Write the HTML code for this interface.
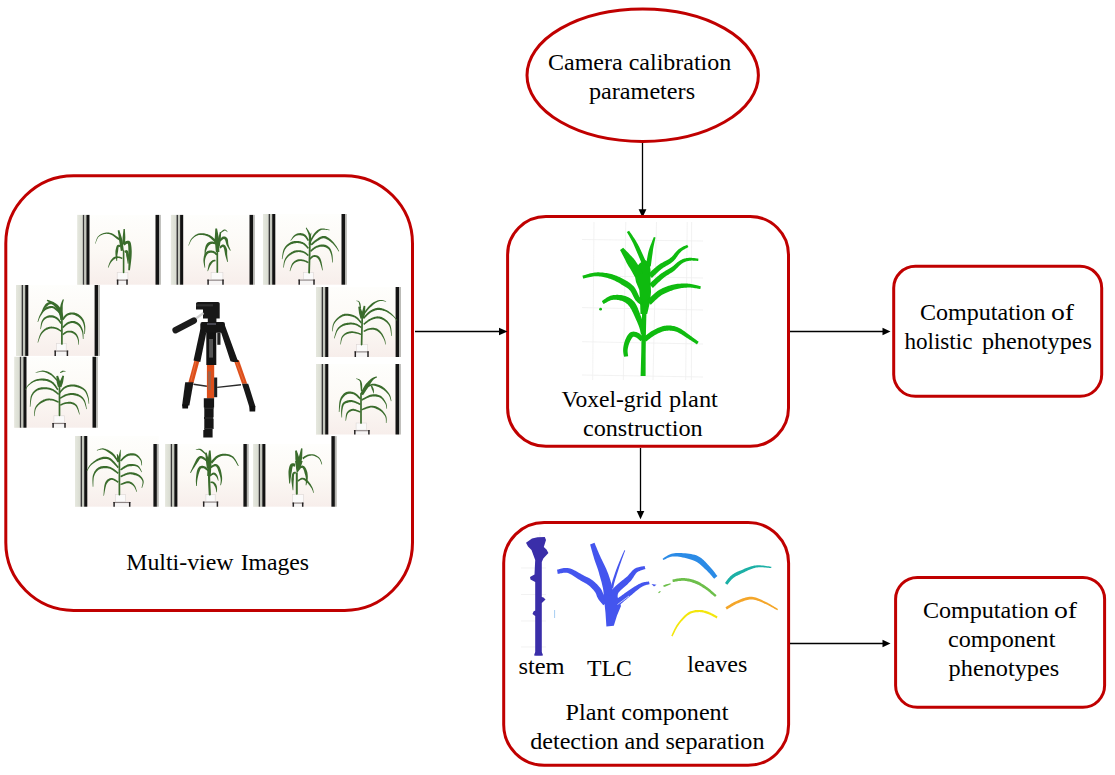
<!DOCTYPE html>
<html><head><meta charset="utf-8">
<style>
html,body{margin:0;padding:0;background:#fff;width:1115px;height:775px;overflow:hidden}
svg{position:absolute;left:0;top:0}
text{font-family:"Liberation Serif",serif;font-size:24px;fill:#000}
</style></head><body>
<svg width="1115" height="775" viewBox="0 0 1115 775">
<defs>
<linearGradient id="pbg" x1="0" y1="0" x2="0" y2="1">
<stop offset="0" stop-color="#fefefc"/><stop offset="0.5" stop-color="#fcf9f5"/><stop offset="1" stop-color="#f7eeeb"/></linearGradient>
<linearGradient id="pstrip" x1="0" y1="0" x2="1" y2="0">
<stop offset="0" stop-color="#e6e8df"/><stop offset="1" stop-color="#d8dbd0"/></linearGradient>
</defs>
<g id="photos">
<g transform="translate(77.20,214.90)">
<rect x="0" y="0.0" width="83.60" height="69.80" fill="url(#pbg)"/>
<rect x="0" y="0.0" width="5.6" height="69.8" fill="url(#pstrip)"/>
<rect x="5.6" y="0.0" width="1.6" height="69.8" fill="#3a3a3a"/>
<rect x="7.2" y="0.0" width="2.0" height="69.8" fill="#c3c6bc"/>
<rect x="9.2" y="0.0" width="3.1" height="69.8" fill="#121212"/>
<rect x="78.30" y="0.0" width="3.5" height="69.8" fill="#141414"/>
<rect x="81.80" y="0.0" width="1.8" height="69.8" fill="#b4b4b0"/>
<rect x="40.00" y="57.40" width="10.70" height="7.30" fill="#fbfafa" stroke="#dcd6d4" stroke-width="0.6"/>
<rect x="39.50" y="64.70" width="11.20" height="5.10" fill="#f6f4f4"/>
<path d="M39.50,65.30H50.70" stroke="#8d8585" stroke-width="1.1" fill="none"/>
<path d="M40.40,64.70V69.80 M49.80,64.70V69.80" stroke="#262222" stroke-width="1.5" fill="none"/>
<path d="M43.74,23.97 L43.59,23.88 L43.41,23.79 L43.21,23.68 L42.99,23.56 L42.75,23.43 L42.48,23.29 L42.20,23.14 L41.90,22.97 L41.58,22.79 L41.25,22.60 L40.90,22.40 L40.54,22.18 L40.17,21.95 L39.76,21.67 L39.32,21.35 L38.85,21.00 L38.35,20.64 L37.84,20.26 L37.30,19.89 L36.76,19.53 L36.20,19.18 L35.63,18.87 L35.05,18.59 L34.48,18.37 L33.92,18.19 L33.36,18.04 L32.79,17.91 L32.22,17.81 L31.64,17.72 L31.06,17.67 L30.48,17.64 L29.90,17.64 L29.31,17.66 L28.73,17.71 L28.16,17.80 L27.58,17.91 L27.01,18.05 L26.43,18.22 L25.83,18.42 L25.23,18.64 L24.63,18.89 L24.04,19.17 L23.45,19.47 L22.89,19.81 L22.35,20.17 L21.83,20.56 L21.35,20.98 L20.91,21.44 L20.51,21.96 L20.14,22.56 L19.80,23.21 L19.49,23.91 L19.20,24.63 L18.94,25.35 L18.71,26.06 L18.49,26.74 L18.30,27.37 L18.13,27.92 L17.98,28.38 L17.84,28.74 L18.16,28.86 L18.31,28.51 L18.49,28.05 L18.70,27.50 L18.92,26.89 L19.17,26.23 L19.45,25.55 L19.74,24.85 L20.06,24.17 L20.39,23.52 L20.74,22.92 L21.11,22.40 L21.49,21.96 L21.90,21.59 L22.35,21.23 L22.84,20.90 L23.36,20.60 L23.90,20.32 L24.45,20.07 L25.02,19.84 L25.59,19.64 L26.16,19.46 L26.73,19.31 L27.28,19.19 L27.82,19.09 L28.33,19.01 L28.85,18.97 L29.37,18.95 L29.89,18.96 L30.41,18.99 L30.92,19.04 L31.44,19.12 L31.95,19.22 L32.46,19.35 L32.96,19.49 L33.45,19.65 L33.92,19.83 L34.38,20.04 L34.84,20.30 L35.32,20.60 L35.81,20.93 L36.29,21.29 L36.77,21.67 L37.25,22.06 L37.72,22.45 L38.18,22.83 L38.62,23.19 L39.05,23.52 L39.46,23.82 L39.84,24.07 L40.20,24.31 L40.53,24.53 L40.86,24.73 L41.16,24.92 L41.44,25.10 L41.71,25.26 L41.95,25.40 L42.16,25.53 L42.35,25.65 L42.52,25.75 L42.66,25.83Z" fill="#3a6c2c"/>
<path d="M46.57,35.69 L46.51,35.16 L46.43,34.50 L46.34,33.71 L46.24,32.82 L46.13,31.86 L46.01,30.84 L45.89,29.78 L45.76,28.71 L45.62,27.65 L45.48,26.61 L45.27,25.63 L45.05,24.71 L44.81,23.83 L44.55,22.91 L44.28,21.97 L43.99,21.03 L43.71,20.10 L43.43,19.20 L43.15,18.34 L42.89,17.53 L42.65,16.79 L42.44,16.13 L42.26,15.56 L42.12,15.11 L40.48,15.49 L40.55,15.97 L40.65,16.56 L40.76,17.24 L40.89,18.01 L41.03,18.85 L41.17,19.74 L41.32,20.66 L41.47,21.60 L41.61,22.56 L41.74,23.50 L41.85,24.41 L41.95,25.29 L42.04,26.18 L42.16,27.14 L42.34,28.15 L42.52,29.19 L42.69,30.24 L42.86,31.28 L43.02,32.28 L43.17,33.24 L43.31,34.12 L43.44,34.90 L43.54,35.58 L43.63,36.11Z" fill="#3a6c2c"/>
<path d="M47.75,29.57 L47.77,29.22 L47.79,28.77 L47.82,28.24 L47.86,27.65 L47.90,27.01 L47.94,26.33 L47.98,25.61 L48.01,24.89 L48.05,24.15 L48.09,23.43 L48.12,22.73 L48.11,22.05 L48.08,21.37 L48.04,20.64 L48.01,19.88 L47.97,19.10 L47.92,18.32 L47.88,17.55 L47.84,16.81 L47.80,16.11 L47.76,15.47 L47.72,14.89 L47.70,14.40 L47.67,14.02 L46.33,13.98 L46.29,14.37 L46.24,14.86 L46.18,15.43 L46.12,16.08 L46.05,16.77 L45.97,17.51 L45.89,18.27 L45.81,19.05 L45.73,19.82 L45.65,20.57 L45.57,21.28 L45.49,21.95 L45.42,22.61 L45.39,23.30 L45.36,24.02 L45.32,24.74 L45.28,25.47 L45.24,26.17 L45.20,26.85 L45.16,27.50 L45.13,28.09 L45.10,28.61 L45.07,29.06 L45.05,29.43Z" fill="#3a6c2c"/>
<path d="M47.16,30.61 L47.35,30.49 L47.58,30.33 L47.83,30.14 L48.09,29.95 L48.37,29.75 L48.65,29.55 L48.93,29.36 L49.20,29.19 L49.45,29.06 L49.64,28.96 L49.77,28.92 L49.88,28.91 L50.14,28.87 L50.44,28.80 L50.67,28.75 L50.83,28.72 L50.90,28.71 L50.86,28.71 L50.74,28.68 L50.61,28.61 L50.54,28.56 L50.56,28.60 L50.64,28.80 L50.73,29.16 L50.83,29.70 L50.92,30.40 L50.99,31.22 L51.06,32.14 L51.11,33.15 L51.15,34.23 L51.17,35.35 L51.18,36.50 L51.24,37.66 L51.31,38.83 L51.37,39.97 L51.41,41.08 L51.44,42.21 L51.44,43.45 L51.43,44.77 L51.40,46.13 L51.36,47.51 L51.32,48.88 L51.26,50.20 L51.21,51.46 L51.16,52.62 L51.12,53.65 L51.08,54.54 L51.06,55.23 L52.74,55.37 L52.83,54.68 L52.94,53.81 L53.08,52.79 L53.23,51.64 L53.40,50.39 L53.57,49.06 L53.74,47.69 L53.91,46.31 L54.06,44.93 L54.20,43.59 L54.31,42.31 L54.39,41.12 L54.45,39.98 L54.50,38.80 L54.53,37.61 L54.54,36.41 L54.48,35.22 L54.40,34.06 L54.32,32.95 L54.22,31.88 L54.10,30.89 L53.98,29.99 L53.83,29.17 L53.67,28.44 L53.47,27.79 L53.20,27.21 L52.85,26.69 L52.38,26.25 L51.82,25.94 L51.25,25.80 L50.74,25.79 L50.33,25.85 L50.00,25.92 L49.74,26.00 L49.55,26.05 L49.32,26.09 L48.92,26.19 L48.49,26.37 L48.09,26.57 L47.72,26.80 L47.36,27.04 L47.02,27.29 L46.71,27.54 L46.41,27.77 L46.15,27.98 L45.93,28.16 L45.77,28.29 L45.64,28.39Z" fill="#3a6c2c"/>
<path d="M48.17,38.13 L48.35,38.04 L48.55,37.91 L48.72,37.79 L48.89,37.68 L49.04,37.58 L49.18,37.51 L49.27,37.47 L49.30,37.47 L49.20,37.50 L48.97,37.47 L48.71,37.34 L48.59,37.24 L48.60,37.31 L48.65,37.51 L48.71,37.81 L48.77,38.18 L48.82,38.60 L48.87,39.06 L48.91,39.55 L48.94,40.06 L48.97,40.59 L49.03,41.12 L49.16,41.63 L49.29,42.13 L49.41,42.64 L49.54,43.21 L49.66,43.82 L49.78,44.46 L49.90,45.11 L50.02,45.76 L50.12,46.40 L50.22,47.00 L50.32,47.56 L50.40,48.06 L50.47,48.48 L50.53,48.81 L51.27,48.79 L51.31,48.45 L51.35,48.03 L51.41,47.53 L51.47,46.97 L51.54,46.36 L51.61,45.71 L51.68,45.05 L51.74,44.37 L51.80,43.70 L51.85,43.05 L51.89,42.44 L51.91,41.87 L51.93,41.33 L51.94,40.78 L51.87,40.23 L51.76,39.69 L51.65,39.15 L51.53,38.62 L51.41,38.11 L51.28,37.63 L51.15,37.18 L51.00,36.76 L50.83,36.36 L50.61,35.96 L50.22,35.54 L49.66,35.24 L49.08,35.19 L48.63,35.29 L48.28,35.44 L48.00,35.62 L47.76,35.80 L47.56,35.96 L47.40,36.11 L47.28,36.22 L47.24,36.26 L47.23,36.27Z" fill="#3a6c2c"/>
<path d="M43.38,30.47 L43.34,30.46 L43.28,30.43 L43.11,30.34 L42.88,30.22 L42.60,30.08 L42.28,29.95 L41.90,29.84 L41.46,29.79 L40.95,29.84 L40.43,30.05 L39.97,30.42 L39.63,30.89 L39.40,31.39 L39.20,31.93 L39.01,32.53 L38.84,33.18 L38.67,33.88 L38.51,34.61 L38.37,35.37 L38.23,36.13 L38.21,36.90 L38.21,37.65 L38.22,38.36 L38.23,39.03 L38.27,39.71 L38.33,40.40 L38.40,41.10 L38.50,41.81 L38.60,42.50 L38.72,43.18 L38.83,43.82 L38.94,44.42 L39.04,44.98 L39.13,45.47 L39.21,45.88 L39.26,46.22 L39.94,46.18 L39.95,45.83 L39.96,45.40 L39.97,44.90 L39.99,44.34 L40.00,43.73 L40.02,43.09 L40.05,42.42 L40.09,41.74 L40.13,41.06 L40.20,40.40 L40.27,39.77 L40.37,39.17 L40.48,38.55 L40.61,37.88 L40.76,37.17 L40.90,36.45 L40.96,35.72 L41.02,35.00 L41.10,34.31 L41.19,33.66 L41.28,33.07 L41.38,32.56 L41.49,32.16 L41.57,31.91 L41.59,31.84 L41.55,31.86 L41.48,31.87 L41.48,31.87 L41.55,31.86 L41.69,31.89 L41.87,31.94 L42.08,32.01 L42.29,32.10 L42.53,32.20 L42.80,32.29 L43.02,32.33Z" fill="#3a6c2c"/>
<path d="M45.38,42.95 L45.25,42.89 L45.09,42.80 L44.88,42.69 L44.65,42.56 L44.38,42.42 L44.10,42.27 L43.78,42.12 L43.45,41.98 L43.11,41.85 L42.74,41.73 L42.36,41.64 L41.98,41.58 L41.62,41.54 L41.25,41.51 L40.87,41.49 L40.46,41.47 L40.05,41.47 L39.61,41.49 L39.18,41.52 L38.73,41.58 L38.28,41.67 L37.83,41.78 L37.38,41.94 L36.94,42.13 L36.52,42.36 L36.12,42.61 L35.74,42.92 L35.38,43.26 L35.03,43.62 L34.69,44.00 L34.37,44.39 L34.05,44.80 L33.75,45.22 L33.46,45.64 L33.19,46.08 L32.92,46.52 L32.66,47.00 L32.41,47.54 L32.18,48.10 L31.95,48.69 L31.74,49.28 L31.54,49.87 L31.35,50.45 L31.18,50.99 L31.03,51.49 L30.89,51.94 L30.77,52.31 L30.67,52.60 L31.13,52.80 L31.28,52.52 L31.45,52.16 L31.65,51.73 L31.87,51.26 L32.11,50.75 L32.37,50.21 L32.65,49.67 L32.93,49.13 L33.22,48.60 L33.51,48.11 L33.80,47.67 L34.08,47.28 L34.37,46.92 L34.68,46.56 L34.99,46.21 L35.31,45.88 L35.64,45.55 L35.97,45.25 L36.30,44.97 L36.64,44.71 L36.97,44.48 L37.28,44.26 L37.58,44.05 L37.86,43.87 L38.14,43.72 L38.43,43.59 L38.75,43.49 L39.08,43.40 L39.42,43.33 L39.77,43.28 L40.13,43.24 L40.48,43.22 L40.84,43.21 L41.18,43.20 L41.52,43.21 L41.82,43.22 L42.09,43.24 L42.35,43.29 L42.63,43.36 L42.91,43.44 L43.19,43.54 L43.47,43.65 L43.73,43.77 L43.99,43.88 L44.23,43.99 L44.45,44.10 L44.65,44.19 L44.82,44.25Z" fill="#3a6c2c"/>
<path d="M46.40,57.60 L46.40,55.80 L46.40,54.00 L46.40,52.20 L46.40,50.40 L46.40,48.60 L46.40,46.80 L46.40,45.00 L46.40,43.20 L46.40,41.40 L46.40,39.60 L46.40,37.80 L46.40,36.00" fill="none" stroke="#3a6c2c" stroke-width="1.6" stroke-linecap="round" stroke-linejoin="round"/>
</g>
<g transform="translate(170.90,214.90)">
<rect x="0" y="0.0" width="83.90" height="69.80" fill="url(#pbg)"/>
<rect x="0" y="0.0" width="5.6" height="69.8" fill="url(#pstrip)"/>
<rect x="5.6" y="0.0" width="1.6" height="69.8" fill="#3a3a3a"/>
<rect x="7.2" y="0.0" width="2.0" height="69.8" fill="#c3c6bc"/>
<rect x="9.2" y="0.0" width="3.1" height="69.8" fill="#121212"/>
<rect x="78.60" y="0.0" width="3.5" height="69.8" fill="#141414"/>
<rect x="82.10" y="0.0" width="1.8" height="69.8" fill="#b4b4b0"/>
<rect x="40.20" y="57.40" width="11.80" height="7.30" fill="#fbfafa" stroke="#dcd6d4" stroke-width="0.6"/>
<rect x="36.30" y="64.70" width="16.70" height="5.10" fill="#f6f4f4"/>
<path d="M36.30,65.30H53.00" stroke="#8d8585" stroke-width="1.1" fill="none"/>
<path d="M37.20,64.70V69.80 M52.10,64.70V69.80" stroke="#262222" stroke-width="1.5" fill="none"/>
<path d="M45.39,25.48 L45.07,25.21 L44.67,24.86 L44.19,24.42 L43.64,23.92 L43.03,23.37 L42.38,22.80 L41.69,22.22 L40.97,21.64 L40.22,21.09 L39.46,20.59 L38.69,20.14 L37.92,19.77 L37.16,19.48 L36.38,19.22 L35.57,18.98 L34.74,18.78 L33.90,18.61 L33.05,18.47 L32.20,18.37 L31.35,18.31 L30.52,18.29 L29.71,18.32 L28.92,18.40 L28.16,18.53 L27.43,18.72 L26.72,18.96 L26.02,19.26 L25.34,19.59 L24.69,19.97 L24.06,20.38 L23.45,20.82 L22.87,21.28 L22.32,21.76 L21.79,22.26 L21.30,22.76 L20.83,23.27 L20.39,23.83 L19.98,24.46 L19.60,25.14 L19.26,25.84 L18.94,26.56 L18.64,27.28 L18.38,27.98 L18.13,28.65 L17.91,29.26 L17.72,29.80 L17.55,30.25 L17.40,30.61 L17.80,30.79 L17.98,30.44 L18.18,29.99 L18.41,29.46 L18.67,28.86 L18.96,28.22 L19.27,27.55 L19.60,26.87 L19.96,26.20 L20.33,25.55 L20.73,24.95 L21.14,24.40 L21.57,23.93 L22.02,23.49 L22.52,23.05 L23.04,22.62 L23.59,22.21 L24.16,21.82 L24.74,21.45 L25.34,21.12 L25.95,20.82 L26.57,20.56 L27.19,20.35 L27.82,20.18 L28.44,20.07 L29.08,20.00 L29.77,19.98 L30.48,20.01 L31.23,20.06 L31.99,20.15 L32.75,20.28 L33.52,20.44 L34.28,20.63 L35.03,20.84 L35.75,21.09 L36.44,21.35 L37.08,21.63 L37.69,21.95 L38.31,22.35 L38.96,22.82 L39.60,23.34 L40.25,23.90 L40.87,24.48 L41.47,25.05 L42.04,25.61 L42.56,26.13 L43.03,26.60 L43.46,27.01 L43.81,27.32Z" fill="#3a6c2c"/>
<path d="M48.45,37.00 L48.44,36.41 L48.42,35.67 L48.39,34.81 L48.37,33.83 L48.34,32.77 L48.31,31.65 L48.28,30.49 L48.25,29.31 L48.22,28.14 L48.19,27.00 L48.16,25.90 L48.13,24.87 L48.07,23.86 L47.88,22.81 L47.68,21.72 L47.47,20.62 L47.27,19.52 L47.07,18.45 L46.88,17.42 L46.70,16.45 L46.54,15.56 L46.39,14.77 L46.26,14.09 L46.16,13.55 L44.44,13.65 L44.40,14.21 L44.36,14.89 L44.31,15.70 L44.26,16.61 L44.20,17.59 L44.14,18.63 L44.07,19.72 L44.01,20.83 L43.94,21.95 L43.87,23.05 L43.81,24.12 L43.87,25.13 L43.96,26.15 L44.06,27.24 L44.16,28.38 L44.27,29.54 L44.37,30.72 L44.47,31.87 L44.57,32.99 L44.67,34.04 L44.75,35.01 L44.83,35.88 L44.90,36.61 L44.95,37.20Z" fill="#3a6c2c"/>
<path d="M48.84,31.60 L48.89,31.24 L48.96,30.79 L49.04,30.26 L49.12,29.66 L49.22,29.01 L49.32,28.32 L49.43,27.61 L49.54,26.89 L49.64,26.18 L49.75,25.48 L49.81,24.81 L49.85,24.18 L49.89,23.57 L49.93,22.92 L49.97,22.26 L50.01,21.59 L50.05,20.92 L50.09,20.27 L50.13,19.65 L50.16,19.06 L50.19,18.52 L50.22,18.04 L50.25,17.63 L50.27,17.30 L48.93,17.10 L48.86,17.42 L48.76,17.83 L48.65,18.29 L48.53,18.82 L48.39,19.39 L48.25,20.00 L48.10,20.64 L47.95,21.29 L47.79,21.94 L47.64,22.58 L47.49,23.21 L47.35,23.82 L47.21,24.43 L47.07,25.09 L46.97,25.78 L46.86,26.50 L46.76,27.22 L46.65,27.93 L46.55,28.61 L46.45,29.26 L46.36,29.86 L46.29,30.39 L46.22,30.84 L46.16,31.20Z" fill="#3a6c2c"/>
<path d="M49.88,18.28 L50.10,18.13 L50.39,17.93 L50.72,17.69 L51.08,17.42 L51.48,17.13 L51.88,16.84 L52.30,16.57 L52.70,16.32 L53.08,16.10 L53.40,15.88 L53.66,15.73 L53.85,15.65 L54.02,15.63 L54.22,15.65 L54.46,15.73 L54.72,15.86 L55.00,16.03 L55.27,16.23 L55.54,16.44 L55.79,16.66 L56.03,16.87 L56.25,17.06 L56.43,17.22 L56.59,17.33 L56.81,17.07 L56.69,16.95 L56.55,16.77 L56.39,16.54 L56.20,16.29 L55.99,16.01 L55.75,15.72 L55.50,15.44 L55.22,15.17 L54.91,14.93 L54.56,14.73 L54.18,14.59 L53.75,14.55 L53.30,14.61 L52.86,14.75 L52.40,14.94 L51.98,15.23 L51.56,15.55 L51.15,15.89 L50.76,16.24 L50.39,16.57 L50.05,16.88 L49.76,17.15 L49.51,17.36 L49.32,17.52Z" fill="#3a6c2c"/>
<path d="M48.86,27.14 L49.09,26.95 L49.38,26.70 L49.71,26.40 L50.08,26.07 L50.47,25.73 L50.87,25.38 L51.28,25.04 L51.68,24.73 L52.06,24.46 L52.38,24.25 L52.63,24.12 L52.79,24.08 L52.91,24.06 L53.04,24.06 L53.15,24.08 L53.25,24.10 L53.34,24.14 L53.44,24.20 L53.54,24.27 L53.64,24.36 L53.75,24.48 L53.87,24.63 L53.99,24.81 L54.09,24.99 L54.17,25.18 L54.27,25.43 L54.40,25.76 L54.54,26.15 L54.67,26.60 L54.80,27.08 L54.93,27.60 L55.08,28.14 L55.23,28.69 L55.40,29.24 L55.60,29.79 L55.82,30.32 L56.08,30.83 L56.36,31.35 L56.66,31.89 L56.98,32.43 L57.31,32.96 L57.65,33.49 L57.97,33.99 L58.28,34.46 L58.56,34.89 L58.81,35.28 L59.02,35.60 L59.18,35.86 L59.82,35.54 L59.70,35.25 L59.55,34.88 L59.37,34.46 L59.17,33.98 L58.95,33.47 L58.73,32.93 L58.50,32.36 L58.28,31.79 L58.07,31.23 L57.88,30.68 L57.71,30.16 L57.58,29.68 L57.48,29.23 L57.40,28.76 L57.34,28.26 L57.29,27.74 L57.25,27.21 L57.21,26.68 L57.17,26.14 L57.12,25.61 L57.04,25.09 L56.94,24.57 L56.76,24.06 L56.51,23.61 L56.24,23.22 L55.97,22.89 L55.67,22.58 L55.34,22.30 L54.99,22.06 L54.61,21.85 L54.21,21.69 L53.79,21.59 L53.36,21.53 L52.92,21.54 L52.48,21.60 L52.01,21.72 L51.53,21.94 L51.07,22.23 L50.63,22.57 L50.20,22.94 L49.78,23.34 L49.36,23.75 L48.97,24.16 L48.60,24.55 L48.26,24.91 L47.96,25.23 L47.72,25.48 L47.54,25.66Z" fill="#3a6c2c"/>
<path d="M49.46,33.62 L49.67,33.49 L49.93,33.30 L50.21,33.09 L50.52,32.86 L50.83,32.63 L51.16,32.40 L51.48,32.19 L51.77,32.02 L52.03,31.90 L52.20,31.85 L52.25,31.85 L52.16,31.85 L52.10,31.85 L52.13,31.88 L52.21,31.98 L52.32,32.13 L52.45,32.33 L52.58,32.58 L52.72,32.87 L52.85,33.19 L52.97,33.53 L53.09,33.89 L53.20,34.25 L53.29,34.59 L53.37,34.92 L53.42,35.26 L53.47,35.63 L53.55,36.03 L53.64,36.46 L53.72,36.92 L53.80,37.40 L53.88,37.90 L53.96,38.43 L54.06,38.96 L54.18,39.51 L54.31,40.06 L54.46,40.63 L54.63,41.25 L54.81,41.90 L55.01,42.58 L55.21,43.26 L55.41,43.94 L55.61,44.59 L55.79,45.21 L55.97,45.79 L56.12,46.30 L56.25,46.73 L56.35,47.07 L57.05,46.93 L57.01,46.58 L56.96,46.13 L56.90,45.60 L56.83,45.00 L56.76,44.36 L56.68,43.68 L56.60,42.98 L56.53,42.28 L56.46,41.58 L56.39,40.92 L56.34,40.30 L56.29,39.74 L56.27,39.23 L56.26,38.73 L56.26,38.22 L56.26,37.72 L56.27,37.23 L56.28,36.73 L56.29,36.23 L56.28,35.74 L56.26,35.24 L56.17,34.75 L56.05,34.27 L55.91,33.81 L55.75,33.38 L55.58,32.96 L55.40,32.55 L55.20,32.13 L54.99,31.73 L54.77,31.34 L54.52,30.97 L54.25,30.61 L53.94,30.28 L53.59,29.98 L53.17,29.73 L52.64,29.55 L52.04,29.53 L51.50,29.65 L51.04,29.86 L50.63,30.10 L50.24,30.37 L49.87,30.66 L49.52,30.95 L49.20,31.24 L48.91,31.50 L48.66,31.72 L48.48,31.88 L48.34,31.98Z" fill="#3a6c2c"/>
<path d="M45.49,27.63 L45.28,27.57 L45.00,27.49 L44.65,27.38 L44.24,27.26 L43.79,27.12 L43.32,26.99 L42.82,26.86 L42.30,26.74 L41.78,26.64 L41.26,26.58 L40.73,26.55 L40.22,26.58 L39.77,26.65 L39.34,26.75 L38.92,26.88 L38.51,27.03 L38.11,27.21 L37.72,27.41 L37.35,27.64 L36.99,27.89 L36.64,28.16 L36.30,28.45 L35.99,28.77 L35.72,29.15 L35.47,29.56 L35.23,29.99 L35.03,30.44 L34.84,30.91 L34.68,31.38 L34.53,31.86 L34.39,32.34 L34.27,32.82 L34.16,33.30 L34.06,33.77 L33.96,34.23 L33.88,34.68 L33.80,35.15 L33.75,35.64 L33.71,36.14 L33.68,36.65 L33.66,37.15 L33.65,37.64 L33.65,38.11 L33.65,38.55 L33.65,38.96 L33.65,39.32 L33.65,39.62 L33.65,39.86 L34.35,39.94 L34.41,39.70 L34.47,39.39 L34.53,39.04 L34.61,38.65 L34.69,38.22 L34.79,37.77 L34.89,37.30 L35.00,36.84 L35.11,36.38 L35.24,35.93 L35.38,35.51 L35.52,35.12 L35.68,34.73 L35.85,34.32 L36.03,33.91 L36.21,33.50 L36.41,33.09 L36.61,32.69 L36.82,32.31 L37.03,31.95 L37.24,31.62 L37.46,31.33 L37.67,31.07 L37.88,30.85 L38.10,30.65 L38.29,30.43 L38.49,30.22 L38.69,30.02 L38.91,29.84 L39.13,29.68 L39.35,29.53 L39.59,29.39 L39.83,29.28 L40.08,29.17 L40.33,29.09 L40.58,29.02 L40.83,28.98 L41.14,28.96 L41.52,28.97 L41.94,29.01 L42.38,29.07 L42.83,29.14 L43.29,29.22 L43.72,29.31 L44.13,29.39 L44.51,29.47 L44.84,29.53 L45.11,29.57Z" fill="#3a6c2c"/>
<path d="M46.59,39.23 L46.45,39.09 L46.28,38.91 L46.06,38.68 L45.81,38.41 L45.53,38.11 L45.22,37.80 L44.88,37.47 L44.52,37.16 L44.14,36.85 L43.73,36.56 L43.30,36.31 L42.84,36.11 L42.39,35.97 L41.93,35.86 L41.45,35.77 L40.96,35.70 L40.46,35.65 L39.96,35.63 L39.45,35.62 L38.96,35.64 L38.47,35.68 L37.99,35.75 L37.53,35.84 L37.10,35.96 L36.69,36.12 L36.31,36.29 L35.94,36.50 L35.60,36.73 L35.27,36.98 L34.97,37.26 L34.68,37.56 L34.43,37.89 L34.21,38.24 L34.01,38.61 L33.82,38.99 L33.64,39.38 L33.48,39.80 L33.32,40.25 L33.18,40.72 L33.04,41.21 L32.92,41.72 L32.82,42.24 L32.72,42.77 L32.65,43.32 L32.59,43.87 L32.54,44.43 L32.52,44.99 L32.51,45.56 L32.54,46.17 L32.59,46.82 L32.68,47.49 L32.78,48.19 L32.90,48.88 L33.04,49.57 L33.17,50.24 L33.30,50.87 L33.42,51.45 L33.53,51.96 L33.62,52.40 L33.68,52.74 L34.32,52.66 L34.30,52.31 L34.27,51.86 L34.23,51.33 L34.18,50.74 L34.13,50.11 L34.09,49.44 L34.05,48.75 L34.02,48.07 L34.01,47.39 L34.01,46.75 L34.04,46.16 L34.09,45.64 L34.16,45.14 L34.25,44.64 L34.35,44.15 L34.47,43.66 L34.60,43.19 L34.75,42.72 L34.90,42.28 L35.06,41.86 L35.23,41.45 L35.40,41.08 L35.58,40.73 L35.76,40.42 L35.93,40.13 L36.11,39.86 L36.29,39.62 L36.47,39.41 L36.63,39.21 L36.78,39.03 L36.94,38.86 L37.11,38.71 L37.28,38.57 L37.47,38.45 L37.68,38.34 L37.90,38.24 L38.15,38.15 L38.45,38.06 L38.79,37.99 L39.16,37.94 L39.55,37.90 L39.96,37.87 L40.36,37.87 L40.77,37.88 L41.16,37.91 L41.53,37.95 L41.87,38.02 L42.16,38.09 L42.41,38.17 L42.69,38.31 L42.98,38.49 L43.29,38.70 L43.60,38.95 L43.91,39.20 L44.20,39.47 L44.49,39.73 L44.75,39.98 L44.99,40.21 L45.22,40.42 L45.41,40.57Z" fill="#3a6c2c"/>
<path d="M44.46,44.86 L44.36,44.87 L44.22,44.88 L44.04,44.88 L43.81,44.89 L43.55,44.90 L43.27,44.92 L42.96,44.96 L42.64,45.01 L42.30,45.10 L41.96,45.21 L41.61,45.37 L41.28,45.56 L40.99,45.77 L40.70,45.98 L40.42,46.21 L40.13,46.46 L39.84,46.74 L39.54,47.04 L39.25,47.35 L38.97,47.69 L38.69,48.06 L38.44,48.46 L38.23,48.90 L38.03,49.37 L37.85,49.89 L37.68,50.47 L37.52,51.08 L37.37,51.73 L37.23,52.39 L37.10,53.05 L36.98,53.69 L36.87,54.31 L36.77,54.87 L36.68,55.37 L36.61,55.79 L36.54,56.12 L37.06,56.28 L37.19,55.97 L37.35,55.57 L37.54,55.09 L37.76,54.56 L37.99,53.99 L38.23,53.39 L38.49,52.78 L38.75,52.18 L39.02,51.61 L39.28,51.08 L39.53,50.62 L39.77,50.23 L40.00,49.89 L40.24,49.57 L40.46,49.25 L40.66,48.93 L40.86,48.63 L41.07,48.35 L41.28,48.09 L41.50,47.84 L41.71,47.61 L41.92,47.40 L42.13,47.20 L42.32,47.04 L42.48,46.91 L42.65,46.81 L42.84,46.73 L43.05,46.65 L43.27,46.59 L43.50,46.54 L43.72,46.50 L43.95,46.47 L44.16,46.44 L44.37,46.41 L44.57,46.38 L44.74,46.34Z" fill="#3a6c2c"/>
<path d="M46.40,57.00 L46.40,55.33 L46.40,53.67 L46.40,52.00 L46.40,50.33 L46.40,48.67 L46.40,47.00 L46.40,45.33 L46.40,43.67 L46.40,42.00 L46.40,40.33 L46.40,38.67 L46.40,37.00" fill="none" stroke="#3a6c2c" stroke-width="1.7" stroke-linecap="round" stroke-linejoin="round"/>
</g>
<g transform="translate(263.00,214.00)">
<rect x="0" y="0.0" width="83.80" height="70.70" fill="url(#pbg)"/>
<rect x="0" y="0.0" width="5.6" height="70.7" fill="url(#pstrip)"/>
<rect x="5.6" y="0.0" width="1.6" height="70.7" fill="#3a3a3a"/>
<rect x="7.2" y="0.0" width="2.0" height="70.7" fill="#c3c6bc"/>
<rect x="9.2" y="0.0" width="3.1" height="70.7" fill="#121212"/>
<rect x="78.50" y="0.0" width="3.5" height="70.7" fill="#141414"/>
<rect x="82.00" y="0.0" width="1.8" height="70.7" fill="#b4b4b0"/>
<rect x="40.30" y="58.40" width="10.10" height="7.10" fill="#fbfafa" stroke="#dcd6d4" stroke-width="0.6"/>
<rect x="35.30" y="65.50" width="16.60" height="5.20" fill="#f6f4f4"/>
<path d="M35.30,66.10H51.90" stroke="#8d8585" stroke-width="1.1" fill="none"/>
<path d="M36.20,65.50V70.70 M51.00,65.50V70.70" stroke="#262222" stroke-width="1.5" fill="none"/>
<path d="M48.01,30.93 L48.02,30.49 L48.05,29.94 L48.08,29.27 L48.13,28.51 L48.17,27.67 L48.20,26.79 L48.23,25.87 L48.23,24.93 L48.21,24.00 L48.16,23.08 L48.03,22.21 L47.84,21.38 L47.58,20.59 L47.26,19.80 L46.90,19.02 L46.49,18.25 L46.07,17.50 L45.64,16.78 L45.21,16.10 L44.80,15.47 L44.43,14.89 L44.09,14.38 L43.82,13.95 L43.61,13.60 L42.79,14.00 L42.95,14.40 L43.17,14.88 L43.44,15.44 L43.73,16.06 L44.04,16.74 L44.36,17.45 L44.67,18.19 L44.97,18.95 L45.24,19.71 L45.47,20.45 L45.65,21.16 L45.76,21.82 L45.82,22.50 L45.86,23.26 L45.90,24.08 L45.90,24.93 L45.88,25.81 L45.85,26.69 L45.80,27.54 L45.74,28.36 L45.69,29.12 L45.64,29.80 L45.60,30.40 L45.59,30.87Z" fill="#3a6c2c"/>
<path d="M47.26,24.12 L47.41,23.70 L47.56,23.28 L47.71,22.85 L47.87,22.43 L48.02,22.00 L48.11,21.56 L48.15,21.11 L48.19,20.66 L48.24,20.20 L48.28,19.75 L48.32,19.30 L48.36,18.84 L48.04,18.76 L47.85,19.17 L47.66,19.58 L47.46,20.00 L47.27,20.41 L47.08,20.82 L46.89,21.24 L46.75,21.66 L46.67,22.10 L46.59,22.55 L46.50,22.99 L46.42,23.43 L46.34,23.88Z" fill="#3a6c2c"/>
<path d="M48.11,27.65 L48.33,27.30 L48.59,26.85 L48.89,26.32 L49.22,25.74 L49.58,25.11 L49.96,24.45 L50.37,23.78 L50.79,23.11 L51.22,22.46 L51.65,21.85 L52.08,21.30 L52.51,20.81 L52.95,20.33 L53.42,19.85 L53.89,19.37 L54.37,18.91 L54.84,18.45 L55.30,17.99 L55.77,17.56 L56.25,17.16 L56.74,16.80 L57.25,16.49 L57.76,16.22 L58.29,16.01 L58.86,15.85 L59.53,15.75 L60.27,15.71 L61.07,15.71 L61.89,15.74 L62.72,15.81 L63.54,15.89 L64.32,15.99 L65.04,16.08 L65.68,16.16 L66.24,16.22 L66.67,16.25 L66.73,15.75 L66.32,15.67 L65.79,15.56 L65.16,15.41 L64.45,15.23 L63.68,15.05 L62.86,14.88 L62.02,14.72 L61.16,14.58 L60.31,14.49 L59.47,14.45 L58.67,14.48 L57.91,14.59 L57.21,14.79 L56.54,15.05 L55.89,15.36 L55.26,15.71 L54.65,16.11 L54.07,16.54 L53.50,16.99 L52.96,17.48 L52.47,18.00 L52.00,18.53 L51.54,19.06 L51.09,19.59 L50.64,20.18 L50.19,20.83 L49.75,21.51 L49.33,22.22 L48.93,22.95 L48.55,23.66 L48.19,24.36 L47.86,25.02 L47.56,25.62 L47.30,26.16 L47.07,26.60 L46.89,26.95Z" fill="#3a6c2c"/>
<path d="M48.77,31.53 L49.01,31.32 L49.31,31.05 L49.65,30.74 L50.03,30.40 L50.44,30.03 L50.87,29.64 L51.33,29.24 L51.81,28.85 L52.29,28.46 L52.78,28.09 L53.26,27.75 L53.75,27.43 L54.28,27.11 L54.83,26.75 L55.41,26.39 L56.00,26.04 L56.60,25.69 L57.19,25.36 L57.79,25.05 L58.37,24.79 L58.92,24.57 L59.45,24.41 L59.93,24.31 L60.37,24.27 L60.79,24.29 L61.22,24.35 L61.66,24.46 L62.12,24.59 L62.59,24.75 L63.08,24.95 L63.58,25.18 L64.09,25.45 L64.60,25.74 L65.11,26.04 L65.62,26.37 L66.13,26.69 L66.62,27.02 L67.11,27.38 L67.61,27.78 L68.11,28.20 L68.61,28.65 L69.10,29.11 L69.59,29.59 L70.06,30.08 L70.53,30.56 L70.98,31.05 L71.41,31.52 L71.82,31.98 L72.21,32.44 L72.60,32.93 L72.99,33.45 L73.36,33.97 L73.73,34.51 L74.08,35.03 L74.40,35.53 L74.71,36.01 L74.99,36.45 L75.24,36.85 L75.46,37.19 L75.64,37.46 L76.16,37.14 L76.01,36.86 L75.82,36.51 L75.61,36.10 L75.37,35.63 L75.11,35.12 L74.82,34.58 L74.52,34.02 L74.20,33.45 L73.86,32.87 L73.51,32.30 L73.15,31.75 L72.78,31.22 L72.40,30.71 L72.00,30.19 L71.59,29.65 L71.16,29.11 L70.71,28.56 L70.25,28.02 L69.78,27.49 L69.29,26.97 L68.80,26.46 L68.29,25.98 L67.78,25.53 L67.27,25.11 L66.77,24.72 L66.27,24.34 L65.75,23.96 L65.22,23.59 L64.67,23.24 L64.11,22.90 L63.52,22.60 L62.91,22.33 L62.28,22.12 L61.61,21.99 L60.93,21.92 L60.23,21.93 L59.52,22.02 L58.82,22.21 L58.13,22.45 L57.45,22.75 L56.78,23.09 L56.13,23.46 L55.49,23.85 L54.87,24.25 L54.28,24.65 L53.71,25.04 L53.17,25.42 L52.65,25.77 L52.12,26.14 L51.60,26.55 L51.08,26.98 L50.58,27.42 L50.10,27.86 L49.64,28.30 L49.21,28.72 L48.81,29.11 L48.44,29.47 L48.12,29.79 L47.86,30.06 L47.63,30.27Z" fill="#3a6c2c"/>
<path d="M48.00,37.93 L48.29,37.71 L48.64,37.42 L49.04,37.08 L49.48,36.71 L49.96,36.32 L50.46,35.91 L50.99,35.50 L51.53,35.10 L52.07,34.72 L52.60,34.39 L53.11,34.10 L53.60,33.87 L54.11,33.67 L54.65,33.47 L55.22,33.29 L55.79,33.13 L56.38,32.99 L56.96,32.87 L57.54,32.77 L58.12,32.70 L58.67,32.66 L59.21,32.64 L59.71,32.66 L60.18,32.71 L60.64,32.78 L61.11,32.89 L61.57,33.02 L62.03,33.15 L62.49,33.30 L62.95,33.48 L63.39,33.68 L63.81,33.91 L64.22,34.16 L64.61,34.43 L64.97,34.73 L65.31,35.03 L65.62,35.37 L65.92,35.74 L66.20,36.15 L66.48,36.60 L66.74,37.08 L66.98,37.58 L67.21,38.11 L67.43,38.66 L67.64,39.22 L67.83,39.80 L68.01,40.37 L68.19,40.94 L68.34,41.54 L68.48,42.19 L68.60,42.90 L68.71,43.63 L68.80,44.38 L68.89,45.13 L68.96,45.85 L69.02,46.54 L69.07,47.18 L69.12,47.75 L69.17,48.24 L69.21,48.62 L69.79,48.58 L69.78,48.20 L69.77,47.72 L69.77,47.15 L69.77,46.51 L69.77,45.81 L69.76,45.07 L69.75,44.31 L69.72,43.54 L69.67,42.77 L69.61,42.03 L69.52,41.31 L69.41,40.66 L69.28,40.04 L69.15,39.43 L68.99,38.81 L68.83,38.20 L68.65,37.59 L68.44,36.99 L68.22,36.40 L67.97,35.83 L67.70,35.28 L67.40,34.75 L67.06,34.24 L66.69,33.77 L66.29,33.33 L65.86,32.92 L65.40,32.53 L64.92,32.18 L64.42,31.85 L63.89,31.54 L63.35,31.27 L62.79,31.03 L62.21,30.82 L61.62,30.68 L61.02,30.57 L60.42,30.49 L59.80,30.46 L59.16,30.47 L58.51,30.51 L57.85,30.59 L57.20,30.70 L56.54,30.84 L55.88,31.01 L55.24,31.19 L54.60,31.40 L53.98,31.63 L53.39,31.87 L52.80,32.13 L52.21,32.44 L51.61,32.81 L51.02,33.22 L50.44,33.66 L49.89,34.11 L49.35,34.57 L48.84,35.02 L48.37,35.44 L47.94,35.83 L47.57,36.18 L47.25,36.46 L47.00,36.67Z" fill="#3a6c2c"/>
<path d="M47.31,45.66 L47.50,45.50 L47.72,45.28 L47.97,45.04 L48.25,44.77 L48.54,44.48 L48.85,44.20 L49.17,43.92 L49.48,43.66 L49.79,43.44 L50.08,43.25 L50.34,43.13 L50.56,43.06 L50.81,43.01 L51.09,42.98 L51.40,42.96 L51.71,42.97 L52.03,43.00 L52.35,43.05 L52.66,43.12 L52.97,43.21 L53.26,43.32 L53.54,43.45 L53.78,43.59 L54.01,43.75 L54.23,43.93 L54.45,44.13 L54.65,44.34 L54.84,44.57 L55.04,44.82 L55.26,45.09 L55.47,45.39 L55.69,45.73 L55.91,46.10 L56.13,46.52 L56.36,46.99 L56.59,47.49 L56.83,48.07 L57.09,48.76 L57.35,49.55 L57.62,50.40 L57.88,51.29 L58.14,52.19 L58.39,53.07 L58.63,53.92 L58.84,54.71 L59.04,55.41 L59.20,56.00 L59.34,56.46 L59.86,56.34 L59.79,55.88 L59.70,55.27 L59.59,54.55 L59.48,53.74 L59.35,52.87 L59.21,51.95 L59.06,51.02 L58.90,50.09 L58.74,49.19 L58.57,48.35 L58.39,47.58 L58.21,46.91 L58.02,46.33 L57.84,45.79 L57.64,45.29 L57.44,44.81 L57.23,44.37 L57.00,43.95 L56.76,43.56 L56.49,43.20 L56.19,42.87 L55.87,42.58 L55.54,42.31 L55.19,42.05 L54.80,41.82 L54.39,41.62 L53.96,41.45 L53.53,41.32 L53.08,41.22 L52.64,41.15 L52.19,41.11 L51.75,41.09 L51.31,41.11 L50.88,41.16 L50.46,41.23 L50.04,41.34 L49.60,41.52 L49.18,41.76 L48.78,42.04 L48.41,42.35 L48.05,42.68 L47.71,43.02 L47.40,43.35 L47.11,43.66 L46.85,43.95 L46.62,44.20 L46.44,44.40 L46.29,44.54Z" fill="#3a6c2c"/>
<path d="M46.07,26.15 L45.92,25.91 L45.73,25.58 L45.51,25.18 L45.25,24.73 L44.97,24.23 L44.67,23.70 L44.34,23.17 L44.00,22.64 L43.63,22.12 L43.25,21.63 L42.84,21.19 L42.41,20.80 L41.98,20.48 L41.53,20.21 L41.07,19.97 L40.61,19.76 L40.13,19.59 L39.65,19.44 L39.16,19.31 L38.68,19.21 L38.20,19.14 L37.73,19.10 L37.26,19.10 L36.80,19.12 L36.35,19.16 L35.90,19.21 L35.44,19.28 L34.98,19.37 L34.53,19.48 L34.07,19.62 L33.63,19.78 L33.18,19.97 L32.74,20.18 L32.31,20.42 L31.89,20.70 L31.47,21.00 L31.05,21.38 L30.64,21.81 L30.23,22.29 L29.83,22.81 L29.43,23.34 L29.06,23.88 L28.70,24.42 L28.37,24.93 L28.06,25.40 L27.79,25.81 L27.56,26.16 L27.38,26.42 L27.82,26.78 L28.05,26.54 L28.33,26.22 L28.66,25.84 L29.02,25.42 L29.41,24.96 L29.83,24.49 L30.26,24.02 L30.70,23.56 L31.14,23.14 L31.56,22.76 L31.96,22.44 L32.33,22.20 L32.68,22.00 L33.05,21.83 L33.42,21.68 L33.79,21.56 L34.16,21.46 L34.54,21.38 L34.91,21.32 L35.29,21.28 L35.67,21.26 L36.05,21.25 L36.42,21.26 L36.80,21.28 L37.18,21.31 L37.56,21.36 L37.95,21.40 L38.34,21.44 L38.73,21.49 L39.11,21.56 L39.49,21.65 L39.86,21.76 L40.22,21.89 L40.56,22.04 L40.89,22.21 L41.19,22.40 L41.48,22.63 L41.80,22.93 L42.13,23.31 L42.48,23.73 L42.82,24.19 L43.16,24.67 L43.48,25.15 L43.78,25.61 L44.06,26.05 L44.32,26.44 L44.55,26.79 L44.73,27.05Z" fill="#3a6c2c"/>
<path d="M45.98,33.85 L45.76,33.61 L45.50,33.29 L45.18,32.90 L44.82,32.46 L44.42,31.97 L43.98,31.46 L43.52,30.94 L43.03,30.43 L42.52,29.93 L41.98,29.46 L41.42,29.03 L40.85,28.67 L40.28,28.38 L39.70,28.12 L39.09,27.88 L38.47,27.66 L37.84,27.48 L37.19,27.32 L36.53,27.18 L35.87,27.07 L35.21,26.99 L34.55,26.94 L33.90,26.91 L33.25,26.92 L32.60,26.95 L31.94,27.01 L31.28,27.11 L30.61,27.23 L29.95,27.37 L29.29,27.58 L28.65,27.82 L28.01,28.08 L27.40,28.37 L26.80,28.68 L26.22,29.02 L25.68,29.38 L25.15,29.76 L24.65,30.16 L24.16,30.58 L23.68,31.03 L23.22,31.50 L22.78,32.00 L22.36,32.52 L21.95,33.07 L21.58,33.64 L21.22,34.24 L20.90,34.86 L20.59,35.52 L20.32,36.25 L20.08,37.06 L19.87,37.94 L19.68,38.85 L19.52,39.78 L19.38,40.72 L19.26,41.63 L19.15,42.49 L19.06,43.28 L18.97,43.99 L18.89,44.58 L18.82,45.04 L19.38,45.16 L19.49,44.69 L19.62,44.10 L19.76,43.40 L19.92,42.62 L20.10,41.77 L20.29,40.88 L20.50,39.98 L20.73,39.09 L20.98,38.23 L21.24,37.42 L21.52,36.70 L21.81,36.08 L22.12,35.52 L22.46,34.99 L22.82,34.48 L23.19,34.00 L23.59,33.55 L24.00,33.12 L24.42,32.71 L24.86,32.33 L25.31,31.97 L25.77,31.63 L26.25,31.31 L26.72,31.02 L27.21,30.75 L27.72,30.51 L28.26,30.28 L28.81,30.08 L29.37,29.89 L29.95,29.73 L30.52,29.59 L31.10,29.44 L31.67,29.31 L32.24,29.21 L32.80,29.13 L33.35,29.08 L33.90,29.06 L34.46,29.06 L35.04,29.08 L35.62,29.13 L36.20,29.20 L36.77,29.30 L37.35,29.42 L37.91,29.56 L38.45,29.72 L38.98,29.91 L39.48,30.11 L39.95,30.33 L40.39,30.58 L40.84,30.90 L41.31,31.28 L41.78,31.70 L42.25,32.15 L42.70,32.62 L43.14,33.09 L43.54,33.55 L43.92,33.98 L44.26,34.36 L44.57,34.70 L44.82,34.95Z" fill="#3a6c2c"/>
<path d="M45.86,40.90 L45.64,40.73 L45.38,40.50 L45.06,40.21 L44.69,39.89 L44.29,39.53 L43.85,39.16 L43.38,38.78 L42.88,38.41 L42.37,38.05 L41.83,37.71 L41.27,37.41 L40.70,37.17 L40.14,36.98 L39.57,36.80 L38.98,36.64 L38.37,36.50 L37.74,36.37 L37.09,36.27 L36.44,36.19 L35.77,36.14 L35.11,36.13 L34.44,36.14 L33.77,36.20 L33.10,36.29 L32.44,36.43 L31.77,36.61 L31.09,36.83 L30.42,37.08 L29.76,37.39 L29.11,37.73 L28.48,38.09 L27.86,38.48 L27.27,38.88 L26.70,39.28 L26.16,39.70 L25.66,40.13 L25.18,40.56 L24.72,41.02 L24.29,41.49 L23.88,41.98 L23.49,42.48 L23.12,43.00 L22.77,43.52 L22.45,44.06 L22.15,44.60 L21.87,45.15 L21.62,45.71 L21.38,46.28 L21.16,46.88 L20.99,47.54 L20.84,48.23 L20.72,48.94 L20.62,49.65 L20.53,50.35 L20.47,51.02 L20.41,51.66 L20.36,52.25 L20.32,52.77 L20.28,53.21 L20.23,53.56 L20.77,53.64 L20.84,53.29 L20.92,52.85 L21.01,52.33 L21.10,51.75 L21.21,51.12 L21.33,50.47 L21.47,49.79 L21.62,49.12 L21.79,48.46 L21.98,47.83 L22.19,47.25 L22.42,46.72 L22.68,46.23 L22.96,45.73 L23.26,45.25 L23.58,44.77 L23.91,44.31 L24.27,43.85 L24.64,43.41 L25.03,42.99 L25.43,42.58 L25.85,42.19 L26.29,41.82 L26.74,41.47 L27.23,41.13 L27.74,40.80 L28.29,40.47 L28.85,40.15 L29.44,39.85 L30.04,39.57 L30.64,39.31 L31.24,39.07 L31.82,38.83 L32.40,38.62 L32.96,38.44 L33.50,38.31 L34.03,38.21 L34.58,38.14 L35.14,38.10 L35.71,38.09 L36.29,38.11 L36.87,38.16 L37.44,38.22 L38.01,38.31 L38.56,38.42 L39.10,38.54 L39.62,38.68 L40.10,38.83 L40.55,38.99 L41.00,39.21 L41.46,39.48 L41.93,39.77 L42.39,40.09 L42.84,40.43 L43.27,40.76 L43.67,41.09 L44.04,41.40 L44.39,41.68 L44.69,41.92 L44.94,42.10Z" fill="#3a6c2c"/>
<path d="M45.69,47.95 L45.47,47.84 L45.19,47.70 L44.85,47.52 L44.46,47.31 L44.04,47.09 L43.59,46.85 L43.11,46.61 L42.61,46.38 L42.11,46.16 L41.59,45.97 L41.08,45.79 L40.58,45.66 L40.10,45.56 L39.62,45.47 L39.12,45.38 L38.62,45.31 L38.10,45.26 L37.58,45.22 L37.05,45.20 L36.52,45.21 L35.98,45.24 L35.45,45.30 L34.91,45.40 L34.39,45.54 L33.90,45.73 L33.42,45.95 L32.94,46.20 L32.47,46.47 L32.00,46.77 L31.54,47.10 L31.10,47.45 L30.67,47.83 L30.26,48.23 L29.86,48.66 L29.50,49.12 L29.15,49.61 L28.83,50.16 L28.53,50.79 L28.26,51.46 L28.01,52.17 L27.78,52.90 L27.57,53.62 L27.37,54.34 L27.19,55.01 L27.03,55.64 L26.89,56.19 L26.77,56.66 L26.66,57.01 L27.14,57.19 L27.29,56.83 L27.47,56.38 L27.67,55.84 L27.89,55.24 L28.14,54.59 L28.41,53.91 L28.69,53.23 L28.99,52.56 L29.30,51.92 L29.62,51.33 L29.93,50.82 L30.25,50.39 L30.58,50.02 L30.93,49.67 L31.30,49.35 L31.69,49.05 L32.09,48.77 L32.49,48.51 L32.91,48.28 L33.33,48.07 L33.76,47.89 L34.18,47.72 L34.60,47.58 L35.01,47.46 L35.39,47.34 L35.79,47.24 L36.20,47.17 L36.63,47.12 L37.07,47.09 L37.52,47.08 L37.98,47.09 L38.44,47.12 L38.89,47.16 L39.35,47.21 L39.80,47.27 L40.22,47.34 L40.64,47.42 L41.07,47.54 L41.53,47.69 L41.99,47.86 L42.46,48.05 L42.93,48.25 L43.37,48.45 L43.80,48.65 L44.19,48.83 L44.54,49.00 L44.86,49.14 L45.11,49.25Z" fill="#3a6c2c"/>
<path d="M46.10,58.60 L46.12,57.94 L46.14,57.13 L46.17,56.17 L46.21,55.09 L46.24,53.92 L46.28,52.68 L46.32,51.39 L46.36,50.07 L46.40,48.75 L46.43,47.45 L46.47,46.19 L46.50,45.00 L46.53,43.80 L46.56,42.52 L46.59,41.18 L46.62,39.81 L46.65,38.45 L46.67,37.10 L46.70,35.80 L46.73,34.57 L46.75,33.45 L46.77,32.44 L46.79,31.58 L46.80,30.90" fill="none" stroke="#3a6c2c" stroke-width="1.8" stroke-linecap="round" stroke-linejoin="round"/>
</g>
<g transform="translate(16.00,285.00)">
<rect x="0" y="0.0" width="83.90" height="70.90" fill="url(#pbg)"/>
<rect x="0" y="0.0" width="5.6" height="70.9" fill="url(#pstrip)"/>
<rect x="5.6" y="0.0" width="1.6" height="70.9" fill="#3a3a3a"/>
<rect x="7.2" y="0.0" width="2.0" height="70.9" fill="#c3c6bc"/>
<rect x="9.2" y="0.0" width="3.1" height="70.9" fill="#121212"/>
<rect x="78.60" y="0.0" width="3.5" height="70.9" fill="#141414"/>
<rect x="82.10" y="0.0" width="1.8" height="70.9" fill="#b4b4b0"/>
<rect x="40.30" y="58.30" width="9.90" height="7.20" fill="#fbfafa" stroke="#dcd6d4" stroke-width="0.6"/>
<rect x="38.30" y="65.50" width="14.00" height="5.40" fill="#f6f4f4"/>
<path d="M38.30,66.10H52.30" stroke="#8d8585" stroke-width="1.1" fill="none"/>
<path d="M39.20,65.50V70.90 M51.40,65.50V70.90" stroke="#262222" stroke-width="1.5" fill="none"/>
<path d="M47.51,34.61 L47.49,34.41 L47.47,34.15 L47.46,33.83 L47.44,33.46 L47.41,33.04 L47.38,32.59 L47.34,32.10 L47.28,31.59 L47.21,31.05 L47.11,30.51 L46.99,29.95 L46.85,29.41 L46.70,28.89 L46.53,28.35 L46.36,27.79 L46.16,27.22 L45.95,26.62 L45.72,26.02 L45.48,25.41 L45.22,24.81 L44.93,24.20 L44.63,23.60 L44.30,23.02 L43.94,22.45 L43.58,21.91 L43.19,21.39 L42.74,20.93 L42.27,20.47 L41.79,20.04 L41.30,19.62 L40.80,19.21 L40.28,18.82 L39.77,18.44 L39.24,18.09 L38.71,17.74 L38.17,17.41 L37.58,17.08 L36.95,16.77 L36.29,16.48 L35.62,16.21 L34.95,15.95 L34.29,15.72 L33.65,15.50 L33.05,15.30 L32.50,15.12 L32.01,14.96 L31.60,14.82 L31.28,14.70 L30.72,15.90 L31.02,16.08 L31.42,16.30 L31.87,16.55 L32.38,16.83 L32.92,17.13 L33.49,17.46 L34.07,17.80 L34.65,18.15 L35.21,18.51 L35.73,18.88 L36.21,19.24 L36.63,19.59 L37.03,19.95 L37.44,20.34 L37.83,20.74 L38.22,21.14 L38.59,21.56 L38.95,21.98 L39.30,22.42 L39.63,22.85 L39.94,23.29 L40.23,23.74 L40.55,24.14 L40.86,24.55 L41.14,24.96 L41.41,25.40 L41.68,25.87 L41.93,26.36 L42.18,26.87 L42.41,27.39 L42.64,27.91 L42.85,28.44 L43.04,28.95 L43.23,29.46 L43.40,29.94 L43.55,30.39 L43.68,30.80 L43.78,31.21 L43.87,31.64 L43.95,32.07 L44.02,32.49 L44.07,32.91 L44.12,33.32 L44.16,33.71 L44.19,34.08 L44.22,34.42 L44.26,34.73 L44.29,34.99Z" fill="#3a6c2c"/>
<path d="M46.68,29.95 L46.69,29.48 L46.69,28.88 L46.69,28.18 L46.69,27.40 L46.69,26.56 L46.69,25.68 L46.70,24.78 L46.72,23.88 L46.74,23.01 L46.73,22.18 L46.72,21.42 L46.74,20.76 L46.78,20.15 L46.84,19.53 L46.93,18.91 L47.03,18.29 L47.15,17.69 L47.28,17.11 L47.41,16.56 L47.53,16.05 L47.65,15.58 L47.76,15.15 L47.85,14.77 L47.92,14.46 L46.88,14.14 L46.77,14.42 L46.62,14.75 L46.44,15.15 L46.23,15.59 L46.01,16.09 L45.77,16.62 L45.53,17.19 L45.29,17.80 L45.06,18.43 L44.84,19.08 L44.64,19.75 L44.46,20.44 L44.31,21.18 L44.16,21.99 L44.04,22.85 L43.98,23.76 L43.93,24.69 L43.88,25.61 L43.85,26.50 L43.81,27.35 L43.79,28.13 L43.76,28.83 L43.74,29.40 L43.72,29.85Z" fill="#3a6c2c"/>
<path d="M44.33,27.10 L44.04,26.83 L43.66,26.46 L43.22,26.01 L42.71,25.49 L42.15,24.94 L41.56,24.36 L40.94,23.78 L40.31,23.22 L39.68,22.69 L39.04,22.21 L38.41,21.80 L37.79,21.48 L37.18,21.25 L36.58,21.10 L35.98,21.01 L35.39,20.97 L34.82,20.98 L34.27,21.03 L33.73,21.11 L33.21,21.21 L32.71,21.33 L32.23,21.46 L31.78,21.59 L31.34,21.72 L30.90,21.87 L30.47,22.06 L30.06,22.27 L29.65,22.50 L29.27,22.74 L28.89,23.00 L28.53,23.29 L28.17,23.59 L27.83,23.91 L27.49,24.24 L27.16,24.60 L26.82,24.99 L26.49,25.40 L26.16,25.86 L25.84,26.33 L25.53,26.83 L25.22,27.35 L24.93,27.88 L24.64,28.41 L24.36,28.95 L24.10,29.49 L23.84,30.02 L23.60,30.54 L23.38,31.04 L23.16,31.56 L22.95,32.11 L22.75,32.68 L22.57,33.25 L22.39,33.82 L22.23,34.37 L22.08,34.91 L21.94,35.41 L21.82,35.87 L21.71,36.28 L21.61,36.63 L21.53,36.90 L22.07,37.10 L22.18,36.82 L22.31,36.48 L22.47,36.08 L22.63,35.63 L22.82,35.15 L23.02,34.64 L23.23,34.11 L23.45,33.57 L23.69,33.04 L23.93,32.52 L24.17,32.02 L24.42,31.56 L24.69,31.09 L24.97,30.61 L25.26,30.13 L25.57,29.63 L25.89,29.14 L26.21,28.66 L26.54,28.19 L26.87,27.74 L27.20,27.31 L27.53,26.91 L27.86,26.54 L28.18,26.21 L28.49,25.91 L28.81,25.63 L29.12,25.37 L29.43,25.14 L29.74,24.93 L30.05,24.73 L30.36,24.56 L30.68,24.40 L31.01,24.26 L31.34,24.13 L31.69,24.01 L32.06,23.88 L32.46,23.74 L32.88,23.60 L33.30,23.47 L33.72,23.34 L34.14,23.24 L34.56,23.16 L34.98,23.10 L35.39,23.07 L35.80,23.08 L36.21,23.12 L36.61,23.20 L37.01,23.32 L37.45,23.52 L37.96,23.82 L38.52,24.21 L39.12,24.66 L39.74,25.16 L40.35,25.69 L40.95,26.22 L41.52,26.73 L42.05,27.22 L42.53,27.66 L42.94,28.03 L43.27,28.30Z" fill="#3a6c2c"/>
<path d="M37.45,17.56 L37.25,17.53 L36.99,17.48 L36.65,17.41 L36.25,17.33 L35.80,17.25 L35.32,17.17 L34.80,17.10 L34.27,17.06 L33.71,17.05 L33.14,17.09 L32.56,17.20 L31.99,17.38 L31.47,17.64 L30.97,17.93 L30.50,18.27 L30.03,18.64 L29.62,19.07 L29.26,19.54 L28.91,20.02 L28.59,20.49 L28.28,20.97 L28.00,21.42 L27.73,21.86 L27.48,22.28 L27.25,22.71 L27.03,23.15 L26.83,23.61 L26.66,24.06 L26.50,24.51 L26.36,24.94 L26.24,25.35 L26.12,25.73 L26.03,26.08 L25.94,26.39 L25.86,26.65 L25.79,26.86 L26.41,27.14 L26.53,26.95 L26.67,26.70 L26.83,26.41 L27.00,26.10 L27.19,25.76 L27.40,25.40 L27.62,25.03 L27.86,24.66 L28.11,24.30 L28.37,23.95 L28.64,23.63 L28.92,23.32 L29.23,23.00 L29.57,22.65 L29.93,22.30 L30.31,21.94 L30.70,21.58 L31.09,21.24 L31.49,20.92 L31.85,20.60 L32.17,20.28 L32.47,20.00 L32.76,19.78 L33.01,19.62 L33.25,19.50 L33.54,19.41 L33.88,19.35 L34.27,19.31 L34.69,19.29 L35.12,19.30 L35.55,19.32 L35.97,19.35 L36.36,19.39 L36.73,19.42 L37.07,19.44 L37.35,19.44Z" fill="#3a6c2c"/>
<path d="M45.83,37.90 L45.65,37.66 L45.42,37.34 L45.16,36.95 L44.85,36.50 L44.52,36.01 L44.15,35.50 L43.77,34.98 L43.36,34.45 L42.93,33.94 L42.49,33.46 L42.04,33.01 L41.57,32.63 L41.11,32.29 L40.63,31.99 L40.15,31.70 L39.64,31.44 L39.13,31.20 L38.60,30.98 L38.07,30.78 L37.53,30.61 L36.99,30.46 L36.45,30.34 L35.91,30.25 L35.37,30.19 L34.82,30.16 L34.27,30.16 L33.71,30.19 L33.15,30.29 L32.60,30.41 L32.06,30.56 L31.52,30.73 L31.00,30.92 L30.50,31.14 L30.01,31.38 L29.55,31.63 L29.11,31.91 L28.70,32.21 L28.32,32.53 L27.95,32.86 L27.60,33.22 L27.28,33.60 L26.97,34.00 L26.68,34.41 L26.41,34.84 L26.16,35.29 L25.93,35.76 L25.71,36.24 L25.50,36.75 L25.31,37.31 L25.15,37.94 L25.01,38.61 L24.89,39.31 L24.78,40.03 L24.69,40.74 L24.61,41.44 L24.53,42.10 L24.47,42.70 L24.42,43.24 L24.37,43.70 L24.32,44.05 L24.88,44.15 L24.97,43.80 L25.06,43.35 L25.17,42.81 L25.29,42.21 L25.43,41.57 L25.58,40.90 L25.74,40.21 L25.91,39.53 L26.09,38.88 L26.28,38.27 L26.49,37.72 L26.70,37.25 L26.92,36.83 L27.16,36.42 L27.40,36.03 L27.66,35.66 L27.93,35.32 L28.20,34.99 L28.49,34.69 L28.79,34.41 L29.10,34.15 L29.42,33.91 L29.75,33.69 L30.09,33.49 L30.45,33.31 L30.83,33.14 L31.24,32.99 L31.67,32.85 L32.12,32.74 L32.57,32.64 L33.03,32.57 L33.49,32.51 L33.94,32.48 L34.38,32.43 L34.81,32.41 L35.23,32.41 L35.65,32.44 L36.08,32.49 L36.53,32.56 L36.98,32.66 L37.43,32.78 L37.88,32.92 L38.33,33.09 L38.78,33.27 L39.22,33.47 L39.64,33.69 L40.05,33.93 L40.43,34.17 L40.79,34.45 L41.18,34.79 L41.57,35.18 L41.97,35.62 L42.37,36.08 L42.76,36.56 L43.13,37.03 L43.48,37.49 L43.80,37.92 L44.10,38.31 L44.36,38.64 L44.57,38.90Z" fill="#3a6c2c"/>
<path d="M45.57,45.59 L45.34,45.45 L45.07,45.27 L44.74,45.04 L44.36,44.78 L43.95,44.50 L43.51,44.21 L43.04,43.91 L42.56,43.61 L42.07,43.32 L41.57,43.06 L41.07,42.82 L40.58,42.62 L40.10,42.46 L39.63,42.30 L39.15,42.16 L38.65,42.03 L38.15,41.91 L37.64,41.81 L37.12,41.73 L36.60,41.67 L36.08,41.63 L35.55,41.61 L35.02,41.62 L34.49,41.66 L33.96,41.73 L33.43,41.82 L32.90,41.93 L32.37,42.06 L31.83,42.22 L31.30,42.40 L30.78,42.62 L30.28,42.87 L29.78,43.15 L29.30,43.44 L28.84,43.75 L28.39,44.08 L27.96,44.42 L27.55,44.78 L27.14,45.15 L26.75,45.55 L26.37,45.96 L26.00,46.39 L25.65,46.85 L25.31,47.32 L24.98,47.81 L24.66,48.32 L24.36,48.85 L24.06,49.41 L23.78,50.03 L23.51,50.72 L23.24,51.46 L23.00,52.24 L22.76,53.04 L22.54,53.83 L22.33,54.60 L22.14,55.34 L21.96,56.02 L21.81,56.62 L21.67,57.13 L21.56,57.52 L22.04,57.68 L22.19,57.29 L22.37,56.79 L22.57,56.20 L22.80,55.54 L23.06,54.83 L23.33,54.08 L23.61,53.32 L23.91,52.57 L24.21,51.83 L24.52,51.15 L24.83,50.53 L25.14,49.99 L25.44,49.50 L25.77,49.04 L26.10,48.59 L26.43,48.17 L26.78,47.77 L27.13,47.39 L27.49,47.04 L27.86,46.70 L28.24,46.38 L28.62,46.08 L29.01,45.79 L29.41,45.52 L29.82,45.28 L30.24,45.05 L30.67,44.83 L31.11,44.64 L31.57,44.46 L32.02,44.29 L32.47,44.11 L32.93,43.96 L33.38,43.82 L33.83,43.71 L34.28,43.61 L34.71,43.54 L35.14,43.49 L35.57,43.46 L36.01,43.46 L36.46,43.47 L36.91,43.51 L37.36,43.56 L37.81,43.63 L38.27,43.72 L38.72,43.82 L39.16,43.93 L39.60,44.05 L40.02,44.18 L40.44,44.33 L40.87,44.51 L41.32,44.73 L41.79,44.97 L42.25,45.23 L42.70,45.49 L43.14,45.76 L43.55,46.02 L43.94,46.26 L44.28,46.48 L44.59,46.66 L44.83,46.81Z" fill="#3a6c2c"/>
<path d="M47.26,35.34 L47.48,35.08 L47.74,34.75 L48.04,34.36 L48.37,33.93 L48.73,33.47 L49.11,33.00 L49.50,32.53 L49.91,32.08 L50.31,31.65 L50.71,31.28 L51.08,30.97 L51.44,30.73 L51.80,30.52 L52.20,30.33 L52.61,30.16 L53.03,30.01 L53.47,29.89 L53.91,29.78 L54.35,29.70 L54.79,29.64 L55.24,29.60 L55.68,29.58 L56.11,29.58 L56.53,29.61 L56.94,29.66 L57.36,29.73 L57.79,29.84 L58.23,29.97 L58.68,30.12 L59.12,30.29 L59.57,30.49 L60.00,30.69 L60.43,30.92 L60.85,31.15 L61.27,31.37 L61.67,31.59 L62.06,31.82 L62.44,32.07 L62.82,32.32 L63.19,32.60 L63.54,32.88 L63.89,33.18 L64.23,33.49 L64.55,33.82 L64.86,34.16 L65.16,34.51 L65.44,34.88 L65.71,35.27 L65.96,35.68 L66.21,36.11 L66.44,36.56 L66.66,37.02 L66.87,37.51 L67.07,38.02 L67.25,38.53 L67.42,39.07 L67.58,39.61 L67.73,40.16 L67.86,40.72 L67.97,41.29 L68.07,41.88 L68.14,42.54 L68.20,43.25 L68.24,43.99 L68.27,44.74 L68.28,45.49 L68.29,46.22 L68.29,46.91 L68.29,47.55 L68.28,48.12 L68.29,48.61 L68.30,48.99 L68.90,49.01 L68.93,48.63 L68.96,48.15 L69.01,47.58 L69.07,46.94 L69.13,46.25 L69.18,45.51 L69.23,44.75 L69.27,43.98 L69.29,43.22 L69.30,42.48 L69.28,41.77 L69.23,41.11 L69.15,40.50 L69.07,39.89 L68.96,39.29 L68.84,38.70 L68.71,38.11 L68.56,37.53 L68.39,36.97 L68.20,36.41 L68.00,35.87 L67.78,35.34 L67.55,34.83 L67.29,34.33 L67.01,33.85 L66.72,33.38 L66.40,32.93 L66.07,32.50 L65.72,32.08 L65.36,31.68 L64.98,31.30 L64.59,30.93 L64.19,30.58 L63.78,30.24 L63.36,29.92 L62.93,29.61 L62.49,29.31 L62.02,29.02 L61.53,28.77 L61.02,28.54 L60.50,28.31 L59.97,28.11 L59.43,27.92 L58.88,27.76 L58.33,27.62 L57.78,27.51 L57.22,27.44 L56.67,27.39 L56.13,27.38 L55.59,27.40 L55.05,27.45 L54.50,27.52 L53.96,27.62 L53.42,27.74 L52.89,27.90 L52.36,28.07 L51.84,28.28 L51.34,28.51 L50.85,28.78 L50.36,29.07 L49.87,29.44 L49.40,29.86 L48.94,30.34 L48.50,30.84 L48.08,31.35 L47.68,31.87 L47.30,32.38 L46.95,32.87 L46.64,33.32 L46.36,33.71 L46.13,34.02 L45.94,34.26Z" fill="#3a6c2c"/>
<path d="M47.13,43.20 L47.39,42.99 L47.70,42.71 L48.06,42.38 L48.45,42.02 L48.88,41.63 L49.33,41.23 L49.80,40.83 L50.27,40.44 L50.75,40.07 L51.21,39.74 L51.64,39.46 L52.05,39.23 L52.47,39.04 L52.91,38.84 L53.35,38.66 L53.79,38.50 L54.23,38.36 L54.67,38.24 L55.11,38.15 L55.54,38.08 L55.96,38.03 L56.37,38.02 L56.78,38.03 L57.17,38.08 L57.58,38.15 L58.01,38.26 L58.45,38.39 L58.90,38.55 L59.34,38.74 L59.79,38.94 L60.25,39.14 L60.70,39.37 L61.13,39.62 L61.54,39.89 L61.94,40.18 L62.30,40.50 L62.66,40.84 L63.01,41.22 L63.36,41.64 L63.70,42.09 L64.02,42.57 L64.34,43.07 L64.64,43.60 L64.93,44.14 L65.19,44.69 L65.44,45.25 L65.67,45.82 L65.88,46.38 L66.06,46.96 L66.21,47.60 L66.34,48.30 L66.45,49.03 L66.54,49.78 L66.62,50.52 L66.69,51.25 L66.74,51.94 L66.79,52.58 L66.83,53.15 L66.87,53.63 L66.91,54.02 L67.49,53.98 L67.48,53.60 L67.48,53.12 L67.49,52.56 L67.50,51.91 L67.51,51.22 L67.52,50.48 L67.51,49.71 L67.48,48.94 L67.44,48.17 L67.36,47.42 L67.26,46.69 L67.12,46.02 L66.95,45.39 L66.76,44.77 L66.55,44.14 L66.32,43.52 L66.06,42.90 L65.79,42.30 L65.49,41.71 L65.17,41.14 L64.83,40.59 L64.48,40.07 L64.10,39.57 L63.70,39.10 L63.27,38.67 L62.81,38.26 L62.33,37.88 L61.83,37.52 L61.31,37.19 L60.78,36.89 L60.23,36.63 L59.67,36.43 L59.10,36.25 L58.54,36.11 L57.98,36.00 L57.43,35.92 L56.87,35.89 L56.31,35.90 L55.76,35.94 L55.21,36.02 L54.67,36.14 L54.14,36.28 L53.62,36.45 L53.10,36.64 L52.60,36.84 L52.11,37.07 L51.63,37.31 L51.15,37.57 L50.64,37.87 L50.13,38.23 L49.62,38.63 L49.12,39.06 L48.63,39.50 L48.16,39.95 L47.71,40.38 L47.29,40.80 L46.91,41.18 L46.57,41.52 L46.29,41.79 L46.07,42.00Z" fill="#3a6c2c"/>
<path d="M47.01,50.28 L47.23,50.13 L47.50,49.94 L47.81,49.71 L48.15,49.46 L48.51,49.19 L48.89,48.92 L49.29,48.65 L49.69,48.40 L50.08,48.17 L50.47,47.97 L50.82,47.81 L51.16,47.70 L51.50,47.62 L51.86,47.56 L52.24,47.51 L52.62,47.47 L53.01,47.46 L53.41,47.46 L53.80,47.48 L54.18,47.52 L54.56,47.57 L54.93,47.64 L55.28,47.73 L55.62,47.83 L55.95,47.96 L56.28,48.10 L56.62,48.26 L56.96,48.42 L57.31,48.59 L57.65,48.78 L57.98,48.99 L58.31,49.21 L58.62,49.44 L58.92,49.69 L59.21,49.95 L59.47,50.21 L59.71,50.50 L59.95,50.82 L60.19,51.16 L60.41,51.53 L60.62,51.92 L60.83,52.32 L61.02,52.73 L61.20,53.16 L61.37,53.58 L61.52,54.00 L61.66,54.42 L61.79,54.82 L61.90,55.22 L61.99,55.65 L62.07,56.11 L62.13,56.58 L62.18,57.05 L62.22,57.52 L62.25,57.97 L62.27,58.40 L62.29,58.80 L62.31,59.16 L62.33,59.46 L62.35,59.71 L62.85,59.69 L62.86,59.45 L62.87,59.16 L62.89,58.80 L62.91,58.40 L62.94,57.97 L62.96,57.51 L62.97,57.02 L62.97,56.53 L62.96,56.03 L62.93,55.53 L62.88,55.04 L62.81,54.58 L62.72,54.13 L62.61,53.68 L62.50,53.22 L62.37,52.75 L62.22,52.28 L62.06,51.81 L61.89,51.34 L61.69,50.88 L61.48,50.43 L61.25,50.00 L61.00,49.58 L60.73,49.19 L60.44,48.81 L60.13,48.46 L59.80,48.12 L59.45,47.79 L59.08,47.48 L58.70,47.19 L58.31,46.92 L57.91,46.66 L57.49,46.44 L57.06,46.26 L56.62,46.10 L56.18,45.97 L55.74,45.86 L55.28,45.77 L54.82,45.70 L54.35,45.66 L53.88,45.64 L53.41,45.64 L52.93,45.66 L52.46,45.71 L52.00,45.77 L51.54,45.86 L51.09,45.96 L50.64,46.10 L50.18,46.28 L49.72,46.51 L49.27,46.77 L48.82,47.06 L48.39,47.37 L47.98,47.68 L47.59,47.99 L47.23,48.28 L46.90,48.55 L46.62,48.79 L46.38,48.98 L46.19,49.12Z" fill="#3a6c2c"/>
<path d="M45.90,59.00 L45.90,56.92 L45.90,54.83 L45.90,52.75 L45.90,50.67 L45.90,48.58 L45.90,46.50 L45.90,44.42 L45.90,42.33 L45.90,40.25 L45.90,38.17 L45.90,36.08 L45.90,34.00" fill="none" stroke="#3a6c2c" stroke-width="1.7" stroke-linecap="round" stroke-linejoin="round"/>
</g>
<g transform="translate(14.20,356.80)">
<rect x="0" y="0.0" width="83.60" height="70.90" fill="url(#pbg)"/>
<rect x="0" y="0.0" width="5.6" height="70.9" fill="url(#pstrip)"/>
<rect x="5.6" y="0.0" width="1.6" height="70.9" fill="#3a3a3a"/>
<rect x="7.2" y="0.0" width="2.0" height="70.9" fill="#c3c6bc"/>
<rect x="9.2" y="0.0" width="3.1" height="70.9" fill="#121212"/>
<rect x="78.30" y="0.0" width="3.5" height="70.9" fill="#141414"/>
<rect x="81.80" y="0.0" width="1.8" height="70.9" fill="#b4b4b0"/>
<rect x="39.70" y="59.00" width="10.40" height="7.10" fill="#fbfafa" stroke="#dcd6d4" stroke-width="0.6"/>
<rect x="38.00" y="66.10" width="13.70" height="4.80" fill="#f6f4f4"/>
<path d="M38.00,66.70H51.70" stroke="#8d8585" stroke-width="1.1" fill="none"/>
<path d="M38.90,66.10V70.90 M50.80,66.10V70.90" stroke="#262222" stroke-width="1.5" fill="none"/>
<path d="M46.88,29.55 L46.83,29.26 L46.75,28.89 L46.67,28.46 L46.58,27.97 L46.47,27.45 L46.36,26.90 L46.25,26.32 L46.14,25.75 L46.03,25.18 L45.93,24.63 L45.74,24.13 L45.57,23.67 L45.41,23.22 L45.24,22.76 L45.08,22.29 L44.91,21.82 L44.74,21.35 L44.58,20.90 L44.43,20.47 L44.29,20.06 L44.16,19.68 L44.04,19.35 L43.94,19.06 L43.86,18.83 L42.14,19.17 L42.15,19.42 L42.17,19.72 L42.19,20.07 L42.21,20.47 L42.23,20.90 L42.25,21.36 L42.28,21.84 L42.31,22.34 L42.33,22.85 L42.36,23.35 L42.40,23.85 L42.43,24.33 L42.46,24.83 L42.50,25.37 L42.63,25.92 L42.78,26.49 L42.92,27.06 L43.06,27.63 L43.20,28.18 L43.33,28.70 L43.45,29.18 L43.56,29.60 L43.65,29.97 L43.72,30.25Z" fill="#3a6c2c"/>
<path d="M47.22,30.33 L47.32,30.05 L47.44,29.69 L47.58,29.26 L47.74,28.78 L47.91,28.27 L48.10,27.72 L48.28,27.15 L48.48,26.58 L48.66,26.02 L48.85,25.47 L48.94,24.93 L49.02,24.43 L49.10,23.95 L49.18,23.45 L49.27,22.94 L49.35,22.43 L49.43,21.93 L49.51,21.45 L49.59,20.98 L49.66,20.54 L49.73,20.14 L49.79,19.79 L49.84,19.48 L49.88,19.23 L48.32,18.77 L48.22,19.00 L48.10,19.28 L47.95,19.61 L47.78,19.98 L47.60,20.39 L47.41,20.82 L47.21,21.27 L47.00,21.73 L46.79,22.20 L46.58,22.67 L46.38,23.12 L46.18,23.57 L45.97,24.03 L45.75,24.53 L45.59,25.08 L45.44,25.65 L45.28,26.23 L45.12,26.81 L44.96,27.36 L44.82,27.89 L44.68,28.38 L44.56,28.81 L44.46,29.18 L44.38,29.47Z" fill="#3a6c2c"/>
<path d="M43.44,23.28 L43.16,22.97 L42.82,22.57 L42.41,22.08 L41.95,21.53 L41.45,20.94 L40.91,20.32 L40.33,19.68 L39.74,19.04 L39.13,18.42 L38.51,17.83 L37.88,17.29 L37.26,16.82 L36.65,16.41 L36.02,16.01 L35.37,15.63 L34.70,15.29 L34.00,15.00 L33.29,14.74 L32.58,14.50 L31.87,14.29 L31.16,14.11 L30.45,13.97 L29.75,13.87 L29.05,13.81 L28.33,13.81 L27.58,13.87 L26.82,14.00 L26.05,14.17 L25.30,14.36 L24.57,14.58 L23.86,14.81 L23.20,15.04 L22.60,15.25 L22.06,15.43 L21.61,15.58 L21.25,15.69 L21.35,16.11 L21.73,16.04 L22.21,15.93 L22.76,15.80 L23.38,15.65 L24.05,15.49 L24.76,15.33 L25.49,15.19 L26.23,15.06 L26.96,14.98 L27.66,14.93 L28.33,14.93 L28.95,14.99 L29.55,15.11 L30.17,15.26 L30.80,15.45 L31.43,15.67 L32.06,15.92 L32.69,16.20 L33.32,16.51 L33.93,16.84 L34.55,17.16 L35.17,17.49 L35.77,17.83 L36.34,18.18 L36.90,18.56 L37.49,19.02 L38.09,19.53 L38.69,20.09 L39.29,20.68 L39.87,21.27 L40.43,21.86 L40.95,22.42 L41.43,22.94 L41.87,23.41 L42.25,23.81 L42.56,24.12Z" fill="#3a6c2c"/>
<path d="M46.22,16.32 L46.38,16.25 L46.59,16.15 L46.83,16.04 L47.10,15.92 L47.38,15.78 L47.68,15.65 L47.98,15.52 L48.28,15.40 L48.57,15.29 L48.82,15.15 L49.03,15.03 L49.21,14.94 L49.37,14.88 L49.56,14.84 L49.76,14.81 L49.98,14.81 L50.19,14.81 L50.41,14.83 L50.62,14.85 L50.82,14.88 L51.01,14.91 L51.19,14.93 L51.34,14.96 L51.46,14.96 L51.54,14.64 L51.43,14.59 L51.31,14.53 L51.16,14.46 L50.98,14.37 L50.79,14.28 L50.58,14.18 L50.35,14.09 L50.11,14.01 L49.85,13.94 L49.58,13.88 L49.29,13.85 L48.99,13.86 L48.68,13.90 L48.36,13.96 L48.03,14.06 L47.72,14.23 L47.42,14.41 L47.12,14.60 L46.83,14.79 L46.56,14.97 L46.32,15.13 L46.10,15.28 L45.92,15.39 L45.78,15.48Z" fill="#3a6c2c"/>
<path d="M44.31,32.56 L44.07,32.21 L43.78,31.77 L43.44,31.22 L43.05,30.60 L42.62,29.93 L42.16,29.22 L41.67,28.50 L41.15,27.78 L40.61,27.08 L40.04,26.42 L39.46,25.81 L38.87,25.29 L38.27,24.83 L37.67,24.42 L37.04,24.03 L36.40,23.67 L35.74,23.35 L35.06,23.05 L34.37,22.78 L33.66,22.53 L32.95,22.32 L32.22,22.13 L31.49,21.98 L30.74,21.85 L29.97,21.75 L29.17,21.70 L28.35,21.70 L27.52,21.73 L26.67,21.79 L25.83,21.87 L24.99,21.99 L24.16,22.13 L23.34,22.30 L22.55,22.49 L21.78,22.71 L21.05,22.96 L20.34,23.25 L19.64,23.59 L18.96,23.96 L18.31,24.37 L17.67,24.80 L17.06,25.25 L16.47,25.71 L15.91,26.17 L15.38,26.64 L14.88,27.09 L14.41,27.53 L13.97,27.96 L13.56,28.39 L13.19,28.86 L12.84,29.33 L12.54,29.82 L12.26,30.30 L12.00,30.76 L11.78,31.21 L11.58,31.63 L11.39,32.01 L11.23,32.35 L11.09,32.63 L10.97,32.86 L11.43,33.14 L11.58,32.91 L11.75,32.62 L11.94,32.29 L12.14,31.93 L12.37,31.53 L12.62,31.11 L12.89,30.68 L13.19,30.25 L13.51,29.82 L13.86,29.41 L14.23,29.01 L14.63,28.64 L15.07,28.27 L15.55,27.88 L16.07,27.47 L16.61,27.06 L17.18,26.66 L17.77,26.26 L18.38,25.88 L19.00,25.53 L19.63,25.20 L20.27,24.90 L20.91,24.65 L21.55,24.44 L22.22,24.26 L22.92,24.11 L23.66,23.99 L24.42,23.89 L25.20,23.81 L25.98,23.76 L26.77,23.74 L27.55,23.74 L28.32,23.77 L29.06,23.83 L29.78,23.89 L30.46,23.95 L31.12,24.04 L31.78,24.16 L32.43,24.30 L33.08,24.47 L33.71,24.66 L34.33,24.88 L34.94,25.12 L35.53,25.39 L36.11,25.69 L36.67,26.01 L37.22,26.35 L37.73,26.71 L38.23,27.13 L38.75,27.63 L39.27,28.20 L39.79,28.83 L40.31,29.49 L40.80,30.16 L41.28,30.83 L41.72,31.48 L42.13,32.08 L42.49,32.62 L42.82,33.09 L43.09,33.44Z" fill="#3a6c2c"/>
<path d="M44.97,37.01 L44.69,36.78 L44.34,36.48 L43.93,36.11 L43.46,35.70 L42.95,35.24 L42.40,34.77 L41.81,34.29 L41.21,33.81 L40.58,33.35 L39.95,32.91 L39.31,32.52 L38.67,32.20 L38.04,31.92 L37.41,31.67 L36.76,31.44 L36.10,31.23 L35.42,31.04 L34.74,30.88 L34.05,30.74 L33.36,30.62 L32.67,30.52 L31.98,30.45 L31.29,30.41 L30.60,30.38 L29.92,30.38 L29.23,30.39 L28.53,30.42 L27.81,30.47 L27.09,30.54 L26.37,30.66 L25.66,30.83 L24.96,31.02 L24.27,31.26 L23.60,31.53 L22.95,31.84 L22.33,32.19 L21.75,32.58 L21.19,33.00 L20.65,33.45 L20.12,33.93 L19.61,34.45 L19.12,34.99 L18.65,35.57 L18.22,36.19 L17.81,36.83 L17.44,37.51 L17.10,38.22 L16.80,38.97 L16.54,39.80 L16.34,40.73 L16.17,41.73 L16.05,42.79 L15.95,43.87 L15.87,44.95 L15.82,46.00 L15.77,47.00 L15.74,47.93 L15.71,48.75 L15.67,49.44 L15.63,49.97 L16.17,50.03 L16.25,49.49 L16.33,48.80 L16.42,47.98 L16.52,47.06 L16.63,46.07 L16.75,45.03 L16.90,43.98 L17.07,42.93 L17.26,41.93 L17.48,40.99 L17.72,40.15 L18.00,39.43 L18.31,38.80 L18.66,38.18 L19.03,37.60 L19.43,37.06 L19.85,36.54 L20.30,36.06 L20.76,35.60 L21.24,35.18 L21.73,34.79 L22.24,34.43 L22.75,34.10 L23.27,33.81 L23.79,33.55 L24.33,33.33 L24.90,33.15 L25.50,32.99 L26.11,32.86 L26.74,32.76 L27.38,32.67 L28.03,32.58 L28.68,32.52 L29.32,32.47 L29.97,32.44 L30.60,32.42 L31.21,32.42 L31.84,32.44 L32.46,32.48 L33.10,32.55 L33.73,32.64 L34.36,32.74 L34.98,32.87 L35.60,33.02 L36.21,33.19 L36.80,33.38 L37.38,33.58 L37.93,33.80 L38.47,34.06 L39.04,34.38 L39.62,34.75 L40.21,35.16 L40.79,35.59 L41.37,36.03 L41.92,36.47 L42.43,36.90 L42.91,37.29 L43.34,37.65 L43.72,37.96 L44.03,38.19Z" fill="#3a6c2c"/>
<path d="M44.77,44.74 L44.48,44.62 L44.12,44.45 L43.69,44.25 L43.20,44.01 L42.66,43.76 L42.09,43.50 L41.49,43.23 L40.88,42.97 L40.26,42.73 L39.65,42.51 L39.05,42.32 L38.47,42.18 L37.92,42.07 L37.39,41.98 L36.85,41.90 L36.31,41.83 L35.76,41.79 L35.21,41.76 L34.66,41.75 L34.11,41.77 L33.55,41.80 L32.99,41.87 L32.43,41.95 L31.87,42.07 L31.30,42.21 L30.73,42.38 L30.16,42.58 L29.59,42.80 L29.01,43.04 L28.46,43.33 L27.91,43.64 L27.37,43.97 L26.85,44.31 L26.34,44.67 L25.85,45.05 L25.38,45.43 L24.93,45.82 L24.48,46.23 L24.03,46.66 L23.60,47.10 L23.17,47.56 L22.76,48.03 L22.37,48.53 L21.99,49.04 L21.64,49.57 L21.32,50.12 L21.04,50.69 L20.78,51.28 L20.56,51.92 L20.39,52.63 L20.26,53.37 L20.15,54.14 L20.08,54.92 L20.02,55.70 L19.98,56.45 L19.95,57.16 L19.93,57.82 L19.90,58.40 L19.88,58.89 L19.85,59.27 L20.35,59.33 L20.41,58.94 L20.48,58.45 L20.55,57.87 L20.62,57.22 L20.71,56.51 L20.80,55.78 L20.92,55.03 L21.05,54.28 L21.21,53.56 L21.39,52.88 L21.59,52.26 L21.82,51.72 L22.08,51.23 L22.38,50.75 L22.70,50.28 L23.05,49.83 L23.42,49.40 L23.82,48.98 L24.22,48.57 L24.65,48.18 L25.08,47.81 L25.53,47.45 L25.97,47.10 L26.42,46.77 L26.87,46.46 L27.34,46.16 L27.83,45.87 L28.32,45.59 L28.83,45.34 L29.34,45.10 L29.86,44.88 L30.36,44.64 L30.86,44.43 L31.36,44.24 L31.85,44.07 L32.33,43.93 L32.80,43.81 L33.28,43.72 L33.75,43.65 L34.23,43.60 L34.71,43.57 L35.19,43.55 L35.67,43.56 L36.16,43.58 L36.65,43.62 L37.15,43.67 L37.64,43.74 L38.13,43.82 L38.63,43.92 L39.16,44.07 L39.73,44.24 L40.31,44.45 L40.90,44.67 L41.49,44.90 L42.05,45.14 L42.59,45.37 L43.08,45.58 L43.53,45.77 L43.92,45.93 L44.23,46.06Z" fill="#3a6c2c"/>
<path d="M45.86,36.61 L46.13,36.33 L46.46,35.96 L46.83,35.53 L47.24,35.05 L47.69,34.54 L48.17,34.01 L48.67,33.48 L49.18,32.96 L49.69,32.47 L50.20,32.03 L50.69,31.66 L51.16,31.35 L51.64,31.10 L52.15,30.86 L52.68,30.65 L53.22,30.46 L53.78,30.29 L54.34,30.15 L54.91,30.02 L55.49,29.92 L56.06,29.84 L56.63,29.78 L57.20,29.73 L57.75,29.70 L58.29,29.70 L58.83,29.71 L59.37,29.75 L59.92,29.81 L60.47,29.89 L61.01,29.99 L61.55,30.11 L62.10,30.23 L62.64,30.36 L63.18,30.50 L63.72,30.66 L64.25,30.83 L64.79,31.02 L65.34,31.22 L65.89,31.44 L66.43,31.67 L66.98,31.92 L67.51,32.19 L68.02,32.47 L68.52,32.78 L68.99,33.10 L69.44,33.44 L69.85,33.80 L70.24,34.18 L70.59,34.60 L70.93,35.06 L71.25,35.57 L71.56,36.12 L71.85,36.69 L72.12,37.28 L72.37,37.88 L72.62,38.49 L72.84,39.10 L73.05,39.70 L73.25,40.28 L73.44,40.83 L73.60,41.37 L73.74,41.94 L73.86,42.52 L73.97,43.11 L74.06,43.69 L74.13,44.27 L74.20,44.82 L74.25,45.34 L74.30,45.83 L74.35,46.26 L74.39,46.63 L74.43,46.93 L74.97,46.87 L74.95,46.58 L74.93,46.21 L74.92,45.78 L74.90,45.30 L74.88,44.77 L74.85,44.21 L74.82,43.61 L74.76,43.00 L74.70,42.39 L74.61,41.77 L74.50,41.16 L74.36,40.57 L74.21,39.99 L74.05,39.39 L73.88,38.76 L73.69,38.12 L73.48,37.47 L73.26,36.82 L73.01,36.17 L72.74,35.54 L72.44,34.92 L72.12,34.32 L71.76,33.75 L71.36,33.22 L70.94,32.72 L70.47,32.26 L69.98,31.83 L69.46,31.42 L68.92,31.04 L68.37,30.68 L67.80,30.35 L67.23,30.04 L66.66,29.74 L66.08,29.47 L65.51,29.21 L64.95,28.97 L64.38,28.74 L63.80,28.53 L63.21,28.33 L62.61,28.15 L62.01,28.01 L61.39,27.90 L60.77,27.81 L60.15,27.74 L59.52,27.69 L58.90,27.67 L58.27,27.67 L57.65,27.70 L57.03,27.75 L56.41,27.82 L55.78,27.91 L55.14,28.02 L54.51,28.16 L53.87,28.32 L53.24,28.50 L52.62,28.71 L52.00,28.95 L51.40,29.22 L50.81,29.51 L50.24,29.85 L49.66,30.24 L49.09,30.71 L48.53,31.23 L47.98,31.78 L47.46,32.35 L46.95,32.93 L46.48,33.49 L46.04,34.03 L45.64,34.53 L45.28,34.96 L44.99,35.32 L44.74,35.59Z" fill="#3a6c2c"/>
<path d="M46.39,42.15 L46.66,41.99 L47.00,41.79 L47.38,41.55 L47.80,41.29 L48.26,41.01 L48.75,40.71 L49.25,40.42 L49.77,40.14 L50.29,39.86 L50.81,39.62 L51.31,39.41 L51.80,39.23 L52.30,39.07 L52.83,38.92 L53.37,38.77 L53.92,38.64 L54.48,38.52 L55.04,38.42 L55.60,38.33 L56.16,38.26 L56.72,38.21 L57.27,38.19 L57.81,38.19 L58.34,38.22 L58.89,38.28 L59.45,38.35 L60.02,38.46 L60.59,38.58 L61.17,38.72 L61.76,38.84 L62.34,38.99 L62.90,39.16 L63.45,39.34 L63.98,39.54 L64.48,39.76 L64.96,39.98 L65.42,40.23 L65.86,40.48 L66.28,40.75 L66.69,41.03 L67.08,41.33 L67.45,41.65 L67.81,41.98 L68.16,42.35 L68.50,42.74 L68.82,43.16 L69.14,43.61 L69.44,44.09 L69.73,44.64 L70.02,45.28 L70.30,46.01 L70.56,46.80 L70.82,47.61 L71.06,48.44 L71.29,49.25 L71.50,50.03 L71.69,50.75 L71.86,51.40 L72.01,51.94 L72.14,52.37 L72.66,52.23 L72.57,51.81 L72.47,51.26 L72.35,50.61 L72.22,49.87 L72.07,49.07 L71.91,48.23 L71.73,47.38 L71.54,46.52 L71.33,45.69 L71.09,44.89 L70.84,44.16 L70.56,43.51 L70.26,42.94 L69.95,42.40 L69.62,41.89 L69.28,41.42 L68.91,40.97 L68.52,40.54 L68.12,40.14 L67.70,39.76 L67.26,39.40 L66.80,39.06 L66.33,38.73 L65.84,38.42 L65.32,38.11 L64.76,37.82 L64.18,37.54 L63.58,37.29 L62.96,37.05 L62.33,36.83 L61.69,36.63 L61.04,36.49 L60.38,36.37 L59.73,36.28 L59.09,36.22 L58.46,36.18 L57.82,36.17 L57.19,36.19 L56.55,36.25 L55.92,36.32 L55.30,36.43 L54.68,36.55 L54.07,36.69 L53.47,36.84 L52.88,37.01 L52.31,37.19 L51.75,37.37 L51.20,37.57 L50.64,37.80 L50.07,38.07 L49.50,38.36 L48.95,38.68 L48.41,39.01 L47.89,39.34 L47.40,39.66 L46.95,39.96 L46.53,40.25 L46.17,40.49 L45.86,40.70 L45.61,40.85Z" fill="#3a6c2c"/>
<path d="M46.28,49.05 L46.52,48.95 L46.80,48.83 L47.13,48.68 L47.48,48.52 L47.87,48.35 L48.28,48.17 L48.70,47.99 L49.14,47.82 L49.59,47.67 L50.03,47.52 L50.46,47.41 L50.88,47.32 L51.34,47.23 L51.82,47.15 L52.31,47.07 L52.82,47.00 L53.33,46.94 L53.85,46.90 L54.36,46.87 L54.86,46.86 L55.35,46.87 L55.81,46.91 L56.26,46.98 L56.69,47.07 L57.13,47.19 L57.59,47.31 L58.05,47.42 L58.51,47.56 L58.95,47.71 L59.39,47.89 L59.81,48.09 L60.22,48.32 L60.62,48.59 L61.00,48.89 L61.37,49.23 L61.71,49.62 L62.05,50.09 L62.40,50.68 L62.75,51.37 L63.09,52.14 L63.42,52.95 L63.74,53.78 L64.04,54.61 L64.31,55.40 L64.57,56.14 L64.80,56.80 L64.99,57.36 L65.16,57.78 L65.64,57.62 L65.52,57.19 L65.38,56.63 L65.23,55.95 L65.05,55.19 L64.85,54.37 L64.64,53.50 L64.40,52.62 L64.15,51.75 L63.87,50.91 L63.57,50.13 L63.25,49.41 L62.89,48.78 L62.50,48.25 L62.09,47.77 L61.64,47.34 L61.18,46.95 L60.70,46.61 L60.20,46.30 L59.69,46.03 L59.18,45.79 L58.67,45.58 L58.15,45.39 L57.64,45.24 L57.11,45.13 L56.55,45.04 L55.98,44.98 L55.40,44.96 L54.82,44.98 L54.24,45.02 L53.67,45.08 L53.10,45.16 L52.55,45.25 L52.01,45.35 L51.49,45.46 L51.00,45.57 L50.52,45.68 L50.02,45.82 L49.52,45.98 L49.03,46.16 L48.55,46.36 L48.09,46.57 L47.65,46.78 L47.23,46.99 L46.84,47.18 L46.49,47.37 L46.18,47.52 L45.93,47.65 L45.72,47.75Z" fill="#3a6c2c"/>
<path d="M45.30,58.50 L45.30,56.12 L45.30,53.73 L45.30,51.35 L45.30,48.97 L45.30,46.58 L45.30,44.20 L45.30,41.82 L45.30,39.43 L45.30,37.05 L45.30,34.67 L45.30,32.28 L45.30,29.90" fill="none" stroke="#3a6c2c" stroke-width="1.7" stroke-linecap="round" stroke-linejoin="round"/>
</g>
<g transform="translate(316.00,287.00)">
<rect x="0" y="0.0" width="84.90" height="70.00" fill="url(#pbg)"/>
<rect x="0" y="0.0" width="5.6" height="70.0" fill="url(#pstrip)"/>
<rect x="5.6" y="0.0" width="1.6" height="70.0" fill="#3a3a3a"/>
<rect x="7.2" y="0.0" width="2.0" height="70.0" fill="#c3c6bc"/>
<rect x="9.2" y="0.0" width="3.1" height="70.0" fill="#121212"/>
<rect x="79.60" y="0.0" width="3.5" height="70.0" fill="#141414"/>
<rect x="83.10" y="0.0" width="1.8" height="70.0" fill="#b4b4b0"/>
<rect x="40.50" y="57.60" width="10.80" height="6.70" fill="#fbfafa" stroke="#dcd6d4" stroke-width="0.6"/>
<rect x="38.40" y="64.30" width="14.50" height="5.70" fill="#f6f4f4"/>
<path d="M38.40,64.90H52.90" stroke="#8d8585" stroke-width="1.1" fill="none"/>
<path d="M39.30,64.30V70.00 M52.00,64.30V70.00" stroke="#262222" stroke-width="1.5" fill="none"/>
<path d="M47.89,30.73 L47.81,30.43 L47.70,30.05 L47.58,29.60 L47.44,29.10 L47.29,28.55 L47.13,27.97 L46.97,27.38 L46.80,26.77 L46.64,26.18 L46.48,25.60 L46.27,25.07 L46.06,24.58 L45.87,24.11 L45.66,23.62 L45.46,23.11 L45.25,22.61 L45.05,22.10 L44.85,21.61 L44.66,21.15 L44.48,20.71 L44.32,20.30 L44.18,19.94 L44.05,19.63 L43.95,19.38 L42.25,19.82 L42.28,20.09 L42.32,20.42 L42.37,20.80 L42.42,21.23 L42.48,21.71 L42.54,22.21 L42.60,22.74 L42.67,23.28 L42.73,23.82 L42.80,24.37 L42.87,24.90 L42.94,25.42 L43.01,25.95 L43.09,26.52 L43.25,27.10 L43.41,27.70 L43.58,28.31 L43.75,28.90 L43.91,29.48 L44.06,30.03 L44.20,30.53 L44.32,30.98 L44.42,31.36 L44.51,31.67Z" fill="#3a6c2c"/>
<path d="M47.99,31.51 L48.05,31.22 L48.12,30.84 L48.21,30.41 L48.31,29.91 L48.42,29.37 L48.53,28.80 L48.65,28.21 L48.77,27.60 L48.88,27.00 L49.00,26.40 L49.09,25.82 L49.12,25.26 L49.15,24.70 L49.17,24.11 L49.20,23.50 L49.21,22.89 L49.23,22.27 L49.24,21.67 L49.26,21.09 L49.27,20.54 L49.28,20.04 L49.29,19.60 L49.29,19.22 L49.30,18.91 L47.70,18.69 L47.62,18.98 L47.52,19.35 L47.41,19.79 L47.29,20.27 L47.15,20.80 L47.01,21.36 L46.85,21.93 L46.70,22.52 L46.54,23.11 L46.38,23.68 L46.23,24.23 L46.08,24.74 L45.92,25.25 L45.81,25.81 L45.70,26.39 L45.59,26.99 L45.47,27.58 L45.35,28.17 L45.24,28.74 L45.13,29.27 L45.03,29.77 L44.95,30.21 L44.87,30.58 L44.81,30.89Z" fill="#3a6c2c"/>
<path d="M45.06,21.10 L45.01,20.79 L44.95,20.38 L44.89,19.88 L44.82,19.31 L44.74,18.70 L44.65,18.06 L44.54,17.41 L44.43,16.77 L44.23,16.17 L44.00,15.63 L43.77,15.15 L43.52,14.74 L43.23,14.41 L42.90,14.16 L42.56,13.97 L42.20,13.84 L41.86,13.76 L41.52,13.71 L41.19,13.69 L40.89,13.68 L40.62,13.67 L40.38,13.67 L40.19,13.66 L40.04,13.64 L39.96,13.96 L40.12,14.02 L40.33,14.07 L40.57,14.12 L40.83,14.17 L41.11,14.24 L41.40,14.31 L41.67,14.41 L41.94,14.53 L42.17,14.67 L42.38,14.84 L42.55,15.03 L42.68,15.26 L42.80,15.57 L42.92,16.00 L43.02,16.51 L43.12,17.08 L43.29,17.68 L43.44,18.29 L43.59,18.91 L43.72,19.50 L43.85,20.06 L43.96,20.56 L44.05,20.98 L44.14,21.30Z" fill="#3a6c2c"/>
<path d="M48.27,27.72 L48.50,27.42 L48.78,27.05 L49.10,26.61 L49.45,26.13 L49.84,25.61 L50.25,25.05 L50.69,24.48 L51.13,23.91 L51.59,23.34 L52.05,22.80 L52.51,22.28 L52.96,21.80 L53.42,21.34 L53.90,20.86 L54.40,20.37 L54.92,19.89 L55.44,19.41 L55.97,18.95 L56.50,18.50 L57.00,18.03 L57.50,17.58 L57.99,17.16 L58.48,16.77 L58.96,16.42 L59.43,16.10 L59.92,15.79 L60.41,15.50 L60.90,15.24 L61.39,14.99 L61.89,14.77 L62.38,14.57 L62.86,14.39 L63.35,14.24 L63.82,14.11 L64.29,14.00 L64.74,13.92 L65.19,13.88 L65.66,13.89 L66.16,13.93 L66.67,14.00 L67.18,14.10 L67.68,14.21 L68.17,14.34 L68.63,14.47 L69.05,14.59 L69.43,14.70 L69.77,14.79 L70.03,14.84 L70.17,14.36 L69.92,14.28 L69.61,14.16 L69.25,14.02 L68.83,13.85 L68.38,13.68 L67.89,13.50 L67.38,13.33 L66.85,13.17 L66.31,13.04 L65.75,12.94 L65.20,12.88 L64.66,12.88 L64.13,12.91 L63.60,12.98 L63.07,13.07 L62.52,13.19 L61.97,13.33 L61.41,13.49 L60.85,13.68 L60.29,13.90 L59.73,14.13 L59.17,14.39 L58.60,14.67 L58.04,14.98 L57.48,15.32 L56.90,15.69 L56.32,16.09 L55.74,16.52 L55.17,16.97 L54.63,17.48 L54.10,17.99 L53.58,18.52 L53.07,19.04 L52.58,19.57 L52.10,20.08 L51.64,20.60 L51.18,21.13 L50.72,21.71 L50.27,22.31 L49.82,22.92 L49.39,23.53 L48.97,24.13 L48.58,24.72 L48.21,25.26 L47.88,25.77 L47.59,26.21 L47.33,26.58 L47.13,26.88Z" fill="#3a6c2c"/>
<path d="M48.28,31.75 L48.59,31.44 L48.97,31.04 L49.40,30.57 L49.89,30.04 L50.41,29.48 L50.96,28.89 L51.54,28.29 L52.13,27.71 L52.73,27.15 L53.32,26.64 L53.90,26.18 L54.45,25.80 L55.01,25.45 L55.60,25.11 L56.20,24.78 L56.81,24.48 L57.43,24.19 L58.05,23.93 L58.68,23.70 L59.30,23.49 L59.92,23.32 L60.53,23.18 L61.13,23.08 L61.71,23.02 L62.28,23.00 L62.87,23.00 L63.47,23.01 L64.08,23.05 L64.70,23.13 L65.32,23.23 L65.95,23.36 L66.58,23.51 L67.20,23.69 L67.83,23.88 L68.45,24.09 L69.05,24.31 L69.65,24.55 L70.24,24.82 L70.84,25.12 L71.44,25.44 L72.04,25.79 L72.63,26.16 L73.22,26.54 L73.79,26.93 L74.36,27.33 L74.90,27.73 L75.43,28.13 L75.93,28.52 L76.41,28.93 L76.90,29.37 L77.38,29.85 L77.86,30.34 L78.32,30.84 L78.77,31.34 L79.19,31.83 L79.58,32.29 L79.94,32.72 L80.27,33.10 L80.55,33.43 L80.78,33.68 L81.22,33.32 L81.01,33.05 L80.76,32.71 L80.47,32.30 L80.14,31.85 L79.78,31.36 L79.40,30.83 L78.98,30.29 L78.55,29.74 L78.10,29.19 L77.63,28.66 L77.15,28.15 L76.67,27.68 L76.18,27.23 L75.67,26.78 L75.15,26.32 L74.60,25.86 L74.03,25.41 L73.45,24.97 L72.86,24.54 L72.25,24.12 L71.64,23.72 L71.01,23.35 L70.38,23.00 L69.75,22.69 L69.12,22.40 L68.47,22.13 L67.82,21.87 L67.15,21.63 L66.47,21.40 L65.78,21.21 L65.08,21.03 L64.37,20.89 L63.66,20.79 L62.94,20.72 L62.21,20.72 L61.49,20.78 L60.77,20.88 L60.06,21.03 L59.35,21.22 L58.64,21.45 L57.94,21.71 L57.25,22.00 L56.56,22.31 L55.89,22.65 L55.23,23.01 L54.59,23.39 L53.97,23.79 L53.35,24.20 L52.73,24.67 L52.09,25.22 L51.47,25.80 L50.85,26.42 L50.25,27.06 L49.67,27.70 L49.13,28.32 L48.62,28.92 L48.15,29.46 L47.74,29.94 L47.40,30.34 L47.12,30.65Z" fill="#3a6c2c"/>
<path d="M48.16,38.00 L48.47,37.77 L48.85,37.47 L49.28,37.12 L49.76,36.73 L50.28,36.32 L50.83,35.89 L51.40,35.45 L51.99,35.02 L52.59,34.60 L53.18,34.22 L53.75,33.88 L54.31,33.59 L54.88,33.32 L55.49,33.05 L56.11,32.78 L56.74,32.53 L57.37,32.29 L58.01,32.07 L58.65,31.88 L59.27,31.72 L59.89,31.59 L60.48,31.49 L61.06,31.44 L61.60,31.43 L62.15,31.46 L62.69,31.52 L63.24,31.62 L63.79,31.74 L64.34,31.90 L64.89,32.06 L65.44,32.24 L65.99,32.46 L66.52,32.70 L67.05,32.96 L67.57,33.25 L68.08,33.56 L68.58,33.89 L69.09,34.25 L69.60,34.64 L70.10,35.05 L70.59,35.49 L71.06,35.95 L71.52,36.44 L71.96,36.95 L72.37,37.49 L72.75,38.05 L73.11,38.63 L73.42,39.24 L73.70,39.92 L73.95,40.70 L74.18,41.57 L74.38,42.50 L74.55,43.47 L74.71,44.44 L74.84,45.39 L74.96,46.30 L75.07,47.14 L75.16,47.90 L75.25,48.54 L75.33,49.04 L75.87,48.96 L75.82,48.47 L75.78,47.84 L75.74,47.08 L75.69,46.23 L75.64,45.31 L75.57,44.34 L75.48,43.34 L75.37,42.34 L75.23,41.36 L75.06,40.42 L74.84,39.55 L74.58,38.76 L74.27,38.04 L73.92,37.36 L73.54,36.70 L73.12,36.07 L72.68,35.47 L72.21,34.90 L71.72,34.35 L71.22,33.84 L70.71,33.35 L70.18,32.88 L69.65,32.45 L69.12,32.04 L68.58,31.66 L68.02,31.29 L67.43,30.94 L66.84,30.63 L66.22,30.33 L65.60,30.07 L64.96,29.84 L64.30,29.66 L63.63,29.53 L62.96,29.44 L62.28,29.38 L61.60,29.37 L60.90,29.41 L60.20,29.50 L59.49,29.64 L58.79,29.81 L58.09,30.02 L57.39,30.25 L56.70,30.51 L56.03,30.79 L55.37,31.09 L54.72,31.39 L54.10,31.70 L53.49,32.01 L52.87,32.36 L52.24,32.77 L51.61,33.20 L50.99,33.67 L50.39,34.14 L49.81,34.61 L49.26,35.08 L48.75,35.52 L48.28,35.92 L47.87,36.28 L47.52,36.58 L47.24,36.80Z" fill="#3a6c2c"/>
<path d="M48.00,45.04 L48.27,44.93 L48.60,44.77 L48.98,44.58 L49.41,44.38 L49.86,44.16 L50.34,43.94 L50.84,43.72 L51.35,43.51 L51.85,43.31 L52.35,43.15 L52.82,43.01 L53.27,42.92 L53.74,42.84 L54.23,42.77 L54.72,42.71 L55.22,42.66 L55.73,42.63 L56.23,42.62 L56.72,42.63 L57.21,42.66 L57.68,42.71 L58.14,42.79 L58.58,42.89 L59.00,43.02 L59.43,43.19 L59.85,43.38 L60.28,43.60 L60.71,43.84 L61.15,44.08 L61.59,44.35 L62.02,44.64 L62.45,44.95 L62.88,45.29 L63.29,45.65 L63.69,46.03 L64.08,46.42 L64.47,46.85 L64.85,47.34 L65.24,47.87 L65.63,48.44 L66.01,49.04 L66.38,49.65 L66.74,50.26 L67.07,50.87 L67.39,51.47 L67.68,52.04 L67.94,52.58 L68.17,53.07 L68.36,53.52 L68.52,53.97 L68.65,54.41 L68.76,54.85 L68.84,55.27 L68.91,55.67 L68.96,56.06 L69.01,56.42 L69.04,56.75 L69.08,57.05 L69.11,57.31 L69.15,57.53 L69.65,57.47 L69.63,57.26 L69.62,57.01 L69.62,56.71 L69.61,56.38 L69.60,56.00 L69.58,55.60 L69.54,55.17 L69.49,54.72 L69.42,54.24 L69.32,53.75 L69.19,53.24 L69.03,52.73 L68.83,52.20 L68.61,51.63 L68.37,51.02 L68.10,50.38 L67.80,49.72 L67.49,49.05 L67.16,48.39 L66.82,47.73 L66.46,47.09 L66.09,46.48 L65.71,45.90 L65.32,45.38 L64.92,44.89 L64.50,44.43 L64.07,43.98 L63.63,43.56 L63.17,43.16 L62.70,42.78 L62.22,42.42 L61.72,42.09 L61.20,41.82 L60.67,41.57 L60.14,41.36 L59.60,41.18 L59.04,41.03 L58.47,40.92 L57.89,40.85 L57.32,40.81 L56.75,40.80 L56.17,40.82 L55.61,40.86 L55.05,40.91 L54.50,40.99 L53.97,41.08 L53.44,41.18 L52.93,41.28 L52.39,41.42 L51.83,41.61 L51.28,41.82 L50.73,42.06 L50.20,42.31 L49.68,42.56 L49.19,42.81 L48.73,43.06 L48.32,43.28 L47.95,43.48 L47.65,43.64 L47.40,43.76Z" fill="#3a6c2c"/>
<path d="M45.95,35.38 L45.71,35.11 L45.40,34.76 L45.04,34.32 L44.63,33.83 L44.17,33.30 L43.69,32.74 L43.18,32.18 L42.66,31.61 L42.12,31.06 L41.58,30.55 L41.04,30.07 L40.50,29.67 L39.98,29.32 L39.44,29.01 L38.91,28.72 L38.36,28.46 L37.81,28.22 L37.26,28.01 L36.71,27.82 L36.16,27.65 L35.61,27.49 L35.06,27.35 L34.52,27.23 L33.98,27.11 L33.46,27.01 L32.92,26.91 L32.39,26.83 L31.84,26.75 L31.29,26.69 L30.73,26.66 L30.17,26.64 L29.60,26.65 L29.02,26.71 L28.45,26.81 L27.87,26.95 L27.29,27.13 L26.72,27.35 L26.14,27.62 L25.57,27.91 L25.00,28.24 L24.43,28.59 L23.87,28.97 L23.33,29.36 L22.80,29.76 L22.29,30.18 L21.79,30.60 L21.33,31.02 L20.89,31.44 L20.47,31.87 L20.07,32.30 L19.68,32.74 L19.31,33.19 L18.96,33.65 L18.62,34.13 L18.30,34.61 L18.00,35.11 L17.72,35.62 L17.46,36.14 L17.23,36.66 L17.02,37.21 L16.83,37.80 L16.68,38.44 L16.56,39.11 L16.46,39.81 L16.39,40.50 L16.33,41.20 L16.28,41.86 L16.25,42.50 L16.22,43.08 L16.19,43.59 L16.16,44.03 L16.13,44.37 L16.67,44.43 L16.72,44.09 L16.78,43.65 L16.85,43.13 L16.92,42.56 L17.00,41.93 L17.09,41.28 L17.19,40.61 L17.31,39.94 L17.45,39.29 L17.61,38.67 L17.78,38.10 L17.98,37.59 L18.21,37.11 L18.46,36.64 L18.73,36.19 L19.02,35.74 L19.32,35.31 L19.64,34.88 L19.99,34.47 L20.34,34.07 L20.71,33.68 L21.10,33.29 L21.50,32.92 L21.91,32.56 L22.35,32.20 L22.81,31.84 L23.29,31.48 L23.79,31.12 L24.31,30.78 L24.84,30.46 L25.37,30.15 L25.90,29.87 L26.42,29.62 L26.94,29.40 L27.43,29.21 L27.91,29.07 L28.36,28.96 L28.82,28.88 L29.28,28.84 L29.73,28.80 L30.20,28.77 L30.67,28.77 L31.14,28.79 L31.63,28.82 L32.11,28.87 L32.61,28.93 L33.11,29.00 L33.62,29.09 L34.12,29.18 L34.63,29.27 L35.13,29.38 L35.64,29.51 L36.14,29.65 L36.64,29.80 L37.13,29.97 L37.62,30.16 L38.11,30.37 L38.58,30.60 L39.05,30.86 L39.50,31.13 L39.95,31.45 L40.44,31.85 L40.94,32.30 L41.46,32.79 L41.98,33.31 L42.48,33.84 L42.97,34.37 L43.43,34.88 L43.86,35.35 L44.24,35.77 L44.58,36.14 L44.85,36.42Z" fill="#3a6c2c"/>
<path d="M45.79,39.85 L45.55,39.70 L45.24,39.49 L44.88,39.24 L44.46,38.95 L44.01,38.64 L43.52,38.31 L43.01,37.98 L42.47,37.65 L41.93,37.34 L41.38,37.05 L40.83,36.78 L40.29,36.57 L39.77,36.39 L39.25,36.23 L38.73,36.09 L38.20,35.97 L37.66,35.86 L37.12,35.77 L36.57,35.70 L36.02,35.64 L35.46,35.60 L34.89,35.58 L34.32,35.58 L33.74,35.60 L33.16,35.63 L32.56,35.67 L31.94,35.73 L31.31,35.80 L30.67,35.90 L30.03,36.01 L29.39,36.17 L28.77,36.36 L28.15,36.57 L27.54,36.81 L26.95,37.07 L26.39,37.36 L25.86,37.66 L25.34,37.98 L24.82,38.32 L24.32,38.67 L23.83,39.05 L23.35,39.46 L22.89,39.88 L22.45,40.34 L22.02,40.82 L21.61,41.34 L21.23,41.88 L20.86,42.46 L20.51,43.11 L20.19,43.85 L19.88,44.65 L19.60,45.48 L19.34,46.34 L19.09,47.20 L18.87,48.05 L18.66,48.85 L18.48,49.58 L18.31,50.24 L18.17,50.79 L18.04,51.21 L18.56,51.39 L18.72,50.96 L18.91,50.42 L19.13,49.78 L19.37,49.06 L19.64,48.28 L19.93,47.47 L20.24,46.65 L20.56,45.84 L20.90,45.05 L21.24,44.33 L21.59,43.69 L21.94,43.14 L22.30,42.66 L22.69,42.21 L23.08,41.79 L23.49,41.39 L23.92,41.03 L24.36,40.68 L24.81,40.36 L25.27,40.06 L25.74,39.78 L26.23,39.52 L26.72,39.27 L27.21,39.04 L27.71,38.83 L28.23,38.65 L28.77,38.49 L29.32,38.35 L29.89,38.23 L30.47,38.12 L31.05,37.99 L31.62,37.89 L32.20,37.79 L32.77,37.72 L33.32,37.65 L33.86,37.60 L34.38,37.57 L34.89,37.55 L35.39,37.55 L35.89,37.57 L36.39,37.60 L36.88,37.64 L37.36,37.70 L37.84,37.78 L38.32,37.87 L38.79,37.98 L39.26,38.10 L39.71,38.23 L40.16,38.39 L40.64,38.59 L41.14,38.83 L41.64,39.10 L42.15,39.39 L42.65,39.69 L43.14,39.98 L43.60,40.27 L44.02,40.54 L44.40,40.78 L44.74,40.99 L45.01,41.15Z" fill="#3a6c2c"/>
<path d="M45.62,46.88 L45.40,46.79 L45.14,46.69 L44.82,46.56 L44.45,46.41 L44.06,46.25 L43.63,46.08 L43.19,45.91 L42.73,45.74 L42.26,45.57 L41.79,45.41 L41.33,45.27 L40.88,45.15 L40.45,45.04 L40.01,44.93 L39.56,44.83 L39.11,44.72 L38.64,44.63 L38.17,44.54 L37.69,44.46 L37.21,44.39 L36.72,44.34 L36.23,44.31 L35.73,44.30 L35.24,44.31 L34.75,44.35 L34.26,44.39 L33.77,44.46 L33.27,44.53 L32.76,44.63 L32.27,44.76 L31.78,44.92 L31.30,45.10 L30.83,45.30 L30.37,45.51 L29.92,45.75 L29.50,46.00 L29.10,46.27 L28.71,46.54 L28.33,46.83 L27.95,47.14 L27.59,47.47 L27.24,47.82 L26.90,48.19 L26.58,48.57 L26.28,48.99 L26.00,49.42 L25.74,49.87 L25.50,50.36 L25.29,50.90 L25.11,51.51 L24.96,52.16 L24.83,52.84 L24.72,53.53 L24.63,54.23 L24.55,54.91 L24.48,55.55 L24.42,56.15 L24.37,56.67 L24.32,57.11 L24.27,57.46 L24.73,57.54 L24.81,57.20 L24.90,56.76 L25.01,56.23 L25.12,55.65 L25.24,55.02 L25.38,54.36 L25.53,53.69 L25.70,53.03 L25.88,52.39 L26.07,51.80 L26.28,51.28 L26.50,50.84 L26.73,50.45 L26.99,50.08 L27.27,49.73 L27.56,49.40 L27.86,49.10 L28.18,48.81 L28.51,48.53 L28.85,48.28 L29.20,48.04 L29.56,47.81 L29.93,47.60 L30.30,47.40 L30.67,47.22 L31.06,47.06 L31.46,46.91 L31.88,46.78 L32.31,46.66 L32.74,46.56 L33.18,46.47 L33.62,46.36 L34.06,46.27 L34.50,46.20 L34.94,46.14 L35.36,46.09 L35.77,46.06 L36.19,46.05 L36.61,46.06 L37.04,46.08 L37.48,46.12 L37.92,46.18 L38.36,46.24 L38.80,46.31 L39.23,46.39 L39.67,46.48 L40.10,46.56 L40.52,46.65 L40.94,46.74 L41.37,46.85 L41.81,46.98 L42.26,47.12 L42.71,47.26 L43.14,47.41 L43.56,47.56 L43.96,47.70 L44.33,47.83 L44.66,47.95 L44.95,48.05 L45.18,48.12Z" fill="#3a6c2c"/>
<path d="M45.60,57.60 L45.65,55.38 L45.70,53.17 L45.75,50.95 L45.80,48.73 L45.85,46.52 L45.90,44.30 L45.95,42.08 L46.00,39.87 L46.05,37.65 L46.10,35.43 L46.15,33.22 L46.20,31.00" fill="none" stroke="#3a6c2c" stroke-width="1.7" stroke-linecap="round" stroke-linejoin="round"/>
</g>
<g transform="translate(316.00,364.00)">
<rect x="0" y="0.0" width="84.80" height="70.50" fill="url(#pbg)"/>
<rect x="0" y="0.0" width="5.6" height="70.5" fill="url(#pstrip)"/>
<rect x="5.6" y="0.0" width="1.6" height="70.5" fill="#3a3a3a"/>
<rect x="7.2" y="0.0" width="2.0" height="70.5" fill="#c3c6bc"/>
<rect x="9.2" y="0.0" width="3.1" height="70.5" fill="#121212"/>
<rect x="79.50" y="0.0" width="3.5" height="70.5" fill="#141414"/>
<rect x="83.00" y="0.0" width="1.8" height="70.5" fill="#b4b4b0"/>
<rect x="40.10" y="59.00" width="10.40" height="7.10" fill="#fbfafa" stroke="#dcd6d4" stroke-width="0.6"/>
<rect x="37.90" y="66.10" width="15.90" height="4.40" fill="#f6f4f4"/>
<path d="M37.90,66.70H53.80" stroke="#8d8585" stroke-width="1.1" fill="none"/>
<path d="M38.80,66.10V70.50 M52.90,66.10V70.50" stroke="#262222" stroke-width="1.5" fill="none"/>
<path d="M46.26,27.14 L46.24,26.65 L46.23,26.00 L46.22,25.22 L46.21,24.33 L46.20,23.37 L46.18,22.36 L46.14,21.34 L46.09,20.33 L45.90,19.37 L45.67,18.49 L45.42,17.70 L45.13,17.03 L44.77,16.46 L44.34,16.00 L43.87,15.63 L43.38,15.33 L42.88,15.11 L42.39,14.94 L41.91,14.80 L41.47,14.70 L41.06,14.62 L40.70,14.54 L40.42,14.47 L40.20,14.39 L40.00,14.81 L40.23,14.95 L40.53,15.08 L40.88,15.22 L41.26,15.37 L41.66,15.53 L42.07,15.73 L42.47,15.95 L42.85,16.20 L43.18,16.49 L43.47,16.81 L43.70,17.17 L43.87,17.57 L44.00,18.11 L44.10,18.81 L44.17,19.63 L44.22,20.54 L44.35,21.49 L44.47,22.48 L44.57,23.46 L44.66,24.41 L44.74,25.29 L44.81,26.08 L44.88,26.75 L44.94,27.26Z" fill="#3a6c2c"/>
<path d="M46.99,31.34 L47.27,30.91 L47.62,30.36 L48.03,29.72 L48.48,29.01 L48.98,28.24 L49.50,27.43 L50.04,26.60 L50.59,25.77 L51.13,24.97 L51.66,24.20 L52.17,23.49 L52.65,22.85 L53.07,22.22 L53.45,21.55 L53.83,20.88 L54.22,20.22 L54.61,19.58 L55.00,18.96 L55.39,18.37 L55.77,17.80 L56.15,17.27 L56.52,16.77 L56.87,16.32 L57.21,15.91 L57.54,15.56 L57.87,15.25 L58.23,14.97 L58.59,14.71 L58.95,14.48 L59.32,14.27 L59.67,14.08 L60.01,13.91 L60.33,13.76 L60.63,13.62 L60.89,13.49 L61.10,13.36 L60.70,12.44 L60.49,12.50 L60.24,12.56 L59.94,12.62 L59.59,12.70 L59.20,12.79 L58.77,12.91 L58.31,13.04 L57.83,13.21 L57.33,13.41 L56.82,13.65 L56.30,13.95 L55.79,14.29 L55.29,14.66 L54.78,15.07 L54.25,15.51 L53.72,15.98 L53.18,16.49 L52.63,17.01 L52.07,17.56 L51.51,18.13 L50.96,18.71 L50.40,19.30 L49.85,19.90 L49.35,20.55 L48.89,21.28 L48.40,22.09 L47.90,22.94 L47.40,23.82 L46.90,24.71 L46.41,25.59 L45.95,26.45 L45.51,27.26 L45.11,28.01 L44.75,28.67 L44.45,29.23 L44.21,29.66Z" fill="#3a6c2c"/>
<path d="M51.30,23.55 L51.64,23.42 L52.05,23.24 L52.51,23.02 L53.01,22.78 L53.54,22.54 L54.10,22.29 L54.68,22.07 L55.28,21.87 L55.87,21.71 L56.45,21.60 L57.01,21.55 L57.55,21.57 L58.13,21.64 L58.77,21.77 L59.45,21.95 L60.15,22.16 L60.88,22.41 L61.62,22.70 L62.35,23.02 L63.08,23.36 L63.80,23.73 L64.49,24.10 L65.18,24.44 L65.82,24.80 L66.44,25.17 L67.07,25.59 L67.70,26.05 L68.31,26.54 L68.92,27.05 L69.52,27.58 L70.09,28.12 L70.64,28.68 L71.15,29.23 L71.64,29.78 L72.08,30.32 L72.48,30.84 L72.83,31.35 L73.14,31.91 L73.42,32.49 L73.68,33.10 L73.90,33.71 L74.10,34.32 L74.27,34.91 L74.43,35.47 L74.57,35.99 L74.70,36.45 L74.81,36.86 L74.92,37.18 L75.48,37.02 L75.40,36.70 L75.33,36.31 L75.24,35.84 L75.15,35.31 L75.05,34.73 L74.93,34.10 L74.78,33.46 L74.61,32.79 L74.40,32.11 L74.15,31.44 L73.86,30.79 L73.52,30.16 L73.14,29.56 L72.72,28.94 L72.27,28.31 L71.78,27.68 L71.26,27.04 L70.71,26.41 L70.13,25.78 L69.54,25.18 L68.92,24.59 L68.29,24.03 L67.64,23.50 L66.98,23.00 L66.30,22.54 L65.58,22.09 L64.81,21.70 L64.01,21.34 L63.20,21.01 L62.38,20.70 L61.56,20.42 L60.75,20.18 L59.95,19.98 L59.16,19.81 L58.40,19.70 L57.65,19.63 L56.90,19.65 L56.14,19.75 L55.41,19.92 L54.71,20.15 L54.04,20.41 L53.40,20.69 L52.80,20.98 L52.25,21.27 L51.76,21.53 L51.33,21.76 L50.99,21.93 L50.70,22.05Z" fill="#3a6c2c"/>
<path d="M54.79,21.94 L54.86,22.17 L54.95,22.46 L55.06,22.80 L55.18,23.17 L55.31,23.58 L55.45,24.01 L55.59,24.44 L55.72,24.88 L55.84,25.30 L56.03,25.68 L56.21,26.01 L56.36,26.31 L56.49,26.59 L56.61,26.89 L56.72,27.19 L56.82,27.49 L56.92,27.79 L57.00,28.08 L57.08,28.36 L57.15,28.62 L57.21,28.86 L57.27,29.08 L57.32,29.27 L57.37,29.43 L57.83,29.37 L57.84,29.21 L57.85,29.02 L57.86,28.80 L57.88,28.55 L57.90,28.27 L57.91,27.97 L57.92,27.65 L57.93,27.32 L57.92,26.97 L57.91,26.62 L57.88,26.25 L57.84,25.89 L57.78,25.50 L57.71,25.08 L57.60,24.65 L57.40,24.23 L57.20,23.80 L56.99,23.38 L56.78,22.98 L56.59,22.59 L56.41,22.24 L56.25,21.92 L56.12,21.66 L56.01,21.46Z" fill="#3a6c2c"/>
<path d="M45.95,36.72 L46.44,36.50 L47.06,36.19 L47.78,35.83 L48.59,35.42 L49.45,34.99 L50.36,34.55 L51.30,34.11 L52.24,33.70 L53.16,33.33 L54.04,33.01 L54.86,32.78 L55.60,32.63 L56.31,32.54 L57.05,32.48 L57.78,32.46 L58.51,32.47 L59.23,32.52 L59.93,32.60 L60.63,32.66 L61.30,32.77 L61.96,32.91 L62.59,33.08 L63.19,33.29 L63.74,33.53 L64.27,33.81 L64.80,34.17 L65.32,34.60 L65.84,35.08 L66.35,35.61 L66.84,36.17 L67.31,36.76 L67.76,37.35 L68.17,37.93 L68.56,38.51 L68.91,39.05 L69.22,39.55 L69.47,40.02 L69.68,40.50 L69.86,41.00 L70.00,41.51 L70.11,42.01 L70.20,42.51 L70.27,42.99 L70.33,43.44 L70.37,43.86 L70.42,44.24 L70.46,44.57 L70.52,44.84 L71.08,44.76 L71.06,44.50 L71.04,44.19 L71.04,43.82 L71.03,43.39 L71.01,42.92 L70.99,42.42 L70.94,41.88 L70.87,41.33 L70.76,40.76 L70.62,40.19 L70.43,39.61 L70.18,39.05 L69.91,38.49 L69.60,37.89 L69.25,37.26 L68.87,36.61 L68.46,35.94 L68.02,35.28 L67.54,34.62 L67.04,33.98 L66.50,33.38 L65.92,32.82 L65.30,32.31 L64.66,31.87 L63.98,31.51 L63.28,31.19 L62.55,30.91 L61.79,30.68 L61.01,30.48 L60.21,30.33 L59.38,30.26 L58.55,30.24 L57.72,30.26 L56.88,30.32 L56.04,30.43 L55.20,30.57 L54.31,30.80 L53.38,31.12 L52.42,31.51 L51.45,31.95 L50.49,32.42 L49.54,32.92 L48.63,33.41 L47.77,33.89 L46.98,34.33 L46.29,34.72 L45.71,35.04 L45.25,35.28Z" fill="#3a6c2c"/>
<path d="M45.86,46.51 L46.36,46.34 L46.98,46.10 L47.70,45.81 L48.50,45.48 L49.36,45.14 L50.26,44.79 L51.19,44.46 L52.12,44.16 L53.03,43.91 L53.90,43.71 L54.70,43.60 L55.41,43.57 L56.10,43.61 L56.81,43.71 L57.53,43.86 L58.25,44.06 L58.97,44.30 L59.68,44.58 L60.38,44.88 L61.09,45.18 L61.78,45.50 L62.44,45.84 L63.08,46.19 L63.68,46.55 L64.25,46.93 L64.81,47.35 L65.36,47.80 L65.90,48.29 L66.41,48.81 L66.91,49.34 L67.38,49.89 L67.81,50.45 L68.22,51.01 L68.59,51.56 L68.92,52.10 L69.20,52.62 L69.42,53.13 L69.59,53.68 L69.72,54.27 L69.81,54.88 L69.87,55.50 L69.90,56.11 L69.91,56.71 L69.91,57.27 L69.91,57.80 L69.90,58.27 L69.91,58.68 L69.93,59.01 L70.47,58.99 L70.48,58.68 L70.50,58.29 L70.55,57.83 L70.60,57.31 L70.65,56.73 L70.68,56.11 L70.71,55.47 L70.70,54.81 L70.65,54.14 L70.56,53.47 L70.42,52.81 L70.20,52.18 L69.94,51.57 L69.63,50.96 L69.29,50.33 L68.90,49.70 L68.48,49.06 L68.03,48.43 L67.55,47.81 L67.03,47.20 L66.49,46.62 L65.92,46.06 L65.33,45.53 L64.72,45.05 L64.09,44.60 L63.43,44.16 L62.74,43.72 L62.01,43.31 L61.25,42.92 L60.46,42.60 L59.64,42.31 L58.81,42.07 L57.97,41.88 L57.11,41.74 L56.26,41.65 L55.39,41.63 L54.48,41.71 L53.52,41.89 L52.55,42.14 L51.57,42.46 L50.59,42.82 L49.64,43.21 L48.72,43.60 L47.86,43.99 L47.07,44.34 L46.38,44.66 L45.80,44.91 L45.34,45.09Z" fill="#3a6c2c"/>
<path d="M45.07,34.27 L44.77,33.99 L44.41,33.62 L43.97,33.16 L43.47,32.63 L42.91,32.06 L42.32,31.47 L41.70,30.87 L41.05,30.28 L40.38,29.73 L39.69,29.22 L38.99,28.78 L38.29,28.44 L37.61,28.18 L36.92,27.97 L36.21,27.80 L35.48,27.66 L34.74,27.57 L34.00,27.52 L33.25,27.52 L32.51,27.56 L31.77,27.66 L31.05,27.82 L30.34,28.04 L29.67,28.32 L29.03,28.67 L28.43,29.10 L27.86,29.57 L27.30,30.10 L26.77,30.66 L26.27,31.27 L25.79,31.92 L25.35,32.61 L24.93,33.33 L24.55,34.09 L24.21,34.88 L23.91,35.71 L23.65,36.63 L23.45,37.67 L23.29,38.78 L23.17,39.96 L23.07,41.16 L23.01,42.36 L22.96,43.54 L22.92,44.66 L22.89,45.69 L22.87,46.60 L22.84,47.37 L22.80,47.97 L23.40,48.03 L23.49,47.43 L23.59,46.66 L23.70,45.75 L23.82,44.72 L23.95,43.62 L24.11,42.46 L24.28,41.29 L24.47,40.13 L24.69,39.02 L24.93,37.98 L25.20,37.06 L25.49,36.29 L25.82,35.60 L26.18,34.93 L26.57,34.30 L26.98,33.70 L27.42,33.14 L27.87,32.63 L28.34,32.15 L28.82,31.73 L29.30,31.35 L29.79,31.01 L30.27,30.73 L30.73,30.48 L31.19,30.27 L31.69,30.09 L32.22,29.95 L32.78,29.85 L33.36,29.79 L33.96,29.77 L34.57,29.78 L35.19,29.83 L35.79,29.92 L36.39,30.04 L36.97,30.19 L37.51,30.36 L38.03,30.59 L38.59,30.90 L39.19,31.31 L39.80,31.78 L40.43,32.29 L41.04,32.83 L41.63,33.38 L42.19,33.91 L42.71,34.41 L43.18,34.86 L43.60,35.24 L43.93,35.53Z" fill="#3a6c2c"/>
<path d="M44.81,39.66 L44.40,39.48 L43.88,39.23 L43.25,38.91 L42.54,38.56 L41.77,38.18 L40.94,37.78 L40.09,37.39 L39.21,37.03 L38.33,36.69 L37.46,36.41 L36.60,36.20 L35.78,36.08 L35.00,36.03 L34.23,36.04 L33.44,36.09 L32.66,36.19 L31.89,36.33 L31.13,36.50 L30.39,36.72 L29.69,37.01 L29.03,37.34 L28.42,37.71 L27.85,38.11 L27.34,38.55 L26.88,39.05 L26.50,39.60 L26.20,40.17 L25.95,40.77 L25.76,41.37 L25.61,41.99 L25.49,42.62 L25.40,43.25 L25.33,43.87 L25.26,44.49 L25.21,45.10 L25.15,45.71 L25.10,46.36 L25.08,47.07 L25.08,47.81 L25.11,48.56 L25.15,49.32 L25.21,50.07 L25.27,50.79 L25.33,51.48 L25.39,52.10 L25.45,52.66 L25.49,53.13 L25.51,53.51 L26.09,53.49 L26.10,53.11 L26.10,52.63 L26.10,52.07 L26.10,51.44 L26.11,50.76 L26.12,50.04 L26.13,49.30 L26.16,48.56 L26.21,47.83 L26.27,47.14 L26.35,46.49 L26.45,45.89 L26.57,45.30 L26.69,44.70 L26.81,44.11 L26.93,43.52 L27.07,42.96 L27.23,42.42 L27.40,41.91 L27.60,41.44 L27.83,41.02 L28.08,40.65 L28.35,40.32 L28.66,40.05 L29.04,39.78 L29.49,39.53 L29.99,39.29 L30.55,39.08 L31.14,38.88 L31.75,38.67 L32.38,38.49 L33.03,38.35 L33.69,38.23 L34.35,38.16 L35.00,38.12 L35.62,38.12 L36.24,38.19 L36.95,38.33 L37.73,38.54 L38.55,38.80 L39.38,39.11 L40.22,39.44 L41.03,39.78 L41.81,40.12 L42.53,40.44 L43.18,40.73 L43.75,40.97 L44.19,41.14Z" fill="#3a6c2c"/>
<path d="M44.72,47.33 L44.36,47.20 L43.90,47.01 L43.34,46.77 L42.70,46.50 L42.00,46.21 L41.27,45.92 L40.50,45.63 L39.73,45.37 L38.95,45.15 L38.19,44.97 L37.44,44.87 L36.74,44.85 L36.09,44.92 L35.47,45.03 L34.86,45.19 L34.27,45.40 L33.72,45.69 L33.18,46.03 L32.68,46.40 L32.21,46.80 L31.77,47.23 L31.37,47.69 L31.00,48.19 L30.67,48.71 L30.39,49.32 L30.16,50.00 L29.99,50.74 L29.86,51.51 L29.76,52.30 L29.68,53.09 L29.63,53.86 L29.59,54.60 L29.55,55.28 L29.52,55.87 L29.49,56.37 L29.45,56.76 L29.95,56.84 L30.04,56.45 L30.13,55.95 L30.24,55.35 L30.35,54.68 L30.48,53.97 L30.63,53.22 L30.79,52.48 L30.98,51.74 L31.19,51.05 L31.42,50.43 L31.66,49.90 L31.93,49.49 L32.23,49.12 L32.56,48.77 L32.93,48.44 L33.32,48.14 L33.73,47.87 L34.15,47.64 L34.59,47.43 L35.05,47.26 L35.49,47.08 L35.95,46.93 L36.41,46.82 L36.86,46.75 L37.33,46.73 L37.90,46.77 L38.55,46.88 L39.25,47.04 L39.98,47.24 L40.72,47.47 L41.45,47.71 L42.14,47.95 L42.79,48.18 L43.38,48.39 L43.88,48.56 L44.28,48.67Z" fill="#3a6c2c"/>
<path d="M45.00,59.00 L45.00,56.58 L45.00,54.17 L45.00,51.75 L45.00,49.33 L45.00,46.92 L45.00,44.50 L45.00,42.08 L45.00,39.67 L45.00,37.25 L45.00,34.83 L45.00,32.42 L45.00,30.00" fill="none" stroke="#3a6c2c" stroke-width="1.7" stroke-linecap="round" stroke-linejoin="round"/>
</g>
<g transform="translate(75.00,436.00)">
<rect x="0" y="0.0" width="83.70" height="70.70" fill="url(#pbg)"/>
<rect x="0" y="0.0" width="5.6" height="70.7" fill="url(#pstrip)"/>
<rect x="5.6" y="0.0" width="1.6" height="70.7" fill="#3a3a3a"/>
<rect x="7.2" y="0.0" width="2.0" height="70.7" fill="#c3c6bc"/>
<rect x="9.2" y="0.0" width="3.1" height="70.7" fill="#121212"/>
<rect x="78.40" y="8.0" width="3.5" height="62.7" fill="#141414"/>
<rect x="81.90" y="8.0" width="1.8" height="62.7" fill="#b4b4b0"/>
<rect x="40.50" y="58.60" width="10.10" height="7.30" fill="#fbfafa" stroke="#dcd6d4" stroke-width="0.6"/>
<rect x="38.20" y="65.90" width="17.40" height="4.80" fill="#f6f4f4"/>
<path d="M38.20,66.50H55.60" stroke="#8d8585" stroke-width="1.1" fill="none"/>
<path d="M39.10,65.90V70.70 M54.70,65.90V70.70" stroke="#262222" stroke-width="1.5" fill="none"/>
<path d="M45.06,24.07 L45.11,23.77 L45.17,23.40 L45.24,22.95 L45.32,22.46 L45.40,21.92 L45.49,21.35 L45.59,20.77 L45.68,20.19 L45.77,19.62 L45.79,19.06 L45.78,18.55 L45.77,18.08 L45.76,17.65 L45.76,17.21 L45.75,16.77 L45.75,16.35 L45.75,15.93 L45.74,15.53 L45.74,15.15 L45.74,14.80 L45.74,14.47 L45.74,14.18 L45.74,13.93 L45.73,13.73 L45.27,13.67 L45.22,13.87 L45.16,14.11 L45.09,14.39 L45.01,14.71 L44.92,15.05 L44.83,15.42 L44.74,15.81 L44.64,16.22 L44.54,16.64 L44.43,17.06 L44.33,17.49 L44.23,17.92 L44.12,18.37 L44.01,18.88 L43.91,19.43 L43.89,20.01 L43.87,20.60 L43.84,21.19 L43.82,21.76 L43.80,22.31 L43.78,22.81 L43.77,23.26 L43.75,23.64 L43.74,23.93Z" fill="#3a6c2c"/>
<path d="M44.93,25.82 L44.91,25.57 L44.88,25.24 L44.85,24.85 L44.82,24.42 L44.78,23.94 L44.74,23.45 L44.70,22.94 L44.66,22.43 L44.54,21.95 L44.34,21.51 L44.15,21.11 L43.98,20.76 L43.82,20.44 L43.66,20.14 L43.51,19.85 L43.35,19.58 L43.20,19.33 L43.06,19.09 L42.92,18.87 L42.79,18.68 L42.68,18.50 L42.58,18.34 L42.49,18.21 L42.42,18.09 L41.78,18.31 L41.80,18.45 L41.82,18.62 L41.84,18.80 L41.87,19.01 L41.89,19.24 L41.92,19.48 L41.94,19.75 L41.97,20.02 L41.99,20.31 L42.00,20.61 L42.01,20.92 L42.02,21.24 L42.02,21.60 L42.01,22.01 L42.00,22.47 L42.07,22.95 L42.22,23.42 L42.37,23.90 L42.51,24.38 L42.65,24.83 L42.78,25.25 L42.90,25.62 L43.00,25.94 L43.07,26.18Z" fill="#3a6c2c"/>
<path d="M43.92,25.57 L43.68,25.19 L43.38,24.70 L43.03,24.11 L42.64,23.44 L42.20,22.71 L41.73,21.94 L41.23,21.15 L40.69,20.35 L40.12,19.56 L39.53,18.80 L38.92,18.09 L38.28,17.45 L37.62,16.86 L36.92,16.28 L36.17,15.71 L35.36,15.22 L34.53,14.74 L33.68,14.29 L32.83,13.87 L31.99,13.50 L31.17,13.16 L30.36,12.87 L29.59,12.64 L28.85,12.47 L28.11,12.37 L27.37,12.37 L26.64,12.45 L25.94,12.58 L25.27,12.76 L24.62,12.97 L24.02,13.19 L23.47,13.41 L22.96,13.62 L22.52,13.80 L22.14,13.94 L21.84,14.04 L21.96,14.56 L22.30,14.50 L22.71,14.39 L23.18,14.25 L23.70,14.10 L24.27,13.95 L24.86,13.80 L25.48,13.67 L26.11,13.58 L26.74,13.52 L27.37,13.53 L27.97,13.59 L28.55,13.73 L29.17,13.95 L29.83,14.24 L30.54,14.58 L31.27,14.97 L32.01,15.41 L32.76,15.88 L33.50,16.39 L34.23,16.92 L34.93,17.46 L35.64,17.96 L36.31,18.46 L36.92,18.95 L37.49,19.47 L38.07,20.07 L38.64,20.73 L39.21,21.43 L39.76,22.16 L40.28,22.90 L40.78,23.62 L41.24,24.32 L41.67,24.96 L42.05,25.54 L42.39,26.04 L42.68,26.43Z" fill="#3a6c2c"/>
<path d="M43.88,31.05 L43.47,30.59 L42.95,29.98 L42.32,29.24 L41.62,28.39 L40.86,27.48 L40.04,26.53 L39.18,25.58 L38.31,24.65 L37.42,23.78 L36.53,22.99 L35.65,22.31 L34.78,21.77 L33.93,21.38 L33.09,21.09 L32.25,20.88 L31.41,20.74 L30.58,20.67 L29.75,20.67 L28.93,20.72 L28.12,20.84 L27.32,21.02 L26.54,21.24 L25.77,21.48 L24.99,21.74 L24.19,22.06 L23.36,22.43 L22.53,22.87 L21.71,23.35 L20.89,23.86 L20.08,24.41 L19.30,24.97 L18.54,25.55 L17.81,26.14 L17.12,26.72 L16.48,27.30 L15.89,27.86 L15.34,28.45 L14.82,29.09 L14.34,29.75 L13.90,30.43 L13.50,31.12 L13.13,31.79 L12.79,32.44 L12.48,33.05 L12.20,33.61 L11.96,34.10 L11.74,34.52 L11.56,34.85 L12.04,35.15 L12.26,34.83 L12.52,34.41 L12.80,33.93 L13.12,33.40 L13.47,32.82 L13.85,32.21 L14.26,31.59 L14.70,30.97 L15.16,30.36 L15.65,29.77 L16.17,29.23 L16.71,28.74 L17.30,28.25 L17.96,27.75 L18.66,27.24 L19.40,26.74 L20.16,26.24 L20.95,25.76 L21.75,25.30 L22.56,24.88 L23.35,24.49 L24.13,24.16 L24.89,23.88 L25.61,23.66 L26.33,23.47 L27.06,23.31 L27.78,23.17 L28.48,23.07 L29.17,22.99 L29.85,22.92 L30.52,22.90 L31.19,22.93 L31.85,23.01 L32.51,23.15 L33.17,23.36 L33.82,23.63 L34.51,24.01 L35.27,24.56 L36.10,25.24 L36.96,26.02 L37.83,26.88 L38.69,27.77 L39.52,28.66 L40.31,29.53 L41.04,30.35 L41.70,31.08 L42.26,31.69 L42.72,32.15Z" fill="#3a6c2c"/>
<path d="M43.75,36.64 L43.34,36.34 L42.83,35.95 L42.22,35.46 L41.53,34.91 L40.77,34.31 L39.95,33.69 L39.10,33.06 L38.21,32.46 L37.31,31.89 L36.39,31.38 L35.48,30.96 L34.57,30.64 L33.69,30.41 L32.78,30.24 L31.85,30.11 L30.90,30.02 L29.94,29.98 L28.98,29.99 L28.03,30.05 L27.09,30.16 L26.18,30.31 L25.31,30.57 L24.49,30.88 L23.72,31.25 L23.01,31.68 L22.34,32.18 L21.72,32.73 L21.13,33.33 L20.59,33.97 L20.09,34.66 L19.63,35.37 L19.21,36.11 L18.83,36.88 L18.49,37.67 L18.19,38.47 L17.92,39.29 L17.71,40.18 L17.57,41.18 L17.48,42.23 L17.45,43.33 L17.44,44.44 L17.47,45.55 L17.51,46.63 L17.57,47.66 L17.62,48.60 L17.67,49.44 L17.71,50.14 L17.71,50.69 L18.29,50.71 L18.32,50.15 L18.34,49.43 L18.36,48.59 L18.37,47.64 L18.39,46.63 L18.43,45.56 L18.49,44.47 L18.57,43.39 L18.68,42.34 L18.84,41.36 L19.03,40.48 L19.28,39.71 L19.57,39.00 L19.90,38.29 L20.26,37.61 L20.65,36.95 L21.07,36.31 L21.52,35.72 L22.00,35.16 L22.50,34.65 L23.02,34.19 L23.56,33.79 L24.11,33.44 L24.68,33.15 L25.28,32.91 L25.96,32.71 L26.69,32.55 L27.45,32.39 L28.26,32.26 L29.09,32.18 L29.94,32.14 L30.80,32.15 L31.65,32.19 L32.48,32.28 L33.28,32.40 L34.03,32.56 L34.76,32.79 L35.54,33.12 L36.37,33.54 L37.22,34.03 L38.07,34.57 L38.91,35.14 L39.72,35.71 L40.49,36.27 L41.20,36.79 L41.84,37.27 L42.39,37.67 L42.85,37.96Z" fill="#3a6c2c"/>
<path d="M43.67,45.54 L43.36,45.36 L42.97,45.10 L42.49,44.76 L41.94,44.38 L41.33,43.96 L40.69,43.54 L40.01,43.13 L39.32,42.74 L38.61,42.41 L37.89,42.15 L37.16,41.98 L36.44,41.95 L35.79,42.03 L35.17,42.17 L34.56,42.37 L33.95,42.64 L33.36,42.96 L32.78,43.35 L32.22,43.79 L31.68,44.30 L31.21,44.89 L30.78,45.55 L30.39,46.25 L30.05,47.02 L29.75,47.91 L29.50,48.93 L29.30,50.05 L29.13,51.25 L28.99,52.49 L28.87,53.75 L28.77,54.99 L28.69,56.17 L28.62,57.26 L28.56,58.23 L28.50,59.04 L28.43,59.66 L28.97,59.74 L29.10,59.12 L29.24,58.31 L29.41,57.35 L29.60,56.28 L29.80,55.12 L30.03,53.91 L30.27,52.70 L30.54,51.50 L30.82,50.38 L31.12,49.35 L31.43,48.48 L31.75,47.78 L32.10,47.20 L32.47,46.67 L32.86,46.20 L33.26,45.77 L33.64,45.36 L34.05,45.00 L34.46,44.69 L34.89,44.43 L35.31,44.22 L35.74,44.05 L36.17,43.93 L36.56,43.85 L36.93,43.85 L37.39,43.93 L37.94,44.10 L38.54,44.35 L39.17,44.65 L39.81,45.00 L40.44,45.37 L41.05,45.73 L41.61,46.09 L42.12,46.41 L42.58,46.67 L42.93,46.86Z" fill="#3a6c2c"/>
<path d="M46.04,25.50 L46.38,25.21 L46.79,24.82 L47.27,24.38 L47.80,23.88 L48.37,23.34 L48.97,22.80 L49.60,22.25 L50.24,21.73 L50.87,21.25 L51.49,20.83 L52.07,20.49 L52.62,20.24 L53.17,20.04 L53.78,19.86 L54.40,19.71 L55.03,19.59 L55.67,19.51 L56.31,19.46 L56.94,19.44 L57.56,19.41 L58.16,19.41 L58.74,19.44 L59.28,19.52 L59.78,19.63 L60.26,19.79 L60.76,20.01 L61.27,20.29 L61.78,20.63 L62.28,21.01 L62.78,21.42 L63.26,21.86 L63.71,22.32 L64.14,22.78 L64.54,23.24 L64.89,23.69 L65.20,24.10 L65.45,24.50 L65.66,24.95 L65.83,25.42 L65.98,25.93 L66.09,26.45 L66.19,26.96 L66.26,27.47 L66.32,27.95 L66.37,28.40 L66.41,28.81 L66.46,29.16 L66.52,29.44 L67.08,29.36 L67.06,29.09 L67.05,28.76 L67.05,28.36 L67.04,27.91 L67.03,27.41 L67.01,26.87 L66.97,26.32 L66.90,25.74 L66.80,25.17 L66.66,24.59 L66.46,24.03 L66.20,23.50 L65.90,22.99 L65.57,22.47 L65.20,21.93 L64.79,21.39 L64.35,20.84 L63.87,20.30 L63.36,19.78 L62.83,19.29 L62.27,18.83 L61.68,18.42 L61.06,18.06 L60.42,17.77 L59.76,17.55 L59.07,17.38 L58.36,17.26 L57.63,17.18 L56.88,17.15 L56.13,17.21 L55.37,17.31 L54.63,17.44 L53.89,17.62 L53.17,17.83 L52.47,18.08 L51.78,18.36 L51.09,18.73 L50.39,19.19 L49.70,19.71 L49.02,20.28 L48.37,20.87 L47.74,21.48 L47.14,22.08 L46.59,22.65 L46.08,23.18 L45.64,23.64 L45.26,24.02 L44.96,24.30Z" fill="#3a6c2c"/>
<path d="M45.92,34.58 L46.32,34.35 L46.82,34.04 L47.38,33.67 L48.01,33.26 L48.68,32.83 L49.40,32.39 L50.13,31.95 L50.88,31.54 L51.62,31.16 L52.35,30.85 L53.03,30.60 L53.66,30.44 L54.31,30.33 L55.01,30.25 L55.75,30.20 L56.49,30.13 L57.25,30.07 L58.00,30.05 L58.75,30.06 L59.48,30.11 L60.17,30.20 L60.82,30.32 L61.43,30.48 L61.95,30.67 L62.42,30.91 L62.89,31.26 L63.36,31.69 L63.82,32.20 L64.26,32.76 L64.68,33.34 L65.07,33.93 L65.43,34.51 L65.77,35.05 L66.06,35.54 L66.33,35.95 L66.56,36.26 L67.04,35.94 L66.86,35.63 L66.66,35.21 L66.42,34.70 L66.16,34.12 L65.86,33.49 L65.53,32.83 L65.17,32.16 L64.76,31.50 L64.32,30.87 L63.82,30.28 L63.26,29.76 L62.65,29.33 L61.99,29.00 L61.29,28.72 L60.55,28.49 L59.77,28.29 L58.96,28.14 L58.12,28.02 L57.27,27.95 L56.42,27.91 L55.57,27.93 L54.74,28.03 L53.93,28.18 L53.14,28.36 L52.34,28.62 L51.52,28.97 L50.71,29.38 L49.92,29.84 L49.14,30.33 L48.39,30.84 L47.68,31.34 L47.01,31.82 L46.41,32.27 L45.88,32.66 L45.44,32.98 L45.08,33.22Z" fill="#3a6c2c"/>
<path d="M45.80,41.34 L46.26,41.17 L46.83,40.93 L47.48,40.64 L48.20,40.32 L48.98,39.98 L49.80,39.64 L50.64,39.31 L51.49,39.00 L52.33,38.74 L53.14,38.53 L53.89,38.39 L54.57,38.32 L55.26,38.32 L55.98,38.37 L56.73,38.45 L57.49,38.58 L58.25,38.75 L59.00,38.94 L59.74,39.15 L60.47,39.35 L61.18,39.57 L61.84,39.81 L62.46,40.06 L63.02,40.33 L63.53,40.62 L64.03,40.93 L64.50,41.29 L64.95,41.67 L65.38,42.07 L65.78,42.50 L66.14,42.94 L66.47,43.39 L66.77,43.86 L67.02,44.33 L67.24,44.79 L67.40,45.24 L67.51,45.71 L67.56,46.23 L67.55,46.82 L67.49,47.44 L67.39,48.09 L67.26,48.74 L67.11,49.38 L66.96,49.98 L66.82,50.55 L66.69,51.05 L66.58,51.49 L66.52,51.84 L67.08,51.96 L67.17,51.64 L67.31,51.24 L67.48,50.75 L67.68,50.20 L67.89,49.60 L68.10,48.96 L68.30,48.30 L68.47,47.62 L68.60,46.93 L68.68,46.25 L68.68,45.59 L68.60,44.96 L68.44,44.37 L68.24,43.79 L68.00,43.21 L67.71,42.64 L67.37,42.08 L67.00,41.53 L66.59,40.99 L66.13,40.47 L65.65,39.98 L65.12,39.51 L64.57,39.07 L63.98,38.67 L63.35,38.30 L62.68,37.94 L61.95,37.60 L61.19,37.27 L60.40,36.98 L59.56,36.74 L58.71,36.56 L57.85,36.42 L56.98,36.31 L56.12,36.25 L55.27,36.24 L54.43,36.28 L53.55,36.40 L52.66,36.61 L51.75,36.89 L50.84,37.23 L49.95,37.60 L49.08,37.98 L48.25,38.38 L47.47,38.76 L46.76,39.11 L46.13,39.43 L45.61,39.68 L45.20,39.86Z" fill="#3a6c2c"/>
<path d="M45.72,49.17 L46.13,49.05 L46.65,48.87 L47.25,48.66 L47.92,48.42 L48.63,48.17 L49.38,47.92 L50.14,47.68 L50.89,47.47 L51.61,47.31 L52.27,47.19 L52.86,47.14 L53.34,47.16 L53.78,47.24 L54.22,47.36 L54.67,47.52 L55.12,47.68 L55.57,47.88 L56.02,48.12 L56.47,48.39 L56.90,48.68 L57.32,49.00 L57.72,49.34 L58.11,49.69 L58.47,50.04 L58.81,50.41 L59.13,50.85 L59.45,51.36 L59.76,51.91 L60.05,52.49 L60.33,53.07 L60.59,53.65 L60.83,54.21 L61.05,54.73 L61.24,55.19 L61.42,55.59 L61.57,55.90 L62.03,55.70 L61.93,55.39 L61.81,54.99 L61.68,54.51 L61.53,53.97 L61.36,53.38 L61.17,52.75 L60.96,52.11 L60.73,51.47 L60.47,50.84 L60.19,50.23 L59.87,49.66 L59.53,49.16 L59.16,48.71 L58.79,48.27 L58.38,47.84 L57.95,47.41 L57.50,47.01 L57.01,46.62 L56.50,46.26 L55.96,45.93 L55.39,45.65 L54.78,45.44 L54.14,45.31 L53.46,45.24 L52.74,45.26 L51.98,45.37 L51.19,45.55 L50.40,45.79 L49.60,46.06 L48.82,46.36 L48.06,46.67 L47.35,46.97 L46.70,47.25 L46.12,47.50 L45.65,47.69 L45.28,47.83Z" fill="#3a6c2c"/>
<path d="M44.40,58.60 L44.40,55.61 L44.40,52.62 L44.40,49.62 L44.40,46.63 L44.40,43.64 L44.40,40.65 L44.40,37.66 L44.40,34.67 L44.40,31.68 L44.40,28.68 L44.40,25.69 L44.40,22.70" fill="none" stroke="#3a6c2c" stroke-width="1.7" stroke-linecap="round" stroke-linejoin="round"/>
</g>
<g transform="translate(165.10,444.00)">
<rect x="0" y="0.0" width="83.60" height="62.70" fill="url(#pbg)"/>
<rect x="0" y="0.0" width="5.6" height="62.7" fill="url(#pstrip)"/>
<rect x="5.6" y="0.0" width="1.6" height="62.7" fill="#3a3a3a"/>
<rect x="7.2" y="0.0" width="2.0" height="62.7" fill="#c3c6bc"/>
<rect x="9.2" y="0.0" width="3.1" height="62.7" fill="#121212"/>
<rect x="78.30" y="0.0" width="3.5" height="62.7" fill="#141414"/>
<rect x="81.80" y="0.0" width="1.8" height="62.7" fill="#b4b4b0"/>
<rect x="40.80" y="50.50" width="9.30" height="7.00" fill="#fbfafa" stroke="#dcd6d4" stroke-width="0.6"/>
<rect x="37.70" y="57.50" width="15.50" height="5.20" fill="#f6f4f4"/>
<path d="M37.70,58.10H53.20" stroke="#8d8585" stroke-width="1.1" fill="none"/>
<path d="M38.60,57.50V62.70 M52.30,57.50V62.70" stroke="#262222" stroke-width="1.5" fill="none"/>
<path d="M45.65,32.06 L45.69,31.38 L45.74,30.51 L45.80,29.49 L45.86,28.35 L45.93,27.11 L46.01,25.79 L46.08,24.44 L46.16,23.08 L46.23,21.73 L46.30,20.42 L46.36,19.19 L46.42,18.06 L46.35,16.97 L46.26,15.84 L46.18,14.70 L46.09,13.57 L46.00,12.45 L45.91,11.36 L45.83,10.32 L45.75,9.35 L45.67,8.45 L45.61,7.66 L45.55,6.97 L45.51,6.42 L43.89,6.38 L43.82,6.93 L43.73,7.61 L43.63,8.40 L43.51,9.29 L43.39,10.26 L43.25,11.29 L43.11,12.37 L42.97,13.49 L42.82,14.61 L42.67,15.74 L42.52,16.86 L42.38,17.94 L42.36,19.06 L42.35,20.29 L42.33,21.59 L42.30,22.94 L42.28,24.30 L42.26,25.66 L42.23,26.97 L42.21,28.21 L42.19,29.36 L42.17,30.38 L42.16,31.25 L42.15,31.94Z" fill="#3a6c2c"/>
<path d="M44.44,24.04 L44.40,23.59 L44.34,23.01 L44.28,22.33 L44.21,21.55 L44.13,20.71 L44.05,19.83 L43.96,18.93 L43.87,18.02 L43.78,17.13 L43.61,16.29 L43.44,15.51 L43.28,14.81 L43.12,14.16 L42.96,13.51 L42.79,12.87 L42.62,12.25 L42.45,11.65 L42.28,11.08 L42.12,10.55 L41.97,10.05 L41.84,9.59 L41.71,9.19 L41.61,8.84 L41.53,8.56 L40.07,8.84 L40.11,9.15 L40.15,9.51 L40.20,9.94 L40.26,10.41 L40.32,10.92 L40.38,11.47 L40.45,12.05 L40.51,12.65 L40.57,13.28 L40.63,13.91 L40.68,14.55 L40.72,15.19 L40.76,15.88 L40.79,16.65 L40.84,17.49 L40.96,18.37 L41.08,19.26 L41.20,20.16 L41.32,21.03 L41.43,21.86 L41.53,22.63 L41.62,23.32 L41.70,23.90 L41.76,24.36Z" fill="#3a6c2c"/>
<path d="M41.18,9.88 L40.94,9.64 L40.63,9.30 L40.26,8.90 L39.84,8.44 L39.38,7.95 L38.89,7.43 L38.38,6.91 L37.86,6.40 L37.33,5.93 L36.76,5.56 L36.20,5.25 L35.67,5.02 L35.15,4.86 L34.62,4.78 L34.11,4.76 L33.61,4.78 L33.13,4.84 L32.67,4.92 L32.24,5.01 L31.84,5.12 L31.48,5.21 L31.16,5.30 L30.90,5.36 L30.69,5.40 L30.71,5.80 L30.95,5.81 L31.24,5.79 L31.58,5.77 L31.94,5.74 L32.34,5.71 L32.76,5.69 L33.18,5.70 L33.61,5.73 L34.02,5.78 L34.42,5.88 L34.79,6.01 L35.13,6.18 L35.48,6.43 L35.89,6.77 L36.32,7.18 L36.83,7.58 L37.37,8.02 L37.90,8.47 L38.42,8.93 L38.91,9.37 L39.37,9.79 L39.78,10.16 L40.14,10.48 L40.42,10.72Z" fill="#3a6c2c"/>
<path d="M47.08,19.63 L47.39,19.30 L47.76,18.86 L48.19,18.36 L48.65,17.81 L49.15,17.21 L49.68,16.60 L50.23,15.99 L50.80,15.39 L51.37,14.82 L51.93,14.32 L52.46,13.89 L52.97,13.54 L53.49,13.25 L54.05,12.97 L54.62,12.71 L55.20,12.49 L55.80,12.29 L56.40,12.11 L57.01,11.97 L57.62,11.86 L58.24,11.77 L58.85,11.72 L59.45,11.69 L60.05,11.68 L60.67,11.70 L61.30,11.75 L61.95,11.82 L62.59,11.92 L63.24,12.05 L63.89,12.22 L64.52,12.41 L65.14,12.64 L65.75,12.91 L66.34,13.21 L66.90,13.56 L67.43,13.94 L67.94,14.41 L68.48,15.00 L69.02,15.68 L69.56,16.45 L70.09,17.26 L70.61,18.09 L71.10,18.91 L71.56,19.71 L71.98,20.45 L72.35,21.12 L72.68,21.68 L72.95,22.11 L73.65,21.69 L73.41,21.26 L73.13,20.70 L72.80,20.02 L72.42,19.25 L72.01,18.42 L71.57,17.55 L71.09,16.66 L70.59,15.79 L70.07,14.95 L69.53,14.16 L68.96,13.46 L68.37,12.86 L67.77,12.35 L67.14,11.91 L66.48,11.51 L65.80,11.16 L65.11,10.85 L64.40,10.58 L63.69,10.36 L62.97,10.17 L62.25,10.01 L61.54,9.88 L60.84,9.79 L60.15,9.72 L59.45,9.68 L58.74,9.68 L58.03,9.73 L57.32,9.81 L56.61,9.92 L55.90,10.07 L55.20,10.25 L54.50,10.47 L53.82,10.71 L53.14,10.99 L52.49,11.30 L51.83,11.66 L51.16,12.08 L50.49,12.59 L49.83,13.16 L49.19,13.77 L48.56,14.40 L47.96,15.04 L47.39,15.66 L46.85,16.26 L46.37,16.81 L45.95,17.29 L45.60,17.67 L45.32,17.97Z" fill="#3a6c2c"/>
<path d="M42.14,15.73 L41.93,15.56 L41.65,15.34 L41.31,15.07 L40.92,14.75 L40.50,14.41 L40.05,14.06 L39.59,13.70 L39.11,13.36 L38.64,13.04 L38.17,12.75 L37.70,12.50 L37.26,12.32 L36.87,12.20 L36.53,12.11 L36.17,12.04 L35.81,12.00 L35.42,12.01 L35.03,12.06 L34.65,12.16 L34.27,12.32 L33.92,12.51 L33.58,12.74 L33.24,13.01 L32.90,13.32 L32.54,13.69 L32.19,14.10 L31.85,14.55 L31.50,15.03 L31.16,15.54 L30.86,16.10 L30.58,16.68 L30.29,17.29 L30.00,17.90 L29.71,18.53 L29.41,19.16 L29.11,19.79 L28.78,20.48 L28.41,21.24 L28.03,22.06 L27.64,22.92 L27.24,23.80 L26.84,24.67 L26.45,25.52 L26.09,26.33 L25.76,27.08 L25.46,27.74 L25.20,28.30 L25.00,28.74 L25.60,29.06 L25.86,28.65 L26.19,28.13 L26.58,27.52 L27.01,26.83 L27.49,26.08 L27.99,25.29 L28.50,24.48 L29.02,23.68 L29.53,22.89 L30.01,22.13 L30.47,21.44 L30.89,20.81 L31.29,20.22 L31.68,19.63 L32.06,19.05 L32.43,18.48 L32.79,17.94 L33.14,17.43 L33.46,16.94 L33.73,16.47 L34.00,16.04 L34.25,15.66 L34.48,15.34 L34.70,15.08 L34.91,14.86 L35.10,14.69 L35.26,14.56 L35.38,14.48 L35.47,14.42 L35.55,14.39 L35.64,14.37 L35.74,14.36 L35.89,14.36 L36.07,14.39 L36.30,14.43 L36.54,14.48 L36.80,14.56 L37.12,14.71 L37.50,14.91 L37.93,15.16 L38.38,15.44 L38.84,15.74 L39.29,16.05 L39.72,16.35 L40.13,16.64 L40.49,16.89 L40.81,17.11 L41.06,17.27Z" fill="#3a6c2c"/>
<path d="M43.72,25.79 L43.56,25.63 L43.35,25.43 L43.09,25.17 L42.80,24.87 L42.48,24.54 L42.13,24.20 L41.76,23.85 L41.38,23.51 L40.98,23.18 L40.57,22.87 L40.15,22.60 L39.73,22.39 L39.33,22.23 L38.94,22.09 L38.54,21.98 L38.12,21.89 L37.71,21.83 L37.28,21.80 L36.86,21.79 L36.43,21.82 L36.00,21.88 L35.57,21.99 L35.15,22.15 L34.76,22.35 L34.40,22.59 L34.07,22.85 L33.77,23.15 L33.49,23.47 L33.23,23.81 L32.99,24.18 L32.77,24.57 L32.56,24.98 L32.36,25.41 L32.16,25.88 L32.00,26.38 L31.86,26.92 L31.72,27.52 L31.59,28.18 L31.47,28.89 L31.35,29.65 L31.25,30.42 L31.15,31.22 L31.06,32.02 L30.98,32.82 L30.91,33.60 L30.85,34.35 L30.80,35.06 L30.76,35.72 L30.75,36.36 L30.75,37.01 L30.77,37.64 L30.80,38.27 L30.85,38.87 L30.90,39.45 L30.95,39.99 L31.01,40.50 L31.06,40.96 L31.10,41.37 L31.14,41.72 L31.16,42.01 L31.84,41.99 L31.85,41.70 L31.86,41.34 L31.87,40.92 L31.88,40.46 L31.89,39.95 L31.90,39.42 L31.93,38.85 L31.96,38.27 L32.01,37.67 L32.07,37.07 L32.14,36.47 L32.24,35.88 L32.35,35.25 L32.48,34.58 L32.64,33.86 L32.80,33.11 L32.98,32.35 L33.17,31.59 L33.36,30.84 L33.56,30.11 L33.76,29.42 L33.96,28.77 L34.15,28.19 L34.34,27.68 L34.53,27.23 L34.69,26.80 L34.82,26.41 L34.96,26.05 L35.09,25.74 L35.22,25.46 L35.36,25.22 L35.49,25.02 L35.63,24.84 L35.76,24.69 L35.90,24.56 L36.04,24.45 L36.19,24.36 L36.34,24.28 L36.53,24.22 L36.74,24.17 L36.98,24.14 L37.23,24.13 L37.50,24.13 L37.77,24.16 L38.05,24.20 L38.34,24.26 L38.62,24.33 L38.87,24.41 L39.11,24.52 L39.39,24.67 L39.71,24.88 L40.05,25.13 L40.41,25.41 L40.76,25.70 L41.11,26.00 L41.44,26.30 L41.75,26.57 L42.03,26.83 L42.28,27.05 L42.48,27.21Z" fill="#3a6c2c"/>
<path d="M45.85,24.23 L46.11,24.10 L46.43,23.92 L46.80,23.71 L47.20,23.48 L47.63,23.24 L48.07,23.00 L48.51,22.77 L48.94,22.56 L49.34,22.40 L49.69,22.28 L49.96,22.22 L50.14,22.22 L50.30,22.24 L50.48,22.27 L50.64,22.33 L50.79,22.40 L50.94,22.49 L51.09,22.60 L51.24,22.75 L51.41,22.93 L51.58,23.14 L51.75,23.40 L51.93,23.69 L52.11,24.02 L52.29,24.38 L52.47,24.82 L52.65,25.32 L52.83,25.88 L53.01,26.48 L53.23,27.09 L53.46,27.72 L53.69,28.34 L53.90,28.96 L54.11,29.56 L54.29,30.13 L54.47,30.66 L54.62,31.15 L54.77,31.61 L54.90,32.06 L55.02,32.50 L55.13,32.92 L55.23,33.33 L55.32,33.74 L55.39,34.15 L55.46,34.55 L55.52,34.96 L55.56,35.37 L55.60,35.79 L55.62,36.23 L55.62,36.70 L55.60,37.20 L55.56,37.72 L55.51,38.24 L55.46,38.75 L55.40,39.25 L55.34,39.72 L55.29,40.15 L55.24,40.54 L55.19,40.88 L55.17,41.14 L55.83,41.26 L55.89,41.00 L55.98,40.68 L56.08,40.31 L56.19,39.88 L56.31,39.42 L56.44,38.93 L56.56,38.41 L56.68,37.88 L56.79,37.35 L56.88,36.82 L56.96,36.30 L57.00,35.81 L57.02,35.34 L57.04,34.88 L57.03,34.42 L57.02,33.97 L56.99,33.52 L56.96,33.07 L56.91,32.61 L56.85,32.14 L56.79,31.66 L56.71,31.17 L56.63,30.67 L56.53,30.14 L56.43,29.59 L56.32,28.98 L56.19,28.34 L56.06,27.68 L55.91,27.00 L55.76,26.32 L55.57,25.65 L55.33,25.01 L55.08,24.39 L54.83,23.81 L54.56,23.27 L54.29,22.78 L54.02,22.37 L53.74,21.98 L53.46,21.63 L53.16,21.30 L52.85,21.00 L52.51,20.73 L52.15,20.50 L51.77,20.30 L51.37,20.15 L50.96,20.05 L50.53,19.99 L50.06,19.98 L49.54,20.05 L49.02,20.21 L48.51,20.41 L48.01,20.66 L47.52,20.93 L47.04,21.22 L46.59,21.51 L46.16,21.79 L45.77,22.05 L45.43,22.27 L45.16,22.45 L44.95,22.57Z" fill="#3a6c2c"/>
<path d="M45.14,32.62 L45.35,32.48 L45.61,32.29 L45.91,32.08 L46.23,31.84 L46.58,31.59 L46.93,31.35 L47.29,31.12 L47.63,30.91 L47.95,30.75 L48.23,30.64 L48.42,30.60 L48.52,30.60 L48.62,30.63 L48.76,30.68 L48.91,30.76 L49.09,30.87 L49.28,31.02 L49.51,31.16 L49.76,31.32 L50.00,31.52 L50.24,31.73 L50.48,31.96 L50.71,32.20 L50.92,32.43 L51.12,32.68 L51.32,32.99 L51.52,33.35 L51.72,33.74 L51.91,34.17 L52.10,34.60 L52.28,35.02 L52.44,35.44 L52.59,35.82 L52.73,36.16 L52.84,36.46 L52.94,36.68 L53.46,36.52 L53.41,36.29 L53.36,35.99 L53.30,35.63 L53.24,35.22 L53.17,34.77 L53.09,34.30 L52.99,33.82 L52.89,33.34 L52.77,32.86 L52.63,32.40 L52.46,31.96 L52.28,31.57 L52.08,31.21 L51.87,30.87 L51.65,30.54 L51.41,30.20 L51.14,29.88 L50.86,29.57 L50.55,29.28 L50.19,29.05 L49.80,28.86 L49.39,28.72 L48.96,28.62 L48.48,28.60 L47.97,28.68 L47.50,28.86 L47.07,29.09 L46.65,29.35 L46.26,29.65 L45.88,29.95 L45.52,30.26 L45.19,30.56 L44.89,30.84 L44.63,31.07 L44.42,31.25 L44.26,31.38Z" fill="#3a6c2c"/>
<path d="M45.28,38.95 L45.47,38.98 L45.70,39.01 L45.93,39.04 L46.19,39.06 L46.45,39.09 L46.71,39.13 L46.97,39.18 L47.21,39.25 L47.43,39.32 L47.63,39.41 L47.78,39.51 L47.92,39.63 L48.07,39.79 L48.24,40.00 L48.42,40.24 L48.61,40.50 L48.78,40.79 L48.96,41.10 L49.12,41.43 L49.31,41.75 L49.52,42.07 L49.72,42.40 L49.90,42.74 L50.07,43.07 L50.22,43.42 L50.36,43.83 L50.50,44.28 L50.63,44.77 L50.75,45.28 L50.86,45.79 L50.96,46.30 L51.05,46.78 L51.13,47.22 L51.21,47.62 L51.27,47.96 L51.33,48.23 L51.87,48.17 L51.87,47.91 L51.88,47.57 L51.89,47.17 L51.91,46.71 L51.93,46.22 L51.94,45.69 L51.95,45.15 L51.94,44.60 L51.92,44.06 L51.88,43.52 L51.82,43.01 L51.73,42.53 L51.62,42.09 L51.49,41.65 L51.35,41.21 L51.19,40.79 L50.99,40.38 L50.74,40.01 L50.49,39.65 L50.22,39.31 L49.95,38.99 L49.68,38.70 L49.39,38.43 L49.08,38.17 L48.73,37.95 L48.35,37.77 L47.97,37.64 L47.60,37.56 L47.24,37.51 L46.89,37.48 L46.57,37.47 L46.27,37.46 L46.01,37.46 L45.80,37.47 L45.64,37.46 L45.52,37.45Z" fill="#3a6c2c"/>
<path d="M44.70,50.50 L44.68,49.99 L44.64,49.35 L44.61,48.60 L44.56,47.76 L44.52,46.84 L44.47,45.88 L44.42,44.87 L44.37,43.85 L44.32,42.84 L44.28,41.84 L44.24,40.89 L44.20,40.00 L44.17,39.12 L44.13,38.19 L44.10,37.23 L44.07,36.26 L44.05,35.29 L44.02,34.34 L43.99,33.43 L43.97,32.57 L43.95,31.79 L43.93,31.08 L43.91,30.48 L43.90,30.00" fill="none" stroke="#3a6c2c" stroke-width="2.2" stroke-linecap="round" stroke-linejoin="round"/>
</g>
<g transform="translate(253.10,444.00)">
<rect x="0" y="0.0" width="83.60" height="62.70" fill="url(#pbg)"/>
<rect x="0" y="0.0" width="5.6" height="62.7" fill="url(#pstrip)"/>
<rect x="5.6" y="0.0" width="1.6" height="62.7" fill="#3a3a3a"/>
<rect x="7.2" y="0.0" width="2.0" height="62.7" fill="#c3c6bc"/>
<rect x="9.2" y="0.0" width="3.1" height="62.7" fill="#121212"/>
<rect x="78.30" y="-7.9" width="3.5" height="70.6" fill="#141414"/>
<rect x="81.80" y="-7.9" width="1.8" height="70.6" fill="#b4b4b0"/>
<rect x="39.30" y="50.60" width="11.20" height="7.90" fill="#fbfafa" stroke="#dcd6d4" stroke-width="0.6"/>
<rect x="39.30" y="58.50" width="11.20" height="4.20" fill="#f6f4f4"/>
<path d="M39.30,59.10H50.50" stroke="#8d8585" stroke-width="1.1" fill="none"/>
<path d="M40.20,58.50V62.70 M49.60,58.50V62.70" stroke="#262222" stroke-width="1.5" fill="none"/>
<path d="M47.15,25.22 L47.11,24.72 L47.07,24.07 L47.02,23.31 L46.97,22.46 L46.91,21.53 L46.84,20.54 L46.77,19.53 L46.70,18.50 L46.62,17.49 L46.54,16.51 L46.46,15.58 L46.37,14.72 L46.14,13.90 L45.89,13.08 L45.63,12.25 L45.36,11.43 L45.09,10.63 L44.83,9.85 L44.58,9.11 L44.34,8.42 L44.12,7.78 L43.92,7.22 L43.76,6.74 L43.62,6.35 L41.98,6.65 L41.99,7.07 L42.01,7.58 L42.04,8.18 L42.07,8.85 L42.10,9.58 L42.13,10.35 L42.16,11.16 L42.19,11.99 L42.21,12.83 L42.22,13.67 L42.23,14.49 L42.23,15.28 L42.36,16.09 L42.50,16.98 L42.64,17.93 L42.78,18.92 L42.91,19.92 L43.05,20.92 L43.17,21.89 L43.29,22.81 L43.40,23.66 L43.50,24.42 L43.59,25.07 L43.65,25.58Z" fill="#3a6c2c"/>
<path d="M47.80,21.44 L47.87,21.00 L47.97,20.43 L48.07,19.76 L48.20,19.00 L48.33,18.19 L48.47,17.33 L48.61,16.44 L48.76,15.54 L48.90,14.66 L49.03,13.80 L49.06,12.98 L49.09,12.22 L49.12,11.49 L49.15,10.75 L49.18,9.99 L49.20,9.24 L49.23,8.49 L49.26,7.77 L49.28,7.08 L49.30,6.44 L49.32,5.84 L49.34,5.32 L49.36,4.86 L49.37,4.50 L48.03,4.30 L47.94,4.66 L47.83,5.10 L47.70,5.61 L47.55,6.19 L47.39,6.81 L47.22,7.48 L47.04,8.18 L46.86,8.90 L46.67,9.63 L46.48,10.36 L46.29,11.08 L46.11,11.78 L45.92,12.50 L45.71,13.30 L45.58,14.15 L45.45,15.04 L45.32,15.93 L45.19,16.82 L45.07,17.69 L44.95,18.51 L44.84,19.26 L44.75,19.93 L44.66,20.51 L44.60,20.96Z" fill="#3a6c2c"/>
<path d="M42,17 L49.6,17 L47,25 L43.7,29.6 Z" fill="#3a6c2c"/>
<path d="M50.11,15.30 L50.36,15.13 L50.67,14.91 L51.01,14.65 L51.39,14.37 L51.79,14.07 L52.22,13.76 L52.67,13.45 L53.12,13.15 L53.57,12.88 L54.02,12.63 L54.44,12.42 L54.85,12.26 L55.27,12.13 L55.72,12.00 L56.17,11.88 L56.63,11.78 L57.10,11.70 L57.57,11.63 L58.03,11.59 L58.50,11.56 L58.97,11.57 L59.43,11.60 L59.89,11.65 L60.34,11.74 L60.80,11.86 L61.29,12.01 L61.79,12.20 L62.30,12.41 L62.82,12.65 L63.32,12.91 L63.82,13.20 L64.30,13.50 L64.76,13.82 L65.19,14.14 L65.58,14.48 L65.93,14.83 L66.24,15.20 L66.53,15.63 L66.81,16.12 L67.07,16.64 L67.31,17.19 L67.53,17.75 L67.73,18.30 L67.91,18.82 L68.08,19.31 L68.23,19.75 L68.36,20.13 L68.48,20.42 L69.12,20.18 L69.01,19.90 L68.90,19.53 L68.78,19.09 L68.64,18.59 L68.48,18.05 L68.30,17.48 L68.10,16.89 L67.87,16.30 L67.62,15.72 L67.34,15.16 L67.02,14.64 L66.67,14.17 L66.28,13.76 L65.86,13.36 L65.41,12.97 L64.93,12.60 L64.42,12.25 L63.90,11.91 L63.37,11.60 L62.82,11.31 L62.28,11.05 L61.73,10.82 L61.19,10.62 L60.66,10.46 L60.13,10.33 L59.59,10.24 L59.05,10.18 L58.51,10.15 L57.97,10.15 L57.43,10.17 L56.90,10.22 L56.37,10.29 L55.85,10.38 L55.35,10.48 L54.85,10.60 L54.35,10.74 L53.83,10.91 L53.29,11.14 L52.76,11.40 L52.24,11.68 L51.73,11.98 L51.24,12.29 L50.77,12.59 L50.34,12.88 L49.95,13.15 L49.60,13.38 L49.32,13.57 L49.09,13.70Z" fill="#3a6c2c"/>
<path d="M42.18,19.73 L42.12,19.72 L42.01,19.69 L41.79,19.61 L41.48,19.51 L41.12,19.40 L40.70,19.29 L40.24,19.21 L39.72,19.17 L39.14,19.21 L38.51,19.38 L37.88,19.74 L37.38,20.23 L37.04,20.73 L36.78,21.22 L36.56,21.74 L36.37,22.29 L36.20,22.86 L36.04,23.47 L35.90,24.11 L35.77,24.78 L35.64,25.47 L35.53,26.19 L35.42,26.94 L35.38,27.73 L35.38,28.61 L35.40,29.60 L35.45,30.68 L35.51,31.81 L35.59,32.97 L35.67,34.14 L35.75,35.28 L35.83,36.36 L35.91,37.36 L35.98,38.25 L36.04,39.00 L36.08,39.59 L36.92,39.61 L37.00,39.03 L37.10,38.28 L37.22,37.40 L37.34,36.40 L37.48,35.33 L37.63,34.20 L37.79,33.05 L37.95,31.92 L38.12,30.82 L38.29,29.79 L38.46,28.87 L38.62,28.07 L38.76,27.35 L38.84,26.64 L38.92,25.96 L39.00,25.32 L39.10,24.72 L39.20,24.16 L39.30,23.66 L39.42,23.22 L39.53,22.83 L39.65,22.52 L39.76,22.28 L39.82,22.17 L39.78,22.19 L39.69,22.24 L39.67,22.24 L39.73,22.24 L39.89,22.24 L40.10,22.27 L40.35,22.32 L40.62,22.39 L40.91,22.48 L41.21,22.56 L41.54,22.64 L41.82,22.67Z" fill="#3a6c2c"/>
<path d="M42.63,27.84 L42.58,27.85 L42.51,27.84 L42.34,27.83 L42.11,27.81 L41.83,27.80 L41.51,27.81 L41.15,27.85 L40.77,27.95 L40.38,28.12 L39.99,28.39 L39.65,28.76 L39.40,29.19 L39.21,29.63 L39.06,30.09 L38.93,30.58 L38.81,31.11 L38.70,31.67 L38.61,32.26 L38.52,32.88 L38.45,33.53 L38.38,34.19 L38.32,34.87 L38.28,35.57 L38.32,36.28 L38.38,37.05 L38.46,37.91 L38.56,38.83 L38.68,39.79 L38.81,40.78 L38.94,41.76 L39.07,42.71 L39.20,43.62 L39.33,44.45 L39.43,45.20 L39.52,45.82 L39.59,46.31 L40.21,46.29 L40.23,45.79 L40.25,45.15 L40.27,44.40 L40.30,43.55 L40.33,42.64 L40.36,41.68 L40.40,40.70 L40.44,39.72 L40.49,38.77 L40.54,37.87 L40.61,37.05 L40.68,36.32 L40.76,35.65 L40.77,34.98 L40.77,34.32 L40.78,33.69 L40.80,33.08 L40.83,32.50 L40.87,31.96 L40.92,31.45 L40.98,31.00 L41.05,30.60 L41.13,30.26 L41.20,30.01 L41.26,29.88 L41.30,29.82 L41.35,29.77 L41.43,29.73 L41.54,29.68 L41.69,29.65 L41.87,29.63 L42.07,29.62 L42.28,29.62 L42.51,29.62 L42.77,29.60 L42.97,29.56Z" fill="#3a6c2c"/>
<path d="M46.53,24.66 L46.74,24.60 L47.00,24.50 L47.27,24.39 L47.55,24.27 L47.84,24.16 L48.14,24.05 L48.43,23.96 L48.69,23.89 L48.91,23.86 L49.08,23.85 L49.16,23.87 L49.19,23.89 L49.27,23.95 L49.39,24.04 L49.53,24.16 L49.67,24.31 L49.81,24.49 L49.96,24.70 L50.11,24.95 L50.26,25.23 L50.41,25.54 L50.56,25.88 L50.70,26.26 L50.84,26.67 L50.98,27.12 L51.12,27.64 L51.26,28.20 L51.39,28.79 L51.58,29.40 L51.78,30.03 L51.98,30.68 L52.16,31.33 L52.33,31.98 L52.47,32.63 L52.60,33.25 L52.70,33.85 L52.76,34.45 L52.81,35.10 L52.82,35.79 L52.82,36.50 L52.80,37.22 L52.76,37.93 L52.72,38.62 L52.67,39.28 L52.63,39.88 L52.59,40.42 L52.56,40.88 L52.54,41.25 L53.26,41.35 L53.34,40.99 L53.44,40.55 L53.57,40.03 L53.72,39.44 L53.88,38.80 L54.04,38.12 L54.20,37.40 L54.35,36.67 L54.48,35.92 L54.59,35.18 L54.66,34.45 L54.70,33.75 L54.71,33.06 L54.69,32.36 L54.65,31.63 L54.59,30.91 L54.52,30.18 L54.43,29.45 L54.33,28.74 L54.18,28.06 L53.98,27.42 L53.77,26.81 L53.57,26.25 L53.36,25.73 L53.15,25.25 L52.93,24.80 L52.71,24.37 L52.47,23.97 L52.22,23.59 L51.96,23.24 L51.69,22.91 L51.40,22.61 L51.09,22.34 L50.76,22.10 L50.42,21.89 L50.01,21.71 L49.52,21.59 L49.01,21.57 L48.55,21.63 L48.13,21.74 L47.72,21.87 L47.35,22.03 L47.00,22.19 L46.68,22.34 L46.40,22.49 L46.16,22.61 L46.00,22.69 L45.87,22.74Z" fill="#3a6c2c"/>
<path d="M44.86,37.74 L45.13,37.59 L45.47,37.39 L45.85,37.15 L46.26,36.88 L46.70,36.61 L47.16,36.33 L47.63,36.08 L48.09,35.85 L48.53,35.67 L48.93,35.55 L49.27,35.49 L49.55,35.49 L49.83,35.55 L50.15,35.66 L50.49,35.81 L50.84,36.00 L51.21,36.24 L51.58,36.52 L51.96,36.82 L52.34,37.16 L52.72,37.51 L53.10,37.89 L53.49,38.25 L53.89,38.60 L54.28,38.96 L54.67,39.35 L55.07,39.77 L55.47,40.23 L55.87,40.70 L56.26,41.19 L56.65,41.68 L57.02,42.18 L57.37,42.67 L57.70,43.16 L58.01,43.63 L58.29,44.07 L58.54,44.50 L58.77,44.95 L58.99,45.42 L59.19,45.89 L59.37,46.36 L59.53,46.83 L59.69,47.27 L59.82,47.69 L59.95,48.08 L60.06,48.43 L60.16,48.73 L60.25,48.98 L60.75,48.82 L60.69,48.58 L60.63,48.28 L60.56,47.92 L60.48,47.52 L60.39,47.08 L60.29,46.61 L60.18,46.12 L60.04,45.60 L59.89,45.08 L59.72,44.56 L59.53,44.04 L59.31,43.53 L59.07,43.03 L58.80,42.51 L58.52,41.97 L58.21,41.41 L57.89,40.85 L57.55,40.29 L57.20,39.73 L56.83,39.18 L56.46,38.65 L56.08,38.14 L55.70,37.65 L55.31,37.20 L54.93,36.78 L54.53,36.38 L54.09,36.00 L53.65,35.63 L53.20,35.27 L52.73,34.93 L52.25,34.62 L51.76,34.35 L51.26,34.11 L50.75,33.91 L50.22,33.78 L49.65,33.71 L49.06,33.74 L48.46,33.87 L47.90,34.08 L47.35,34.34 L46.82,34.64 L46.32,34.95 L45.84,35.28 L45.39,35.59 L44.99,35.88 L44.64,36.14 L44.36,36.33 L44.14,36.46Z" fill="#3a6c2c"/>
<path d="M43.70,49.70 L43.70,48.03 L43.70,46.35 L43.70,44.68 L43.70,43.00 L43.70,41.33 L43.70,39.65 L43.70,37.98 L43.70,36.30 L43.70,34.62 L43.70,32.95 L43.70,31.28 L43.70,29.60" fill="none" stroke="#3a6c2c" stroke-width="2.0" stroke-linecap="round" stroke-linejoin="round"/>
</g>
</g>

<g id="tripod">
<!-- cross braces -->
<path d="M193.5,384.3L206.9,386.3M217.2,387.4L241,384.8" stroke="#2a2a2a" stroke-width="1.4" fill="none"/>
<!-- left leg -->
<path d="M194.5,360L199.7,360L193.5,382.9L188.3,382.7Z" fill="#dd4f1b"/>
<path d="M196,361L191,381" stroke="#f08050" stroke-width="1" opacity="0.6"/>
<path d="M185.2,382.2L193.5,382.2L189.4,405.4L182.1,405.4Z" fill="#171717"/>
<path d="M182.1,404.4H188.3L188,408.5H182.4Z" fill="#101010"/>
<path d="M200.3,329.2L206.3,332.8L200.3,362L193.5,360.5Z" fill="#161616"/>
<!-- right leg -->
<path d="M233.7,360L238.9,360L247.2,383.7L242,383.7Z" fill="#dd4f1b"/>
<path d="M236,361L244,382" stroke="#f08050" stroke-width="1" opacity="0.6"/>
<path d="M242,383.7L248.2,383.7L255.4,406.5L249.2,406.5Z" fill="#171717"/>
<path d="M249.2,406H255.4L255.2,411.6H249.6Z" fill="#101010"/>
<path d="M218.4,324.2L224.8,325L237.2,359L239,362L233.3,362L230.5,361.2Z" fill="#161616"/>
<path d="M217.3,332.8H220.5V344.8H217.3Z" fill="#222"/>
<!-- center column -->
<rect x="206.9" y="364.5" width="7.3" height="34" fill="#dd4f1b"/>
<rect x="207.9" y="371.4" width="3" height="18.6" fill="#8a6a5a" opacity="0.7"/>
<rect x="214.1" y="377.5" width="3.1" height="19.7" fill="#1d1d1d"/>
<path d="M203.8,398.2H214.1V407.5H213.6V417H213.2V419H213.6V429H212.6V437.4H203.3V430H204.3V419H204V417H204.3V407.5H203.8Z" fill="#161616"/>
<path d="M204.3,408.3H213.6M204.3,418H213.4M204.3,428.5H213" stroke="#3a3a3a" stroke-width="0.8"/>
<rect x="206.3" y="325" width="10" height="40" fill="#121212"/>
<rect x="209.1" y="339" width="3.9" height="18.6" fill="#8c8c8c" opacity="0.55"/>
<!-- collar -->
<path d="M202.3,322.1H223Q225,322.1 225,324.5V332.8H200.3V324.5Q200.3,322.1 202.3,322.1Z" fill="#151515"/>
<path d="M207,324H216" stroke="#6a6a7a" stroke-width="1.2"/>
<!-- head -->
<path d="M196,303.5Q196,301.9 198,301.9H218Q219.7,301.9 219.7,303.5V318.6H216.4V322.4H207.8V318.6H203V309.5H196Z" fill="#181818"/>
<rect x="196" y="304.2" width="17" height="2.2" fill="#303030"/>
<!-- handle -->
<path d="M203.5,313L193.5,320.3" stroke="#d2d2d2" stroke-width="2.3" stroke-linecap="butt"/>
<path d="M193.8,320.6L175.6,330.2" stroke="#1b1b1b" stroke-width="6.4" stroke-linecap="round"/>
</g>

<g id="voxel">
<g stroke="#efefef" stroke-width="0.8" fill="none"><path d="M594,222L592.7,380 M625.8,222L623.3,380 M656.5,222L653,380 M687.2,222L685.7,380 M691.6,222L691.4,380"/><path d="M582,239.5L703,241 M582,275.7L703,278 M582,307.6L703,310 M582,341.7L703,344 M582,375L703,377"/></g>
<path d="M645.60,376.04 L645.60,374.76 L645.61,373.14 L645.61,371.23 L645.62,369.07 L645.62,366.74 L645.63,364.29 L645.63,361.76 L645.64,359.22 L645.64,356.72 L645.65,354.32 L645.67,352.07 L645.70,350.03 L645.73,348.14 L645.75,346.29 L645.78,344.49 L645.80,342.73 L645.83,341.02 L645.85,339.34 L645.87,337.71 L645.90,336.11 L645.92,334.54 L645.95,333.01 L645.97,331.51 L646.00,330.04 L646.03,328.62 L646.06,327.26 L646.09,325.95 L646.12,324.68 L646.15,323.45 L646.18,322.25 L646.21,321.06 L646.25,319.88 L646.28,318.70 L646.32,317.51 L646.36,316.31 L646.40,315.07 L646.44,313.78 L646.49,312.41 L646.55,310.98 L646.61,309.53 L646.66,308.08 L646.72,306.65 L646.78,305.28 L646.84,303.98 L646.89,302.79 L646.93,301.72 L646.97,300.82 L647.00,300.09 L642.60,299.91 L642.57,300.63 L642.53,301.54 L642.49,302.60 L642.44,303.80 L642.38,305.09 L642.33,306.47 L642.27,307.90 L642.21,309.36 L642.15,310.81 L642.10,312.24 L642.05,313.62 L642.00,314.93 L641.96,316.16 L641.92,317.37 L641.88,318.57 L641.85,319.75 L641.81,320.93 L641.78,322.13 L641.75,323.34 L641.72,324.58 L641.69,325.85 L641.66,327.16 L641.63,328.53 L641.60,329.96 L641.57,331.43 L641.55,332.94 L641.52,334.47 L641.50,336.04 L641.47,337.64 L641.45,339.28 L641.43,340.96 L641.40,342.67 L641.38,344.43 L641.35,346.23 L641.33,348.08 L641.30,349.97 L641.27,352.01 L641.22,354.25 L641.15,356.65 L641.08,359.15 L641.01,361.69 L640.94,364.21 L640.87,366.67 L640.80,369.00 L640.74,371.15 L640.68,373.06 L640.64,374.69 L640.60,375.96Z" fill="#0fbb0f"/>
<path d="M640.5,314 L640,300 L639.3,290 L636,282 L634.5,274 L635.5,268 L640,263 L645,260 L649.5,263 L650.5,270 L650.5,280 L651,292 L650,302 L647.2,314 Z" fill="#0fbb0f"/>
<path d="M646.12,262.10 L645.98,261.79 L645.82,261.43 L645.64,261.00 L645.44,260.53 L645.21,260.01 L644.96,259.43 L644.69,258.81 L644.40,258.15 L644.08,257.45 L643.75,256.70 L643.39,255.92 L643.01,255.10 L642.61,254.23 L642.18,253.29 L641.72,252.27 L641.23,251.19 L640.71,250.07 L640.18,248.92 L639.64,247.75 L639.05,246.59 L638.45,245.43 L637.84,244.30 L637.23,243.20 L636.63,242.14 L636.00,241.08 L635.32,239.99 L634.60,238.87 L633.87,237.76 L633.14,236.66 L632.41,235.59 L631.71,234.56 L631.04,233.60 L630.43,232.72 L629.89,231.94 L629.44,231.28 L629.07,230.74 L626.93,232.06 L627.25,232.64 L627.65,233.35 L628.13,234.18 L628.66,235.11 L629.23,236.12 L629.84,237.19 L630.46,238.30 L631.09,239.44 L631.71,240.58 L632.30,241.72 L632.86,242.82 L633.37,243.86 L633.86,244.91 L634.34,246.01 L634.83,247.15 L635.32,248.32 L635.81,249.49 L636.32,250.66 L636.81,251.80 L637.29,252.93 L637.75,254.01 L638.19,255.04 L638.60,256.01 L638.99,256.90 L639.34,257.72 L639.67,258.49 L639.98,259.23 L640.27,259.92 L640.54,260.58 L640.79,261.19 L641.02,261.76 L641.23,262.28 L641.42,262.76 L641.59,263.19 L641.75,263.57 L641.88,263.90Z" fill="#0fbb0f"/>
<path d="M642.84,272.66 L642.46,272.05 L641.98,271.29 L641.42,270.38 L640.78,269.36 L640.09,268.24 L639.35,267.05 L638.57,265.81 L637.77,264.55 L636.96,263.28 L636.14,262.03 L635.33,260.81 L634.55,259.64 L633.64,258.55 L632.61,257.44 L631.53,256.29 L630.42,255.13 L629.31,253.98 L628.21,252.85 L627.15,251.76 L626.14,250.73 L625.22,249.79 L624.40,248.96 L623.70,248.25 L623.15,247.68 L620.05,249.92 L620.41,250.63 L620.88,251.52 L621.42,252.56 L622.03,253.73 L622.69,254.99 L623.39,256.33 L624.10,257.71 L624.82,259.12 L625.53,260.52 L626.20,261.88 L626.83,263.18 L627.45,264.36 L628.15,265.46 L628.87,266.63 L629.62,267.86 L630.36,269.11 L631.10,270.36 L631.83,271.60 L632.52,272.79 L633.17,273.92 L633.77,274.96 L634.31,275.89 L634.78,276.70 L635.16,277.34Z" fill="#0fbb0f"/>
<path d="M650.77,266.40 L650.88,265.61 L651.01,264.60 L651.17,263.42 L651.34,262.10 L651.52,260.67 L651.73,259.17 L651.94,257.62 L652.16,256.07 L652.39,254.54 L652.61,253.07 L652.76,251.68 L652.92,250.43 L653.09,249.22 L653.30,247.98 L653.53,246.71 L653.78,245.45 L654.04,244.20 L654.30,242.99 L654.56,241.83 L654.80,240.75 L655.03,239.75 L655.24,238.85 L655.41,238.08 L655.54,237.45 L653.86,236.95 L653.63,237.54 L653.34,238.26 L652.99,239.10 L652.60,240.05 L652.18,241.09 L651.74,242.21 L651.28,243.38 L650.81,244.59 L650.35,245.84 L649.90,247.09 L649.48,248.34 L649.08,249.57 L648.70,250.86 L648.32,252.26 L648.00,253.76 L647.69,255.31 L647.40,256.88 L647.11,258.43 L646.84,259.94 L646.59,261.37 L646.36,262.68 L646.15,263.85 L645.98,264.83 L645.83,265.60Z" fill="#0fbb0f"/>
<path d="M651.86,278.02 L652.35,277.56 L652.95,276.98 L653.63,276.30 L654.39,275.55 L655.22,274.74 L656.09,273.89 L657.00,273.02 L657.93,272.14 L658.86,271.29 L659.78,270.47 L660.67,269.71 L661.51,269.03 L662.34,268.42 L663.21,267.84 L664.13,267.26 L665.09,266.68 L666.08,266.11 L667.09,265.54 L668.11,264.95 L669.13,264.33 L670.13,263.68 L671.12,262.99 L672.08,262.26 L673.01,261.48 L673.87,260.65 L674.68,259.78 L675.43,258.89 L676.12,257.99 L676.78,257.10 L677.40,256.22 L678.00,255.37 L678.58,254.56 L679.15,253.79 L679.71,253.08 L680.26,252.45 L680.81,251.88 L681.41,251.36 L682.06,250.84 L682.76,250.34 L683.48,249.87 L684.21,249.41 L684.94,248.99 L685.65,248.59 L686.32,248.22 L686.95,247.89 L687.52,247.58 L688.03,247.30 L688.43,247.06 L687.17,244.74 L686.79,244.93 L686.32,245.14 L685.74,245.39 L685.08,245.68 L684.35,246.00 L683.57,246.36 L682.76,246.76 L681.92,247.19 L681.07,247.65 L680.23,248.16 L679.39,248.71 L678.59,249.32 L677.82,249.98 L677.08,250.71 L676.37,251.47 L675.68,252.26 L675.00,253.06 L674.33,253.87 L673.67,254.66 L673.00,255.44 L672.32,256.18 L671.62,256.88 L670.92,257.53 L670.19,258.12 L669.42,258.67 L668.58,259.20 L667.69,259.72 L666.74,260.23 L665.76,260.75 L664.75,261.29 L663.71,261.84 L662.67,262.40 L661.61,262.98 L660.55,263.60 L659.50,264.26 L658.49,264.97 L657.48,265.72 L656.47,266.53 L655.45,267.38 L654.43,268.26 L653.43,269.14 L652.46,270.01 L651.54,270.85 L650.67,271.65 L649.89,272.38 L649.19,273.02 L648.61,273.56 L648.14,273.98Z" fill="#0fbb0f"/>
<path d="M652.87,288.02 L653.40,287.50 L654.07,286.85 L654.85,286.09 L655.71,285.23 L656.64,284.32 L657.63,283.35 L658.65,282.37 L659.68,281.38 L660.71,280.43 L661.71,279.52 L662.65,278.69 L663.53,277.96 L664.36,277.31 L665.21,276.69 L666.07,276.10 L666.95,275.52 L667.83,274.96 L668.73,274.41 L669.63,273.85 L670.52,273.30 L671.42,272.73 L672.30,272.15 L673.17,271.53 L674.02,270.88 L674.84,270.20 L675.62,269.50 L676.36,268.80 L677.07,268.10 L677.75,267.41 L678.40,266.74 L679.03,266.10 L679.64,265.49 L680.23,264.92 L680.81,264.41 L681.38,263.95 L681.95,263.54 L682.54,263.17 L683.13,262.82 L683.72,262.51 L684.29,262.23 L684.87,261.97 L685.45,261.74 L686.04,261.54 L686.63,261.35 L687.24,261.19 L687.87,261.04 L688.52,260.90 L689.17,260.79 L689.85,260.70 L690.60,260.64 L691.42,260.62 L692.28,260.62 L693.16,260.64 L694.03,260.68 L694.89,260.73 L695.71,260.79 L696.47,260.84 L697.15,260.89 L697.74,260.93 L698.21,260.95 L698.39,258.65 L697.95,258.60 L697.40,258.53 L696.73,258.43 L695.97,258.32 L695.15,258.20 L694.27,258.08 L693.35,257.97 L692.42,257.88 L691.49,257.81 L690.57,257.77 L689.67,257.77 L688.83,257.81 L688.06,257.89 L687.32,257.99 L686.59,258.11 L685.86,258.25 L685.14,258.41 L684.42,258.61 L683.71,258.83 L682.99,259.08 L682.27,259.37 L681.54,259.69 L680.81,260.05 L680.05,260.46 L679.27,260.93 L678.51,261.45 L677.77,262.02 L677.05,262.61 L676.34,263.22 L675.64,263.84 L674.94,264.46 L674.24,265.07 L673.54,265.67 L672.83,266.25 L672.11,266.80 L671.38,267.32 L670.62,267.81 L669.82,268.30 L668.98,268.80 L668.12,269.30 L667.23,269.81 L666.31,270.33 L665.37,270.87 L664.41,271.43 L663.44,272.02 L662.45,272.65 L661.46,273.32 L660.47,274.04 L659.46,274.82 L658.41,275.68 L657.32,276.60 L656.21,277.56 L655.11,278.54 L654.03,279.51 L652.99,280.45 L652.02,281.35 L651.12,282.17 L650.33,282.90 L649.66,283.51 L649.13,283.98Z" fill="#0fbb0f"/>
<path d="M650.75,304.75 L651.32,304.23 L652.01,303.56 L652.80,302.80 L653.66,301.95 L654.59,301.05 L655.58,300.11 L656.60,299.16 L657.65,298.22 L658.71,297.32 L659.74,296.49 L660.74,295.75 L661.70,295.11 L662.68,294.53 L663.71,293.96 L664.78,293.42 L665.87,292.90 L666.98,292.40 L668.11,291.93 L669.25,291.49 L670.40,291.07 L671.54,290.65 L672.68,290.24 L673.81,289.86 L674.92,289.51 L676.03,289.20 L677.15,288.91 L678.28,288.66 L679.42,288.43 L680.58,288.24 L681.73,288.06 L682.88,287.92 L684.02,287.80 L685.16,287.70 L686.27,287.63 L687.37,287.58 L688.43,287.55 L689.48,287.55 L690.57,287.61 L691.70,287.70 L692.84,287.83 L693.98,287.99 L695.10,288.16 L696.18,288.35 L697.20,288.53 L698.14,288.70 L698.99,288.85 L699.73,288.98 L700.33,289.07 L700.87,286.33 L700.31,286.19 L699.63,286.01 L698.81,285.78 L697.88,285.52 L696.86,285.25 L695.77,284.96 L694.62,284.68 L693.43,284.40 L692.22,284.15 L690.99,283.94 L689.76,283.77 L688.57,283.65 L687.41,283.58 L686.23,283.53 L685.03,283.50 L683.81,283.50 L682.58,283.52 L681.32,283.56 L680.06,283.63 L678.78,283.74 L677.50,283.87 L676.22,284.04 L674.94,284.25 L673.68,284.49 L672.42,284.76 L671.15,285.06 L669.87,285.40 L668.58,285.78 L667.31,286.23 L666.04,286.71 L664.78,287.22 L663.53,287.76 L662.29,288.34 L661.07,288.95 L659.88,289.60 L658.70,290.29 L657.49,291.07 L656.28,291.96 L655.08,292.90 L653.90,293.89 L652.76,294.90 L651.66,295.90 L650.62,296.88 L649.65,297.80 L648.77,298.65 L648.00,299.39 L647.37,299.99 L646.85,300.45Z" fill="#0fbb0f"/>
<path d="M644.11,301.08 L643.82,300.84 L643.46,300.55 L643.09,300.27 L642.70,299.98 L642.29,299.67 L641.88,299.34 L641.46,298.98 L641.04,298.61 L640.63,298.21 L640.23,297.78 L639.85,297.34 L639.51,296.88 L639.19,296.38 L638.85,295.77 L638.50,295.05 L638.13,294.24 L637.74,293.36 L637.33,292.42 L636.89,291.45 L636.40,290.46 L635.87,289.45 L635.27,288.45 L634.60,287.47 L633.85,286.55 L633.06,285.72 L632.25,284.95 L631.40,284.22 L630.53,283.52 L629.64,282.85 L628.73,282.22 L627.81,281.61 L626.88,281.02 L625.96,280.45 L625.04,279.90 L624.10,279.41 L623.18,278.94 L622.27,278.46 L621.34,277.99 L620.40,277.53 L619.45,277.08 L618.49,276.64 L617.51,276.21 L616.51,275.80 L615.49,275.41 L614.44,275.04 L613.37,274.70 L612.27,274.37 L611.15,274.08 L610.01,273.82 L608.84,273.56 L607.64,273.32 L606.40,273.10 L605.15,272.90 L603.88,272.72 L602.60,272.58 L601.32,272.46 L600.03,272.38 L598.76,272.34 L597.50,272.34 L596.24,272.38 L594.94,272.50 L593.60,272.70 L592.25,272.96 L590.90,273.26 L589.56,273.60 L588.26,273.96 L587.03,274.32 L585.87,274.67 L584.81,275.00 L583.88,275.29 L583.10,275.52 L582.47,275.69 L583.13,278.51 L583.80,278.38 L584.65,278.19 L585.61,277.96 L586.68,277.71 L587.84,277.44 L589.06,277.18 L590.32,276.92 L591.60,276.68 L592.87,276.48 L594.10,276.33 L595.27,276.24 L596.36,276.22 L597.44,276.25 L598.56,276.33 L599.70,276.45 L600.86,276.60 L602.03,276.78 L603.20,277.00 L604.36,277.24 L605.51,277.51 L606.64,277.79 L607.74,278.09 L608.82,278.40 L609.85,278.72 L610.82,279.04 L611.76,279.39 L612.68,279.76 L613.57,280.14 L614.45,280.55 L615.32,280.97 L616.17,281.42 L617.02,281.88 L617.87,282.35 L618.71,282.84 L619.56,283.35 L620.42,283.86 L621.28,284.39 L622.15,284.93 L623.03,285.43 L623.90,285.93 L624.76,286.44 L625.59,286.96 L626.39,287.48 L627.15,288.02 L627.88,288.57 L628.56,289.12 L629.19,289.69 L629.75,290.25 L630.25,290.82 L630.71,291.46 L631.17,292.18 L631.62,292.97 L632.05,293.80 L632.48,294.68 L632.91,295.57 L633.34,296.47 L633.78,297.37 L634.24,298.25 L634.74,299.11 L635.29,299.92 L635.87,300.64 L636.45,301.28 L637.03,301.87 L637.61,302.40 L638.18,302.88 L638.72,303.31 L639.23,303.70 L639.69,304.04 L640.11,304.33 L640.44,304.57 L640.69,304.75 L640.89,304.92Z" fill="#0fbb0f"/>
<path d="M645.32,333.61 L645.27,333.30 L645.23,332.94 L645.19,332.49 L645.13,331.96 L645.07,331.38 L644.99,330.74 L644.90,330.05 L644.79,329.32 L644.66,328.55 L644.50,327.75 L644.32,326.92 L644.10,326.07 L643.87,325.22 L643.61,324.32 L643.32,323.39 L643.02,322.42 L642.69,321.42 L642.35,320.40 L642.00,319.36 L641.63,318.32 L641.26,317.28 L640.88,316.24 L640.49,315.22 L640.11,314.24 L639.74,313.28 L639.37,312.29 L638.99,311.27 L638.60,310.22 L638.19,309.16 L637.76,308.09 L637.31,307.02 L636.82,305.95 L636.30,304.91 L635.73,303.88 L635.11,302.89 L634.43,301.95 L633.68,301.15 L632.92,300.42 L632.13,299.74 L631.32,299.11 L630.49,298.52 L629.64,297.98 L628.77,297.49 L627.88,297.04 L626.98,296.63 L626.06,296.27 L625.12,295.96 L624.17,295.68 L623.17,295.43 L622.14,295.23 L621.08,295.07 L620.00,294.95 L618.91,294.88 L617.81,294.84 L616.71,294.84 L615.62,294.88 L614.54,294.97 L613.48,295.10 L612.45,295.27 L611.42,295.50 L610.37,295.82 L609.33,296.25 L608.33,296.74 L607.37,297.29 L606.45,297.86 L605.57,298.45 L604.75,299.03 L603.99,299.58 L603.31,300.09 L602.72,300.53 L602.24,300.87 L601.85,301.13 L603.55,304.07 L604.04,303.82 L604.64,303.48 L605.30,303.09 L606.02,302.66 L606.79,302.21 L607.60,301.76 L608.44,301.32 L609.29,300.91 L610.13,300.55 L610.93,300.25 L611.68,300.03 L612.38,299.90 L613.12,299.82 L613.93,299.77 L614.79,299.76 L615.67,299.78 L616.57,299.84 L617.48,299.94 L618.38,300.07 L619.27,300.22 L620.13,300.41 L620.95,300.63 L621.72,300.86 L622.43,301.12 L623.12,301.41 L623.78,301.72 L624.42,302.05 L625.03,302.41 L625.62,302.79 L626.19,303.20 L626.73,303.63 L627.26,304.09 L627.76,304.59 L628.25,305.11 L628.72,305.68 L629.17,306.25 L629.64,306.80 L630.10,307.43 L630.57,308.15 L631.04,308.94 L631.50,309.80 L631.97,310.70 L632.42,311.65 L632.88,312.62 L633.33,313.61 L633.78,314.60 L634.24,315.60 L634.69,316.56 L635.14,317.50 L635.57,318.44 L636.01,319.40 L636.44,320.38 L636.86,321.35 L637.27,322.31 L637.66,323.27 L638.04,324.20 L638.40,325.10 L638.73,325.96 L639.03,326.78 L639.30,327.53 L639.53,328.22 L639.73,328.91 L639.91,329.58 L640.08,330.24 L640.22,330.88 L640.34,331.49 L640.46,332.07 L640.56,332.61 L640.65,333.12 L640.73,333.59 L640.81,334.03 L640.88,334.39Z" fill="#0fbb0f"/>
<circle cx="600.6" cy="309.2" r="1.4" fill="#0fbb0f"/>
<path d="M645.98,341.51 L646.48,341.15 L647.10,340.68 L647.80,340.14 L648.58,339.54 L649.42,338.90 L650.31,338.23 L651.23,337.55 L652.16,336.88 L653.10,336.23 L654.01,335.64 L654.88,335.10 L655.72,334.64 L656.56,334.20 L657.45,333.75 L658.33,333.32 L659.23,332.91 L660.12,332.52 L661.01,332.16 L661.89,331.82 L662.77,331.53 L663.63,331.27 L664.48,331.06 L665.31,330.89 L666.13,330.77 L666.96,330.69 L667.80,330.64 L668.65,330.62 L669.49,330.61 L670.34,330.63 L671.20,330.69 L672.05,330.78 L672.91,330.91 L673.78,331.07 L674.64,331.27 L675.51,331.51 L676.37,331.77 L677.21,332.09 L678.07,332.47 L678.97,332.92 L679.89,333.44 L680.83,333.99 L681.78,334.59 L682.74,335.21 L683.70,335.84 L684.65,336.48 L685.59,337.11 L686.53,337.72 L687.44,338.29 L688.33,338.84 L689.24,339.41 L690.16,340.00 L691.09,340.59 L692.00,341.17 L692.88,341.75 L693.72,342.30 L694.52,342.82 L695.24,343.29 L695.90,343.72 L696.46,344.09 L696.91,344.38 L698.69,341.82 L698.26,341.50 L697.73,341.10 L697.11,340.64 L696.41,340.12 L695.65,339.55 L694.83,338.94 L693.98,338.31 L693.10,337.66 L692.20,337.00 L691.31,336.35 L690.42,335.71 L689.56,335.11 L688.73,334.51 L687.87,333.87 L686.99,333.20 L686.07,332.50 L685.14,331.80 L684.18,331.09 L683.20,330.38 L682.20,329.70 L681.19,329.06 L680.15,328.45 L679.10,327.90 L678.03,327.43 L677.00,327.03 L675.97,326.67 L674.93,326.37 L673.89,326.10 L672.85,325.88 L671.80,325.70 L670.75,325.56 L669.70,325.47 L668.64,325.42 L667.59,325.45 L666.53,325.52 L665.47,325.63 L664.39,325.80 L663.31,326.03 L662.24,326.30 L661.19,326.63 L660.15,326.99 L659.12,327.38 L658.10,327.80 L657.11,328.25 L656.13,328.71 L655.17,329.18 L654.23,329.67 L653.28,330.16 L652.30,330.72 L651.28,331.36 L650.25,332.04 L649.24,332.75 L648.24,333.48 L647.28,334.20 L646.36,334.90 L645.51,335.57 L644.73,336.17 L644.04,336.71 L643.48,337.15 L643.02,337.49Z" fill="#0fbb0f"/>
<path d="M644.07,337.64 L643.86,337.45 L643.60,337.20 L643.27,336.87 L642.88,336.48 L642.44,336.05 L641.96,335.60 L641.45,335.13 L640.92,334.66 L640.36,334.20 L639.77,333.76 L639.14,333.36 L638.52,333.02 L637.97,332.77 L637.45,332.54 L636.90,332.32 L636.31,332.11 L635.70,331.93 L635.05,331.78 L634.36,331.67 L633.64,331.61 L632.88,331.64 L632.09,331.76 L631.29,332.00 L630.52,332.37 L629.81,332.84 L629.20,333.37 L628.64,333.94 L628.14,334.55 L627.67,335.18 L627.23,335.84 L626.83,336.53 L626.46,337.23 L626.11,337.93 L625.79,338.64 L625.49,339.33 L625.20,340.03 L624.93,340.74 L624.67,341.49 L624.43,342.26 L624.21,343.05 L624.01,343.84 L623.82,344.64 L623.66,345.44 L623.51,346.24 L623.39,347.03 L623.28,347.81 L623.20,348.56 L623.14,349.32 L623.11,350.10 L623.13,350.90 L623.19,351.68 L623.27,352.45 L623.37,353.18 L623.48,353.89 L623.60,354.55 L623.72,355.16 L623.83,355.71 L623.92,356.18 L623.99,356.56 L624.04,356.86 L628.16,356.34 L628.12,355.96 L628.06,355.50 L627.99,355.00 L627.91,354.46 L627.83,353.88 L627.76,353.27 L627.69,352.65 L627.64,352.02 L627.60,351.40 L627.59,350.79 L627.61,350.23 L627.66,349.68 L627.74,349.11 L627.84,348.47 L627.96,347.82 L628.11,347.14 L628.27,346.46 L628.45,345.77 L628.65,345.09 L628.86,344.41 L629.08,343.76 L629.31,343.13 L629.55,342.54 L629.80,341.97 L630.07,341.41 L630.36,340.82 L630.67,340.24 L630.98,339.67 L631.31,339.12 L631.63,338.61 L631.94,338.13 L632.24,337.71 L632.52,337.36 L632.77,337.10 L632.97,336.92 L633.08,336.83 L633.15,336.80 L633.24,336.77 L633.36,336.75 L633.55,336.74 L633.78,336.76 L634.07,336.80 L634.39,336.87 L634.75,336.97 L635.13,337.10 L635.52,337.26 L635.93,337.43 L636.28,337.58 L636.56,337.73 L636.88,337.93 L637.26,338.20 L637.67,338.53 L638.10,338.90 L638.54,339.29 L638.96,339.69 L639.37,340.08 L639.76,340.46 L640.12,340.80 L640.46,341.12 L640.73,341.36Z" fill="#0fbb0f"/>
</g>
<g id="comp">
<g stroke="#ececec" stroke-width="0.7" fill="none"><path d="M521,568H546 M521,594.5H546 M521,621H546 M521,647H546 M540,532V542"/></g>
<path d="M526,542.8L532,538.5L537.5,537.2L544.8,537L546,540L543.8,547L546.5,549.5L548.4,553L543.3,558.5L541.8,562V597L543.5,597.5L545.5,599.5L541.8,603V655.4H535.2V616L532.5,614L533.5,611.5L535.2,610.5V582L530.5,579.5L530,577L534.5,574.5L535.2,560L531.5,550L528,546.5Z" fill="#3a2ea9"/>
<path d="M608.65,600.72 L608.38,600.41 L608.03,600.03 L607.64,599.60 L607.22,599.15 L606.76,598.66 L606.30,598.14 L605.82,597.62 L605.36,597.08 L604.92,596.56 L604.51,596.05 L604.15,595.58 L603.87,595.18 L603.66,594.84 L603.47,594.48 L603.29,594.08 L603.10,593.62 L602.91,593.11 L602.69,592.54 L602.46,591.92 L602.18,591.25 L601.85,590.53 L601.46,589.78 L601.00,589.01 L600.47,588.26 L599.93,587.56 L599.36,586.88 L598.76,586.19 L598.13,585.50 L597.48,584.80 L596.80,584.11 L596.10,583.43 L595.38,582.76 L594.66,582.11 L593.92,581.48 L593.18,580.87 L592.43,580.29 L591.69,579.75 L590.94,579.24 L590.21,578.79 L589.48,578.36 L588.76,577.97 L588.04,577.59 L587.31,577.23 L586.57,576.88 L585.82,576.52 L585.03,576.15 L584.20,575.74 L583.35,575.31 L582.43,574.82 L581.42,574.26 L580.32,573.62 L579.16,572.94 L577.95,572.24 L576.70,571.52 L575.43,570.83 L574.15,570.16 L572.86,569.54 L571.57,568.99 L570.29,568.52 L569.00,568.17 L567.68,567.96 L566.38,567.88 L565.11,567.92 L563.89,568.05 L562.72,568.24 L561.61,568.47 L560.57,568.73 L559.62,568.98 L558.78,569.22 L558.06,569.42 L557.50,569.57 L557.05,569.66 L557.75,573.94 L558.34,573.86 L559.08,573.72 L559.86,573.55 L560.70,573.36 L561.58,573.18 L562.50,573.01 L563.45,572.87 L564.39,572.78 L565.32,572.74 L566.21,572.76 L567.04,572.86 L567.80,573.03 L568.62,573.31 L569.55,573.72 L570.57,574.23 L571.64,574.83 L572.76,575.50 L573.90,576.21 L575.04,576.96 L576.18,577.72 L577.30,578.47 L578.39,579.19 L579.45,579.87 L580.45,580.49 L581.38,581.02 L582.24,581.51 L583.03,581.95 L583.78,582.36 L584.48,582.74 L585.14,583.09 L585.76,583.44 L586.34,583.78 L586.91,584.12 L587.46,584.49 L588.00,584.88 L588.57,585.31 L589.15,585.79 L589.76,586.31 L590.37,586.87 L590.98,587.45 L591.59,588.04 L592.18,588.65 L592.75,589.26 L593.30,589.87 L593.82,590.48 L594.31,591.07 L594.75,591.63 L595.13,592.14 L595.41,592.57 L595.64,592.97 L595.84,593.39 L596.03,593.84 L596.21,594.31 L596.39,594.83 L596.59,595.40 L596.80,596.01 L597.05,596.66 L597.35,597.36 L597.71,598.09 L598.13,598.82 L598.58,599.51 L599.06,600.18 L599.56,600.84 L600.08,601.48 L600.59,602.10 L601.10,602.71 L601.60,603.27 L602.06,603.80 L602.48,604.28 L602.84,604.69 L603.13,605.02 L603.35,605.28Z" fill="#4455ee"/>
<path d="M613.98,599.51 L613.91,598.98 L613.84,598.32 L613.75,597.51 L613.66,596.57 L613.55,595.53 L613.43,594.40 L613.29,593.21 L613.13,591.96 L612.94,590.67 L612.72,589.36 L612.46,588.04 L612.17,586.74 L611.85,585.46 L611.51,584.16 L611.13,582.83 L610.73,581.49 L610.31,580.12 L609.87,578.75 L609.41,577.37 L608.94,575.99 L608.47,574.62 L607.98,573.26 L607.47,571.93 L606.94,570.63 L606.39,569.32 L605.81,568.01 L605.22,566.72 L604.62,565.44 L604.01,564.18 L603.40,562.93 L602.80,561.71 L602.20,560.50 L601.62,559.31 L601.06,558.14 L600.52,556.99 L600.00,555.86 L599.49,554.70 L598.96,553.48 L598.42,552.23 L597.89,550.96 L597.36,549.70 L596.85,548.47 L596.37,547.29 L595.91,546.18 L595.49,545.16 L595.12,544.24 L594.80,543.46 L594.53,542.82 L590.07,544.38 L590.25,545.03 L590.47,545.83 L590.73,546.78 L591.03,547.85 L591.35,549.01 L591.70,550.25 L592.06,551.55 L592.44,552.87 L592.82,554.22 L593.22,555.56 L593.61,556.87 L594.00,558.14 L594.40,559.39 L594.82,560.66 L595.26,561.94 L595.71,563.21 L596.16,564.50 L596.61,565.78 L597.06,567.06 L597.49,568.34 L597.92,569.61 L598.32,570.87 L598.70,572.12 L599.06,573.37 L599.41,574.66 L599.79,575.97 L600.18,577.30 L600.57,578.63 L600.94,579.96 L601.31,581.29 L601.65,582.61 L601.98,583.90 L602.28,585.16 L602.56,586.39 L602.81,587.56 L603.03,588.66 L603.20,589.73 L603.35,590.81 L603.48,591.93 L603.58,593.05 L603.67,594.17 L603.74,595.26 L603.80,596.31 L603.85,597.30 L603.89,598.23 L603.93,599.08 L603.98,599.86 L604.02,600.49Z" fill="#4455ee"/>
<path d="M613.17,588.26 L613.25,587.91 L613.33,587.50 L613.41,587.05 L613.51,586.55 L613.61,586.00 L613.73,585.41 L613.87,584.76 L614.03,584.06 L614.20,583.31 L614.41,582.51 L614.64,581.65 L614.91,580.73 L615.21,579.73 L615.55,578.62 L615.93,577.43 L616.33,576.17 L616.76,574.86 L617.21,573.50 L617.67,572.12 L618.12,570.73 L618.56,569.33 L619.00,567.95 L619.44,566.61 L619.86,565.32 L620.30,564.01 L620.77,562.64 L621.27,561.22 L621.79,559.77 L622.31,558.34 L622.83,556.93 L623.32,555.57 L623.80,554.30 L624.23,553.12 L624.62,552.08 L624.95,551.18 L625.21,550.46 L624.39,550.14 L624.09,550.84 L623.71,551.71 L623.26,552.73 L622.75,553.87 L622.20,555.12 L621.62,556.45 L621.02,557.82 L620.42,559.23 L619.81,560.65 L619.22,562.04 L618.66,563.40 L618.14,564.68 L617.63,565.96 L617.12,567.28 L616.59,568.64 L616.07,570.02 L615.57,571.40 L615.09,572.79 L614.63,574.15 L614.19,575.47 L613.77,576.73 L613.37,577.93 L613.01,579.04 L612.69,580.07 L612.41,581.01 L612.16,581.90 L611.93,582.74 L611.74,583.52 L611.57,584.25 L611.42,584.92 L611.29,585.53 L611.17,586.09 L611.07,586.59 L610.98,587.03 L610.90,587.41 L610.83,587.74Z" fill="#4455ee"/>
<path d="M617.41,597.80 L617.51,597.30 L617.59,596.67 L617.62,596.16 L617.65,595.71 L617.68,595.29 L617.73,594.89 L617.79,594.49 L617.89,594.10 L618.02,593.70 L618.21,593.27 L618.46,592.81 L618.81,592.31 L619.32,591.69 L620.04,590.94 L620.90,590.09 L621.89,589.17 L622.96,588.20 L624.09,587.20 L625.26,586.18 L626.42,585.16 L627.57,584.15 L628.63,583.12 L629.63,582.10 L630.53,581.13 L631.35,580.17 L632.08,579.22 L632.73,578.31 L633.32,577.43 L633.86,576.60 L634.35,575.82 L634.81,575.09 L635.26,574.43 L635.69,573.82 L636.13,573.28 L636.57,572.80 L637.04,572.37 L637.57,571.98 L638.20,571.60 L638.91,571.23 L639.69,570.88 L640.50,570.57 L641.33,570.28 L642.14,570.01 L642.93,569.77 L643.67,569.55 L644.35,569.35 L644.96,569.16 L645.44,568.99 L644.56,566.01 L644.14,566.11 L643.60,566.20 L642.93,566.31 L642.16,566.44 L641.30,566.59 L640.39,566.76 L639.43,566.97 L638.45,567.22 L637.45,567.52 L636.46,567.87 L635.49,568.31 L634.56,568.83 L633.71,569.42 L632.93,570.06 L632.22,570.74 L631.56,571.45 L630.94,572.16 L630.34,572.88 L629.74,573.60 L629.15,574.32 L628.53,575.02 L627.89,575.72 L627.21,576.40 L626.47,577.07 L625.61,577.79 L624.61,578.58 L623.51,579.44 L622.37,580.37 L621.18,581.34 L619.97,582.31 L618.76,583.30 L617.59,584.28 L616.46,585.24 L615.41,586.20 L614.45,587.14 L613.59,588.09 L612.85,589.06 L612.24,590.05 L611.75,591.03 L611.39,591.97 L611.12,592.87 L610.94,593.70 L610.82,594.45 L610.74,595.09 L610.69,595.60 L610.66,595.95 L610.63,596.07 L610.59,596.20Z" fill="#4455ee"/>
<path d="M615.59,609.35 L615.78,609.13 L615.99,608.86 L616.14,608.65 L616.25,608.49 L616.35,608.35 L616.46,608.20 L616.60,608.02 L616.79,607.79 L617.05,607.50 L617.39,607.15 L617.82,606.73 L618.35,606.24 L619.01,605.64 L619.79,604.94 L620.67,604.16 L621.62,603.32 L622.64,602.44 L623.70,601.52 L624.79,600.58 L625.89,599.63 L627.00,598.70 L628.08,597.78 L629.14,596.91 L630.14,596.08 L631.13,595.24 L632.14,594.38 L633.15,593.52 L634.17,592.66 L635.17,591.81 L636.17,590.99 L637.16,590.19 L638.12,589.43 L639.05,588.72 L639.94,588.06 L640.79,587.47 L641.58,586.97 L642.33,586.53 L643.09,586.15 L643.86,585.82 L644.62,585.53 L645.37,585.27 L646.11,585.05 L646.81,584.86 L647.48,584.69 L648.10,584.54 L648.68,584.40 L649.20,584.27 L649.63,584.13 L648.97,581.47 L648.59,581.54 L648.13,581.60 L647.58,581.67 L646.93,581.75 L646.21,581.85 L645.42,581.97 L644.57,582.12 L643.68,582.32 L642.75,582.56 L641.79,582.85 L640.81,583.21 L639.82,583.63 L638.83,584.12 L637.81,584.67 L636.77,585.27 L635.69,585.91 L634.60,586.59 L633.49,587.30 L632.37,588.03 L631.25,588.78 L630.13,589.53 L629.02,590.27 L627.93,591.01 L626.86,591.72 L625.76,592.48 L624.62,593.29 L623.44,594.14 L622.25,595.00 L621.06,595.88 L619.88,596.75 L618.73,597.60 L617.64,598.42 L616.61,599.20 L615.65,599.92 L614.80,600.58 L614.05,601.16 L613.39,601.69 L612.81,602.18 L612.32,602.62 L611.89,603.02 L611.52,603.39 L611.21,603.72 L610.94,604.02 L610.74,604.28 L610.58,604.46 L610.50,604.57 L610.47,604.59 L610.41,604.65Z" fill="#4455ee"/>
<path d="M603.5,594 L617.5,597 L621,606 L617,615.5 L613.8,625.7 L606.4,626.5 L605.5,613 Z" fill="#4455ee"/>
<path d="M651.5,584 L656.5,584.8 L654,586.6 Z" fill="#4455ee"/>
<path d="M617.5,604.5L629,596" stroke="#fff" stroke-width="1" opacity="0.7"/>
<path d="M554.6,610V618" stroke="#8ec0ee" stroke-width="0.8"/>
<path d="M534,655.6Q534.5,653 535.5,652H541.5Q542.5,653 543,655.6Z" fill="#3a2ea9"/>
<path d="M663.22,560.08 L663.79,559.85 L664.47,559.53 L665.22,559.15 L666.05,558.74 L666.94,558.30 L667.90,557.86 L668.92,557.45 L669.98,557.08 L671.09,556.76 L672.23,556.53 L673.38,556.40 L674.58,556.38 L675.92,556.45 L677.45,556.60 L679.10,556.82 L680.85,557.11 L682.66,557.45 L684.50,557.84 L686.33,558.27 L688.12,558.75 L689.84,559.26 L691.44,559.79 L692.89,560.33 L694.14,560.87 L695.24,561.34 L696.28,561.82 L697.24,562.35 L698.16,562.93 L699.04,563.56 L699.90,564.24 L700.74,564.96 L701.58,565.71 L702.42,566.50 L703.27,567.31 L704.15,568.13 L705.03,568.93 L705.90,569.71 L706.77,570.55 L707.65,571.45 L708.54,572.38 L709.41,573.33 L710.27,574.28 L711.08,575.20 L711.85,576.08 L712.55,576.89 L713.19,577.63 L713.75,578.26 L714.20,578.76 L717.40,576.04 L717.00,575.54 L716.51,574.90 L715.93,574.14 L715.28,573.28 L714.56,572.34 L713.78,571.34 L712.97,570.31 L712.11,569.25 L711.24,568.20 L710.34,567.17 L709.44,566.18 L708.57,565.27 L707.76,564.44 L706.97,563.61 L706.18,562.75 L705.35,561.87 L704.48,560.98 L703.56,560.09 L702.58,559.20 L701.51,558.33 L700.36,557.49 L699.10,556.69 L697.74,555.95 L696.26,555.33 L694.64,554.87 L692.90,554.47 L691.06,554.12 L689.15,553.82 L687.19,553.57 L685.20,553.36 L683.22,553.21 L681.27,553.10 L679.40,553.05 L677.61,553.05 L675.95,553.11 L674.42,553.22 L672.97,553.44 L671.59,553.79 L670.29,554.24 L669.07,554.76 L667.95,555.33 L666.91,555.92 L665.96,556.52 L665.09,557.09 L664.32,557.62 L663.64,558.08 L663.07,558.45 L662.58,558.72Z" fill="#2b8be6"/>
<path d="M727.26,584.85 L727.56,584.49 L727.92,584.04 L728.32,583.53 L728.76,582.95 L729.24,582.34 L729.75,581.71 L730.28,581.06 L730.83,580.42 L731.39,579.80 L731.95,579.22 L732.50,578.70 L733.04,578.24 L733.58,577.82 L734.13,577.43 L734.67,577.06 L735.21,576.71 L735.78,576.37 L736.37,576.05 L736.99,575.72 L737.67,575.38 L738.39,575.02 L739.17,574.63 L740.02,574.21 L740.95,573.76 L741.99,573.26 L743.10,572.71 L744.29,572.13 L745.53,571.53 L746.81,570.92 L748.12,570.32 L749.46,569.74 L750.80,569.19 L752.14,568.69 L753.45,568.25 L754.74,567.89 L755.97,567.61 L757.23,567.43 L758.59,567.32 L760.02,567.28 L761.49,567.30 L762.97,567.36 L764.43,567.46 L765.84,567.58 L767.18,567.71 L768.42,567.84 L769.52,567.95 L770.48,568.03 L771.24,568.08 L771.36,566.72 L770.62,566.64 L769.70,566.50 L768.61,566.33 L767.38,566.13 L766.04,565.92 L764.61,565.72 L763.12,565.53 L761.60,565.38 L760.06,565.27 L758.54,565.23 L757.05,565.26 L755.63,565.39 L754.23,565.62 L752.81,565.93 L751.38,566.32 L749.93,566.76 L748.50,567.26 L747.08,567.78 L745.69,568.32 L744.34,568.87 L743.05,569.41 L741.83,569.92 L740.69,570.40 L739.65,570.84 L738.68,571.23 L737.78,571.61 L736.94,571.98 L736.15,572.35 L735.43,572.73 L734.73,573.12 L734.07,573.51 L733.43,573.91 L732.81,574.33 L732.20,574.78 L731.59,575.25 L730.96,575.76 L730.31,576.34 L729.67,576.98 L729.04,577.66 L728.44,578.37 L727.86,579.08 L727.31,579.78 L726.80,580.46 L726.32,581.10 L725.89,581.69 L725.51,582.21 L725.20,582.63 L724.94,582.95Z" fill="#1cb0a6"/>
<path d="M672.80,582.09 L673.34,582.01 L674.02,581.89 L674.79,581.75 L675.64,581.60 L676.57,581.43 L677.54,581.27 L678.55,581.12 L679.58,580.98 L680.60,580.88 L681.59,580.80 L682.55,580.78 L683.44,580.80 L684.34,580.87 L685.26,580.96 L686.20,581.08 L687.15,581.23 L688.10,581.41 L689.05,581.61 L690.01,581.83 L690.96,582.08 L691.90,582.35 L692.84,582.65 L693.76,582.96 L694.67,583.29 L695.56,583.63 L696.45,584.01 L697.35,584.43 L698.23,584.87 L699.12,585.33 L700.01,585.82 L700.89,586.33 L701.77,586.86 L702.64,587.41 L703.51,587.97 L704.38,588.53 L705.23,589.10 L706.09,589.70 L707.00,590.37 L707.93,591.09 L708.88,591.85 L709.83,592.62 L710.75,593.39 L711.64,594.14 L712.48,594.86 L713.25,595.52 L713.95,596.11 L714.54,596.62 L715.03,597.02 L716.57,595.18 L716.12,594.79 L715.54,594.28 L714.87,593.68 L714.11,592.99 L713.28,592.25 L712.40,591.47 L711.47,590.67 L710.53,589.86 L709.57,589.06 L708.61,588.28 L707.67,587.56 L706.77,586.90 L705.90,586.29 L705.03,585.69 L704.14,585.09 L703.25,584.51 L702.34,583.93 L701.43,583.38 L700.51,582.84 L699.57,582.32 L698.63,581.82 L697.67,581.36 L696.71,580.92 L695.73,580.51 L694.75,580.14 L693.75,579.81 L692.74,579.51 L691.72,579.23 L690.69,578.98 L689.66,578.76 L688.63,578.56 L687.60,578.39 L686.58,578.25 L685.56,578.14 L684.56,578.05 L683.56,578.00 L682.51,577.99 L681.43,578.04 L680.33,578.14 L679.23,578.28 L678.15,578.44 L677.10,578.62 L676.09,578.80 L675.15,578.99 L674.29,579.16 L673.54,579.31 L672.91,579.43 L672.40,579.51Z" fill="#6dbf4b"/>
<path d="M663.79,587.05 L664.38,586.85 L664.97,586.65 L665.56,586.45 L666.15,586.25 L666.75,586.05 L667.33,585.82 L667.90,585.57 L668.48,585.32 L669.05,585.07 L669.62,584.81 L670.20,584.56 L670.77,584.31 L670.43,583.29 L669.82,583.44 L669.21,583.59 L668.60,583.73 L667.99,583.88 L667.38,584.03 L666.77,584.18 L666.17,584.35 L665.58,584.55 L664.99,584.75 L664.40,584.95 L663.80,585.15 L663.21,585.35Z" fill="#6dbf4b"/>
<path d="M658.86,593.28 L659.03,593.15 L659.19,593.03 L659.36,592.90 L659.53,592.78 L659.69,592.65 L659.85,592.52 L660.01,592.38 L660.16,592.24 L660.32,592.10 L660.48,591.96 L660.63,591.82 L660.79,591.68 L660.21,590.92 L660.03,591.03 L659.86,591.14 L659.68,591.25 L659.50,591.36 L659.32,591.47 L659.15,591.58 L658.97,591.69 L658.81,591.82 L658.64,591.95 L658.47,592.07 L658.31,592.19 L658.14,592.32Z" fill="#6dbf4b"/>
<path d="M726.76,609.52 L727.32,609.19 L728.02,608.77 L728.82,608.28 L729.70,607.73 L730.67,607.14 L731.69,606.52 L732.76,605.89 L733.86,605.27 L734.97,604.67 L736.08,604.11 L737.16,603.60 L738.22,603.15 L739.30,602.72 L740.42,602.27 L741.56,601.83 L742.72,601.39 L743.88,600.98 L745.05,600.59 L746.22,600.25 L747.38,599.96 L748.53,599.74 L749.65,599.57 L750.76,599.46 L751.84,599.44 L752.92,599.51 L754.03,599.68 L755.18,599.93 L756.34,600.26 L757.52,600.65 L758.71,601.09 L759.91,601.57 L761.09,602.08 L762.27,602.60 L763.43,603.12 L764.57,603.63 L765.68,604.11 L766.77,604.59 L767.89,605.12 L769.02,605.68 L770.16,606.28 L771.28,606.88 L772.37,607.48 L773.41,608.07 L774.39,608.63 L775.29,609.14 L776.09,609.60 L776.79,610.00 L777.35,610.31 L778.05,609.09 L777.51,608.77 L776.84,608.35 L776.07,607.85 L775.19,607.30 L774.23,606.69 L773.21,606.05 L772.13,605.40 L771.02,604.73 L769.89,604.07 L768.75,603.44 L767.62,602.84 L766.52,602.29 L765.44,601.77 L764.34,601.21 L763.20,600.64 L762.03,600.06 L760.83,599.48 L759.61,598.92 L758.37,598.40 L757.12,597.92 L755.84,597.50 L754.56,597.16 L753.26,596.91 L751.96,596.76 L750.66,596.73 L749.35,596.80 L748.05,596.99 L746.76,597.25 L745.48,597.58 L744.22,597.96 L742.98,598.37 L741.76,598.82 L740.57,599.28 L739.41,599.74 L738.29,600.20 L737.18,600.65 L736.05,601.14 L734.89,601.70 L733.72,602.31 L732.56,602.94 L731.43,603.60 L730.33,604.25 L729.29,604.89 L728.32,605.50 L727.43,606.06 L726.65,606.55 L725.98,606.96 L725.44,607.28Z" fill="#f4a62a"/>
<path d="M672.57,636.44 L672.88,635.84 L673.25,635.08 L673.68,634.19 L674.16,633.20 L674.67,632.13 L675.23,631.01 L675.83,629.85 L676.45,628.68 L677.09,627.53 L677.76,626.42 L678.43,625.38 L679.12,624.42 L679.84,623.50 L680.61,622.54 L681.41,621.58 L682.26,620.63 L683.12,619.68 L684.01,618.76 L684.90,617.88 L685.80,617.04 L686.69,616.26 L687.57,615.55 L688.42,614.92 L689.25,614.38 L690.05,613.92 L690.86,613.54 L691.68,613.21 L692.49,612.94 L693.31,612.72 L694.14,612.55 L694.96,612.42 L695.78,612.31 L696.60,612.23 L697.42,612.17 L698.23,612.13 L699.02,612.10 L699.78,612.10 L700.51,612.13 L701.23,612.20 L701.95,612.30 L702.67,612.43 L703.38,612.58 L704.09,612.76 L704.81,612.97 L705.53,613.19 L706.25,613.43 L706.99,613.68 L707.72,613.93 L708.47,614.22 L709.26,614.56 L710.10,614.94 L710.95,615.36 L711.81,615.80 L712.65,616.24 L713.47,616.68 L714.24,617.10 L714.96,617.49 L715.60,617.85 L716.15,618.15 L716.59,618.38 L717.61,616.42 L717.18,616.20 L716.65,615.91 L716.02,615.57 L715.30,615.17 L714.52,614.75 L713.69,614.30 L712.82,613.84 L711.93,613.39 L711.04,612.95 L710.16,612.55 L709.29,612.18 L708.48,611.87 L707.71,611.60 L706.95,611.34 L706.19,611.09 L705.43,610.86 L704.66,610.64 L703.88,610.44 L703.10,610.27 L702.30,610.12 L701.49,610.01 L700.66,609.93 L699.82,609.90 L698.98,609.90 L698.14,609.93 L697.29,609.97 L696.42,610.03 L695.53,610.12 L694.63,610.24 L693.71,610.41 L692.79,610.63 L691.86,610.89 L690.93,611.22 L690.00,611.62 L689.07,612.08 L688.15,612.62 L687.24,613.25 L686.31,613.96 L685.38,614.74 L684.46,615.59 L683.53,616.49 L682.62,617.42 L681.72,618.40 L680.85,619.39 L680.00,620.39 L679.19,621.40 L678.41,622.39 L677.68,623.38 L676.98,624.41 L676.28,625.52 L675.62,626.69 L674.97,627.89 L674.36,629.10 L673.78,630.29 L673.24,631.45 L672.73,632.54 L672.28,633.54 L671.87,634.42 L671.52,635.17 L671.23,635.76Z" fill="#f3e60c"/>
</g>
<path d="M638.6,209.3L646.4,209.3L642.5,217.5z" fill="#000"/>
<g fill="none" stroke="#C00000" stroke-width="3">
<rect x="5.8" y="175.7" width="406.7" height="434.7" rx="67.8"/>
<ellipse cx="642.7" cy="75.2" rx="115.7" ry="66.2"/>
<rect x="507.6" y="216.5" width="280.9" height="229.8" rx="38.3"/>
<rect x="893.7" y="266.3" width="208" height="130" rx="21.7"/>
<rect x="503.7" y="522.5" width="284.9" height="242.8" rx="40.5"/>
<rect x="895.6" y="577.4" width="209" height="129.9" rx="21.7"/>
</g>
<g stroke="#000" stroke-width="1.3" fill="none">
<line x1="642.5" y1="143" x2="642.5" y2="211"/>
<line x1="415" y1="331.5" x2="500" y2="331.5"/>
<line x1="790" y1="331.5" x2="883" y2="331.5"/>
<line x1="640.5" y1="448" x2="640.5" y2="512"/>
<line x1="790" y1="643.5" x2="883" y2="643.5"/>
</g>
<g fill="#000">
<path d="M499,327.7L507.5,331.5L499,335.3z"/>
<path d="M882.5,327.7L890.5,331.5L882.5,335.3z"/>
<path d="M636.7,511L644.3,511L640.5,519.2z"/>
<path d="M882.5,639.7L890.5,643.5L882.5,647.3z"/>
</g>
<g lengthAdjust="spacingAndGlyphs">
<text x="548.0" y="70.0" textLength="183.3" lengthAdjust="spacingAndGlyphs">Camera calibration</text>
<text x="588.9" y="99.0" textLength="106.2" lengthAdjust="spacingAndGlyphs">parameters</text>
<text x="561.5" y="407.0" textLength="100.3" lengthAdjust="spacingAndGlyphs">Voxel-grid</text>
<text x="669.1" y="407.0" textLength="48.8" lengthAdjust="spacingAndGlyphs">plant</text>
<text x="582.9" y="436.0" textLength="119.7" lengthAdjust="spacingAndGlyphs">construction</text>
<text x="920.0" y="320.0" textLength="125.6" lengthAdjust="spacingAndGlyphs">Computation</text>
<text x="1051.0" y="320.0" textLength="23.1" lengthAdjust="spacingAndGlyphs">of</text>
<text x="904.4" y="349.0" textLength="68.1" lengthAdjust="spacingAndGlyphs">holistic</text>
<text x="981.9" y="349.0" textLength="109.9" lengthAdjust="spacingAndGlyphs">phenotypes</text>
<text x="922.9" y="618.0" textLength="125.8" lengthAdjust="spacingAndGlyphs">Computation</text>
<text x="1053.9" y="618.0" textLength="23.1" lengthAdjust="spacingAndGlyphs">of</text>
<text x="948.0" y="647.0" textLength="107.4" lengthAdjust="spacingAndGlyphs">component</text>
<text x="948.6" y="676.0" textLength="110.6" lengthAdjust="spacingAndGlyphs">phenotypes</text>
<text x="565.6" y="720.0" textLength="162.8" lengthAdjust="spacingAndGlyphs">Plant component</text>
<text x="530.2" y="749.0" textLength="234.3" lengthAdjust="spacingAndGlyphs">detection and separation</text>
<text x="518.4" y="674.0" textLength="46.2" lengthAdjust="spacingAndGlyphs">stem</text>
<text x="587.0" y="676.0" textLength="44.9" lengthAdjust="spacingAndGlyphs">TLC</text>
<text x="687.3" y="672.0" textLength="60.0" lengthAdjust="spacingAndGlyphs">leaves</text>
<text x="126.2" y="570.0" textLength="107.4" lengthAdjust="spacingAndGlyphs">Multi-view</text>
<text x="240.7" y="570.0" textLength="68.4" lengthAdjust="spacingAndGlyphs">Images</text>
</g>
</svg>
</body></html>
